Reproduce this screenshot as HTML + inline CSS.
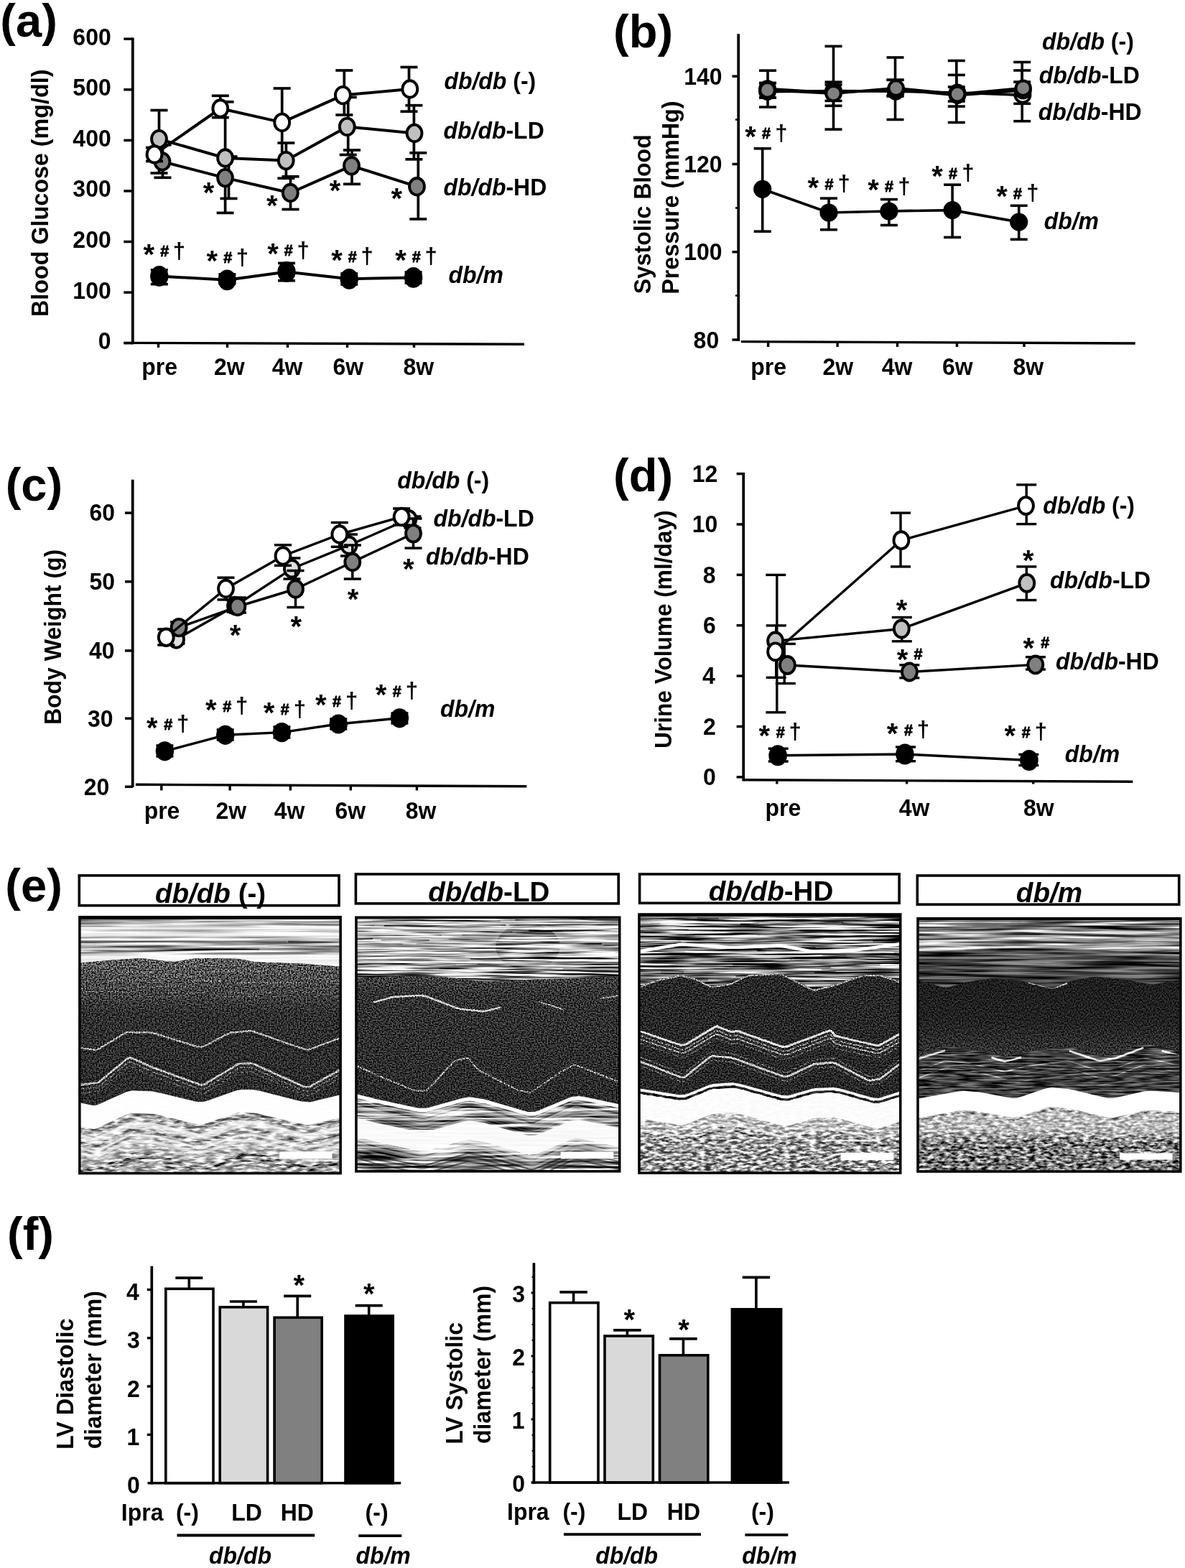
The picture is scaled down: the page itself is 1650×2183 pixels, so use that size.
<!DOCTYPE html>
<html lang="en"><head><meta charset="utf-8"><title>Figure</title>
<style>
html,body{margin:0;padding:0;background:#fff}
body{width:1650px;height:2183px;overflow:hidden}
svg{display:block}
svg text{font-family:'Liberation Sans', Arial, Helvetica, sans-serif;font-weight:700;fill:#000}
</style></head><body>
<svg width="1650" height="2183" viewBox="0 0 1650 2183">
<defs>
<clipPath id="ec1"><rect x="112.1" y="1279.5" width="360.8" height="352.7"/></clipPath>
<filter id="ef1_0" filterUnits="userSpaceOnUse" x="110.1" y="1277.5" width="364.8" height="356.7" color-interpolation-filters="sRGB"><feGaussianBlur in="SourceGraphic" stdDeviation="0.6" result="base"/><feTurbulence type="fractalNoise" baseFrequency="0.006 0.3" numOctaves="3" seed="14" result="t1"/><feColorMatrix in="t1" type="matrix" values="2.6 0 0 0 -0.8 2.6 0 0 0 -0.8 2.6 0 0 0 -0.8 0 0 0 0 1" result="n"/><feBlend in="n" in2="base" mode="overlay"/></filter>
<clipPath id="el1_0"><path d="M109.1,1276.5 L475.9,1276.5 L480,1346.18 L479.54,1346.15 L475.35,1345.81 L470.69,1345.44 L432.49,1342.38 L427.28,1341.99 L418.06,1341.49 L412.01,1341.26 L366.17,1339.74 L360.4,1339.51 L353.69,1339.01 L351.28,1338.62 L336,1335.56 L333.67,1335.18 L327.8,1334.78 L322.97,1334.67 L284.76,1334.06 L279.83,1334.03 L273.12,1334.36 L269.87,1334.8 L246.95,1338.47 L243.79,1338.87 L237.92,1338.87 L233.92,1338.47 L203.35,1334.8 L199.26,1334.38 L192.55,1334.21 L188.46,1334.43 L157.9,1336.57 L153.81,1336.86 L147.1,1337.4 L143.01,1337.76 L112.45,1340.51 L108.72,1340.85 L105.37,1341.15 L105,1341.18 Z"/></clipPath>
<linearGradient id="eg1_0" gradientUnits="userSpaceOnUse" x1="0" y1="1279" x2="0" y2="1342"><stop offset="0" stop-color="#aaaaaa"/><stop offset="0.16" stop-color="#b9b9b9"/><stop offset="0.21" stop-color="#fafafa"/><stop offset="0.27" stop-color="#c8c8c8"/><stop offset="0.35" stop-color="#fafafa"/><stop offset="0.43" stop-color="#b9b9b9"/><stop offset="0.75" stop-color="#afafaf"/><stop offset="0.83" stop-color="#f0f0f0"/><stop offset="1" stop-color="#f0f0f0"/></linearGradient>
<filter id="ef1_1" filterUnits="userSpaceOnUse" x="110.1" y="1277.5" width="364.8" height="356.7" color-interpolation-filters="sRGB"><feGaussianBlur in="SourceGraphic" stdDeviation="0.5" result="base"/><feTurbulence type="fractalNoise" baseFrequency="0.5 0.55" numOctaves="2" seed="17" result="t1"/><feColorMatrix in="t1" type="matrix" values="2.7 0 0 0 -0.85 2.7 0 0 0 -0.85 2.7 0 0 0 -0.85 0 0 0 0 1" result="n"/><feBlend in="n" in2="base" mode="overlay"/></filter>
<clipPath id="el1_1"><path d="M105,1341.18 L105.37,1341.15 L108.72,1340.85 L112.45,1340.51 L143.01,1337.76 L147.1,1337.4 L153.81,1336.86 L157.9,1336.57 L188.46,1334.43 L192.55,1334.21 L199.26,1334.38 L203.35,1334.8 L233.92,1338.47 L237.92,1338.87 L243.79,1338.87 L246.95,1338.47 L269.87,1334.8 L273.12,1334.36 L279.83,1334.03 L284.76,1334.06 L322.97,1334.67 L327.8,1334.78 L333.67,1335.18 L336,1335.56 L351.28,1338.62 L353.69,1339.01 L360.4,1339.51 L366.17,1339.74 L412.01,1341.26 L418.06,1341.49 L427.28,1341.99 L432.49,1342.38 L470.69,1345.44 L475.35,1345.81 L479.54,1346.15 L480,1346.18 L480,1523.73 L479.58,1523.83 L475.72,1524.77 L471.44,1525.81 L436.29,1534.37 L431.42,1535.26 L422.19,1534.84 L415.81,1533.44 L366.91,1521.06 L360.77,1519.55 L353.73,1518.19 L351.28,1518.05 L336,1518.05 L333.71,1518.19 L328.18,1519.55 L323.71,1521.06 L288.56,1533.44 L283.75,1534.82 L275.03,1534.98 L269.2,1533.81 L224.89,1522.96 L219.21,1521.63 L211.83,1520.36 L208.51,1520.13 L185.58,1519.37 L182.41,1519.45 L176.37,1520.96 L172.18,1522.72 L140.09,1537.24 L135.96,1538.95 L130.43,1540.1 L127.81,1539.77 L109.47,1535.64 L107.23,1535.14 L105.22,1534.69 L105,1534.64 Z"/></clipPath>
<linearGradient id="eg1_1" gradientUnits="userSpaceOnUse" x1="0" y1="1338" x2="0" y2="1540"><stop offset="0" stop-color="#5a5a5a"/><stop offset="0.16" stop-color="#484848"/><stop offset="0.36" stop-color="#303030"/><stop offset="1" stop-color="#2c2c2c"/></linearGradient>
<filter id="ef1_2" filterUnits="userSpaceOnUse" x="110.1" y="1277.5" width="364.8" height="356.7" color-interpolation-filters="sRGB"><feGaussianBlur in="SourceGraphic" stdDeviation="0.6" result="base"/><feTurbulence type="fractalNoise" baseFrequency="0.07 0.28" numOctaves="3" seed="20" result="t1"/><feColorMatrix in="t1" type="matrix" values="2.4 0 0 0 -0.7 2.4 0 0 0 -0.7 2.4 0 0 0 -0.7 0 0 0 0 1" result="n"/><feBlend in="n" in2="base" mode="overlay"/></filter>
<clipPath id="el1_2"><path d="M105,1533.64 L105.22,1533.69 L107.23,1534.14 L109.47,1534.64 L127.81,1538.77 L130.43,1539.1 L135.96,1537.95 L140.09,1536.24 L172.18,1521.72 L176.37,1519.96 L182.41,1518.45 L185.58,1518.37 L208.51,1519.13 L211.83,1519.36 L219.21,1520.63 L224.89,1521.96 L269.2,1532.81 L275.03,1533.98 L283.75,1533.82 L288.56,1532.44 L323.71,1520.06 L328.18,1518.55 L333.71,1517.19 L336,1517.05 L351.28,1517.05 L353.73,1517.19 L360.77,1518.55 L366.91,1520.06 L415.81,1532.44 L422.19,1533.84 L431.42,1534.26 L436.29,1533.37 L471.44,1524.81 L475.72,1523.77 L479.58,1522.83 L480,1522.73 L475.9,1635.2 L109.1,1635.2 Z"/></clipPath>
<clipPath id="ec2"><rect x="497.2" y="1278.5" width="364.3" height="350.9"/></clipPath>
<filter id="ef2_0" filterUnits="userSpaceOnUse" x="495.2" y="1276.5" width="368.3" height="354.9" color-interpolation-filters="sRGB"><feGaussianBlur in="SourceGraphic" stdDeviation="0.5" result="base"/><feTurbulence type="fractalNoise" baseFrequency="0.01 0.36" numOctaves="3" seed="25" result="t1"/><feColorMatrix in="t1" type="matrix" values="3.6 0 0 0 -1.3 3.6 0 0 0 -1.3 3.6 0 0 0 -1.3 0 0 0 0 1" result="n"/><feBlend in="n" in2="base" mode="overlay"/></filter>
<clipPath id="el2_0"><path d="M494.2,1275.5 L864.5,1275.5 L870.01,1358.67 L869.36,1358.7 L863.41,1358.95 L856.81,1359.23 L802.6,1361.56 L795.44,1361.86 L784.4,1362.28 L778.08,1362.5 L731.63,1364.05 L725.59,1364.26 L717.1,1364.6 L712.76,1364.8 L681.79,1366.35 L677.65,1366.49 L670.85,1366.24 L666.7,1365.79 L635.73,1361.92 L631.4,1361.42 L622.9,1360.83 L616.87,1360.59 L570.41,1359.05 L564.19,1358.89 L553.99,1358.97 L547.78,1359.23 L501.32,1361.56 L495.66,1361.84 L490.56,1362.1 L490,1362.12 Z"/></clipPath>
<linearGradient id="eg2_0" gradientUnits="userSpaceOnUse" x1="0" y1="1279" x2="0" y2="1362"><stop offset="0" stop-color="#c3c3c3"/><stop offset="0.25" stop-color="#c6c6c6"/><stop offset="0.73" stop-color="#b4b4b4"/><stop offset="1" stop-color="#787878"/></linearGradient>
<filter id="ef2_1" filterUnits="userSpaceOnUse" x="495.2" y="1276.5" width="368.3" height="354.9" color-interpolation-filters="sRGB"><feGaussianBlur in="SourceGraphic" stdDeviation="0.5" result="base"/><feTurbulence type="fractalNoise" baseFrequency="0.5 0.55" numOctaves="2" seed="28" result="t1"/><feColorMatrix in="t1" type="matrix" values="2.7 0 0 0 -0.85 2.7 0 0 0 -0.85 2.7 0 0 0 -0.85 0 0 0 0 1" result="n"/><feBlend in="n" in2="base" mode="overlay"/></filter>
<clipPath id="el2_1"><path d="M490,1362.12 L490.56,1362.1 L495.66,1361.84 L501.32,1361.56 L547.78,1359.23 L553.99,1358.97 L564.19,1358.89 L570.41,1359.05 L616.87,1360.59 L622.9,1360.83 L631.4,1361.42 L635.73,1361.92 L666.7,1365.79 L670.85,1366.24 L677.65,1366.49 L681.79,1366.35 L712.76,1364.8 L717.1,1364.6 L725.59,1364.26 L731.63,1364.05 L778.08,1362.5 L784.4,1362.28 L795.44,1361.86 L802.6,1361.56 L856.81,1359.23 L863.41,1358.95 L869.36,1358.7 L870.01,1358.67 L870.01,1540 L869.45,1539.88 L864.35,1538.81 L858.69,1537.62 L812.23,1527.87 L806.09,1526.88 L796.57,1527.68 L791.11,1529.64 L750.84,1546.68 L745.4,1548.59 L736.05,1549.02 L730.1,1547.62 L685.19,1534.46 L679.53,1532.82 L672.9,1531.12 L670.47,1530.68 L654.99,1528.36 L652.6,1528.22 L646.31,1529.24 L641.03,1530.62 L599.22,1542.24 L593.6,1543.54 L584.25,1543.8 L578.47,1542.8 L535.11,1533.51 L529.55,1532.31 L522.24,1530.64 L518.89,1529.82 L495.66,1523.93 L492.83,1523.21 L490.28,1522.57 L490,1522.5 Z"/></clipPath>
<linearGradient id="eg2_1" gradientUnits="userSpaceOnUse" x1="0" y1="1360" x2="0" y2="1520"><stop offset="0" stop-color="#404040"/><stop offset="0.16" stop-color="#323232"/><stop offset="1" stop-color="#2c2c2c"/></linearGradient>
<filter id="ef2_2" filterUnits="userSpaceOnUse" x="495.2" y="1276.5" width="368.3" height="354.9" color-interpolation-filters="sRGB"><feGaussianBlur in="SourceGraphic" stdDeviation="0.5" result="base"/><feTurbulence type="fractalNoise" baseFrequency="0.012 0.3" numOctaves="3" seed="31" result="t1"/><feColorMatrix in="t1" type="matrix" values="2.6 0 0 0 -0.8 2.6 0 0 0 -0.8 2.6 0 0 0 -0.8 0 0 0 0 1" result="n"/><feBlend in="n" in2="base" mode="overlay"/></filter>
<clipPath id="el2_2"><path d="M490,1521.5 L490.28,1521.57 L492.83,1522.21 L495.66,1522.93 L518.89,1528.82 L522.24,1529.64 L529.55,1531.31 L535.11,1532.51 L578.47,1541.8 L584.25,1542.8 L593.6,1542.54 L599.22,1541.24 L641.03,1529.62 L646.31,1528.24 L652.6,1527.22 L654.99,1527.36 L670.47,1529.68 L672.9,1530.12 L679.53,1531.82 L685.19,1533.46 L730.1,1546.62 L736.05,1548.02 L745.4,1547.59 L750.84,1545.68 L791.11,1528.64 L796.57,1526.68 L806.09,1525.88 L812.23,1526.87 L858.69,1536.62 L864.35,1537.81 L869.45,1538.88 L870.01,1539 L864.5,1632.4 L494.2,1632.4 Z"/></clipPath>
<linearGradient id="eg2_2" gradientUnits="userSpaceOnUse" x1="0" y1="1520" x2="0" y2="1632"><stop offset="0" stop-color="#a0a0a0"/><stop offset="0.7" stop-color="#a0a0a0"/><stop offset="0.77" stop-color="#7d7d7d"/><stop offset="1" stop-color="#878787"/></linearGradient>
<clipPath id="ec3"><rect x="891.2" y="1275.7" width="361.3" height="356.1"/></clipPath>
<filter id="ef3_0" filterUnits="userSpaceOnUse" x="889.2" y="1273.7" width="365.3" height="360.1" color-interpolation-filters="sRGB"><feGaussianBlur in="SourceGraphic" stdDeviation="0.5" result="base"/><feTurbulence type="fractalNoise" baseFrequency="0.01 0.36" numOctaves="3" seed="36" result="t1"/><feColorMatrix in="t1" type="matrix" values="3.6 0 0 0 -1.3 3.6 0 0 0 -1.3 3.6 0 0 0 -1.3 0 0 0 0 1" result="n"/><feBlend in="n" in2="base" mode="overlay"/></filter>
<clipPath id="el3_0"><path d="M888.2,1272.7 L1255.5,1272.7 L1260.01,1368.64 L1259.73,1368.55 L1257.18,1367.7 L1254.35,1366.75 L1231.12,1359.01 L1228.11,1358.07 L1223.86,1357.22 L1221.69,1357.12 L1206.2,1357.12 L1204.04,1357.22 L1199.79,1358.07 L1196.77,1359.01 L1173.54,1366.75 L1170.44,1367.77 L1165.34,1369.3 L1162.23,1370.15 L1139,1376.34 L1135.98,1377 L1131.73,1376.83 L1129.57,1375.96 L1114.08,1368.22 L1112.01,1367.19 L1108.61,1365.49 L1106.54,1364.45 L1091.05,1356.71 L1088.79,1355.78 L1083.69,1355.1 L1079.73,1355.2 L1048.76,1356.75 L1044.8,1357.03 L1039.7,1358.05 L1037.44,1359.01 L1021.96,1366.75 L1019.85,1367.73 L1016.11,1368.92 L1013.66,1369.39 L995.08,1372.49 L992.63,1372.77 L988.89,1372.26 L986.78,1371.36 L971.29,1363.62 L969.25,1362.64 L966.19,1361.45 L964.5,1360.98 L952.11,1357.88 L950.32,1357.56 L946.41,1357.73 L943.43,1358.26 L920.2,1362.9 L917.1,1363.58 L912,1365.11 L908.89,1366.3 L885.66,1375.59 L882.83,1376.72 L880.28,1377.74 L880,1377.85 Z"/></clipPath>
<linearGradient id="eg3_0" gradientUnits="userSpaceOnUse" x1="0" y1="1276" x2="0" y2="1375"><stop offset="0" stop-color="#7d7d7d"/><stop offset="0.34" stop-color="#737373"/><stop offset="0.55" stop-color="#646464"/><stop offset="1" stop-color="#505050"/></linearGradient>
<filter id="ef3_1" filterUnits="userSpaceOnUse" x="889.2" y="1273.7" width="365.3" height="360.1" color-interpolation-filters="sRGB"><feGaussianBlur in="SourceGraphic" stdDeviation="0.5" result="base"/><feTurbulence type="fractalNoise" baseFrequency="0.5 0.55" numOctaves="2" seed="39" result="t1"/><feColorMatrix in="t1" type="matrix" values="2.7 0 0 0 -0.85 2.7 0 0 0 -0.85 2.7 0 0 0 -0.85 0 0 0 0 1" result="n"/><feBlend in="n" in2="base" mode="overlay"/></filter>
<clipPath id="el3_1"><path d="M880,1377.85 L880.28,1377.74 L882.83,1376.72 L885.66,1375.59 L908.89,1366.3 L912,1365.11 L917.1,1363.58 L920.2,1362.9 L943.43,1358.26 L946.41,1357.73 L950.32,1357.56 L952.11,1357.88 L964.5,1360.98 L966.19,1361.45 L969.25,1362.64 L971.29,1363.62 L986.78,1371.36 L988.89,1372.26 L992.63,1372.77 L995.08,1372.49 L1013.66,1369.39 L1016.11,1368.92 L1019.85,1367.73 L1021.96,1366.75 L1037.44,1359.01 L1039.7,1358.05 L1044.8,1357.03 L1048.76,1356.75 L1079.73,1355.2 L1083.69,1355.1 L1088.79,1355.78 L1091.05,1356.71 L1106.54,1364.45 L1108.61,1365.49 L1112.01,1367.19 L1114.08,1368.22 L1129.57,1375.96 L1131.73,1376.83 L1135.98,1377 L1139,1376.34 L1162.23,1370.15 L1165.34,1369.3 L1170.44,1367.77 L1173.54,1366.75 L1196.77,1359.01 L1199.79,1358.07 L1204.04,1357.22 L1206.2,1357.12 L1221.69,1357.12 L1223.86,1357.22 L1228.11,1358.07 L1231.12,1359.01 L1254.35,1366.75 L1257.18,1367.7 L1259.73,1368.55 L1260.01,1368.64 L1260.01,1518.19 L1259.69,1518.29 L1256.8,1519.23 L1253.6,1520.26 L1227.27,1528.78 L1223.6,1529.69 L1216.46,1529.43 L1211.43,1528.21 L1172.71,1517.37 L1167.75,1516.06 L1161.29,1514.96 L1158.38,1514.92 L1138.24,1515.7 L1135.47,1515.88 L1130.38,1516.82 L1126.93,1517.77 L1100.6,1525.51 L1096.82,1526.3 L1088.66,1525.7 L1082.49,1524.19 L1034.49,1511.03 L1028.38,1509.45 L1020.73,1508.17 L1017.51,1508.2 L995.83,1509.75 L992.87,1510.07 L987.6,1511.43 L984.13,1512.77 L957.81,1523.61 L954.02,1524.84 L945.87,1525.18 L939.7,1524.36 L891.69,1516.62 L885.85,1515.68 L880.58,1514.83 L880,1514.73 Z"/></clipPath>
<filter id="ef3_2" filterUnits="userSpaceOnUse" x="889.2" y="1273.7" width="365.3" height="360.1" color-interpolation-filters="sRGB"><feGaussianBlur in="SourceGraphic" stdDeviation="0.5" result="base"/><feTurbulence type="fractalNoise" baseFrequency="0.11 0.3" numOctaves="3" seed="42" result="t1"/><feColorMatrix in="t1" type="matrix" values="2.8 0 0 0 -0.9 2.8 0 0 0 -0.9 2.8 0 0 0 -0.9 0 0 0 0 1" result="n"/><feBlend in="n" in2="base" mode="overlay"/></filter>
<clipPath id="el3_2"><path d="M880,1513.73 L880.58,1513.83 L885.85,1514.68 L891.69,1515.62 L939.7,1523.36 L945.87,1524.18 L954.02,1523.84 L957.81,1522.61 L984.13,1511.77 L987.6,1510.43 L992.87,1509.07 L995.83,1508.75 L1017.51,1507.2 L1020.73,1507.17 L1028.38,1508.45 L1034.49,1510.03 L1082.49,1523.19 L1088.66,1524.7 L1096.82,1525.3 L1100.6,1524.51 L1126.93,1516.77 L1130.38,1515.82 L1135.47,1514.88 L1138.24,1514.7 L1158.38,1513.92 L1161.29,1513.96 L1167.75,1515.06 L1172.71,1516.37 L1211.43,1527.21 L1216.46,1528.43 L1223.6,1528.69 L1227.27,1527.78 L1253.6,1519.26 L1256.8,1518.23 L1259.69,1517.29 L1260.01,1517.19 L1255.5,1634.8 L888.2,1634.8 Z"/></clipPath>
<linearGradient id="eg3_2" gradientUnits="userSpaceOnUse" x1="0" y1="1500" x2="0" y2="1632"><stop offset="0" stop-color="#d2d2d2"/><stop offset="0.53" stop-color="#c3c3c3"/><stop offset="0.68" stop-color="#a0a0a0"/><stop offset="1" stop-color="#969696"/></linearGradient>
<clipPath id="ec4"><rect x="1279.2" y="1280.5" width="363.4" height="349.3"/></clipPath>
<filter id="ef4_0" filterUnits="userSpaceOnUse" x="1277.2" y="1278.5" width="367.4" height="353.3" color-interpolation-filters="sRGB"><feGaussianBlur in="SourceGraphic" stdDeviation="0.8" result="base"/><feTurbulence type="fractalNoise" baseFrequency="0.008 0.28" numOctaves="3" seed="47" result="t1"/><feColorMatrix in="t1" type="matrix" values="2.2 0 0 0 -0.6 2.2 0 0 0 -0.6 2.2 0 0 0 -0.6 0 0 0 0 1" result="n"/><feBlend in="n" in2="base" mode="overlay"/></filter>
<clipPath id="el4_0"><path d="M1276.2,1277.5 L1645.6,1277.5 L1650.01,1362.88 L1649.64,1362.95 L1646.24,1363.54 L1642.46,1364.2 L1611.49,1369.62 L1607.44,1370.23 L1601.49,1370.31 L1598.29,1369.81 L1575.06,1365.16 L1571.86,1364.56 L1565.91,1363.71 L1561.86,1363.28 L1530.88,1360.18 L1526.83,1359.86 L1520.88,1360.03 L1517.68,1360.56 L1494.45,1365.2 L1491.44,1365.85 L1487.19,1367.13 L1485.02,1368.03 L1469.53,1375 L1467.33,1375.77 L1462.74,1375.77 L1459.35,1375 L1433.02,1368.03 L1429.48,1367.15 L1423.53,1366.04 L1419.82,1365.58 L1391.94,1362.48 L1388.27,1362.14 L1382.66,1362.14 L1379.5,1362.48 L1356.27,1365.58 L1353.16,1366.03 L1348.06,1367.05 L1344.95,1367.84 L1321.72,1374.04 L1318.52,1374.68 L1312.57,1374.34 L1308.52,1373.28 L1277.54,1363.99 L1273.77,1362.86 L1270.37,1361.84 L1270,1361.73 Z"/></clipPath>
<linearGradient id="eg4_0" gradientUnits="userSpaceOnUse" x1="0" y1="1281" x2="0" y2="1375"><stop offset="0" stop-color="#6e6e6e"/><stop offset="0.16" stop-color="#787878"/><stop offset="0.26" stop-color="#9b9b9b"/><stop offset="0.41" stop-color="#8c8c8c"/><stop offset="0.48" stop-color="#505050"/><stop offset="1" stop-color="#3a3a3a"/></linearGradient>
<filter id="ef4_1" filterUnits="userSpaceOnUse" x="1277.2" y="1278.5" width="367.4" height="353.3" color-interpolation-filters="sRGB"><feGaussianBlur in="SourceGraphic" stdDeviation="0.6" result="base"/><feTurbulence type="fractalNoise" baseFrequency="0.5 0.55" numOctaves="2" seed="50" result="t1"/><feColorMatrix in="t1" type="matrix" values="2.4 0 0 0 -0.7 2.4 0 0 0 -0.7 2.4 0 0 0 -0.7 0 0 0 0 1" result="n"/><feBlend in="n" in2="base" mode="overlay"/></filter>
<clipPath id="el4_1"><path d="M1270,1361.73 L1270.37,1361.84 L1273.77,1362.86 L1277.54,1363.99 L1308.52,1373.28 L1312.57,1374.34 L1318.52,1374.68 L1321.72,1374.04 L1344.95,1367.84 L1348.06,1367.05 L1353.16,1366.03 L1356.27,1365.58 L1379.5,1362.48 L1382.66,1362.14 L1388.27,1362.14 L1391.94,1362.48 L1419.82,1365.58 L1423.53,1366.04 L1429.48,1367.15 L1433.02,1368.03 L1459.35,1375 L1462.74,1375.77 L1467.33,1375.77 L1469.53,1375 L1485.02,1368.03 L1487.19,1367.13 L1491.44,1365.85 L1494.45,1365.2 L1517.68,1360.56 L1520.88,1360.03 L1526.83,1359.86 L1530.88,1360.18 L1561.86,1363.28 L1565.91,1363.71 L1571.86,1364.56 L1575.06,1365.16 L1598.29,1369.81 L1601.49,1370.31 L1607.44,1370.23 L1611.49,1369.62 L1642.46,1364.2 L1646.24,1363.54 L1649.64,1362.95 L1650.01,1362.88 L1650.01,1466.28 L1649.77,1466.21 L1647.56,1465.62 L1645.11,1464.96 L1624.97,1459.54 L1622.3,1458.83 L1618.05,1457.81 L1615.54,1457.27 L1596.96,1453.4 L1594.38,1453.05 L1589.45,1453.73 L1586.02,1454.91 L1559.69,1464.98 L1556.3,1466.23 L1551.71,1467.59 L1549.51,1468 L1534.02,1470.32 L1531.8,1470.49 L1527.04,1469.72 L1523.46,1468.62 L1495.58,1459.33 L1491.72,1458.25 L1484.41,1457.74 L1479.36,1458.2 L1440.65,1462.84 L1435.67,1463.47 L1429.04,1464.58 L1425.93,1465.3 L1404.25,1470.72 L1401.18,1471.27 L1394.9,1470.93 L1390.3,1469.96 L1354.68,1461.44 L1350.1,1460.39 L1343.98,1459.28 L1341.1,1458.99 L1320.97,1457.44 L1318.14,1457.39 L1312.53,1458.5 L1308.52,1459.89 L1277.54,1471.51 L1273.77,1472.92 L1270.37,1474.2 L1270,1474.34 Z"/></clipPath>
<linearGradient id="eg4_1" gradientUnits="userSpaceOnUse" x1="0" y1="1360" x2="0" y2="1470"><stop offset="0" stop-color="#1e1e1e"/><stop offset="0.55" stop-color="#222222"/><stop offset="1" stop-color="#343434"/></linearGradient>
<filter id="ef4_2" filterUnits="userSpaceOnUse" x="1277.2" y="1278.5" width="367.4" height="353.3" color-interpolation-filters="sRGB"><feGaussianBlur in="SourceGraphic" stdDeviation="0.6" result="base"/><feTurbulence type="fractalNoise" baseFrequency="0.03 0.4" numOctaves="3" seed="53" result="t1"/><feColorMatrix in="t1" type="matrix" values="2.2 0 0 0 -0.6 2.2 0 0 0 -0.6 2.2 0 0 0 -0.6 0 0 0 0 1" result="n"/><feBlend in="n" in2="base" mode="overlay"/></filter>
<clipPath id="el4_2"><path d="M1270,1474.34 L1270.37,1474.2 L1273.77,1472.92 L1277.54,1471.51 L1308.52,1459.89 L1312.53,1458.5 L1318.14,1457.39 L1320.97,1457.44 L1341.1,1458.99 L1343.98,1459.28 L1350.1,1460.39 L1354.68,1461.44 L1390.3,1469.96 L1394.9,1470.93 L1401.18,1471.27 L1404.25,1470.72 L1425.93,1465.3 L1429.04,1464.58 L1435.67,1463.47 L1440.65,1462.84 L1479.36,1458.2 L1484.41,1457.74 L1491.72,1458.25 L1495.58,1459.33 L1523.46,1468.62 L1527.04,1469.72 L1531.8,1470.49 L1534.02,1470.32 L1549.51,1468 L1551.71,1467.59 L1556.3,1466.23 L1559.69,1464.98 L1586.02,1454.91 L1589.45,1453.73 L1594.38,1453.05 L1596.96,1453.4 L1615.54,1457.27 L1618.05,1457.81 L1622.3,1458.83 L1624.97,1459.54 L1645.11,1464.96 L1647.56,1465.62 L1649.77,1466.21 L1650.01,1466.28 L1650.01,1522.1 L1649.58,1522.08 L1645.67,1521.88 L1641.33,1521.65 L1605.71,1519.79 L1600.97,1519.66 L1593.32,1520.3 L1588.74,1521.23 L1554.67,1528.97 L1550.05,1529.8 L1542.07,1529.63 L1536.94,1528.59 L1498.22,1519.3 L1493.28,1518.15 L1487,1516.96 L1484.27,1516.66 L1465.68,1515.11 L1463.03,1515.05 L1457.42,1516.07 L1453.23,1517.37 L1420.71,1528.21 L1416.38,1529.46 L1409.41,1529.97 L1405.25,1529.35 L1374.27,1523.15 L1370.28,1522.38 L1364.84,1521.53 L1362.2,1521.27 L1343.62,1519.72 L1340.8,1519.63 L1333.66,1520.4 L1327.78,1521.41 L1281.32,1529.93 L1275.66,1530.97 L1270.56,1531.9 L1270,1532.01 Z"/></clipPath>
<filter id="ef4_3" filterUnits="userSpaceOnUse" x="1277.2" y="1278.5" width="367.4" height="353.3" color-interpolation-filters="sRGB"><feGaussianBlur in="SourceGraphic" stdDeviation="0.7" result="base"/><feTurbulence type="fractalNoise" baseFrequency="0.12 0.3" numOctaves="3" seed="56" result="t1"/><feColorMatrix in="t1" type="matrix" values="2.2 0 0 0 -0.6 2.2 0 0 0 -0.6 2.2 0 0 0 -0.6 0 0 0 0 1" result="n"/><feBlend in="n" in2="base" mode="overlay"/></filter>
<clipPath id="el4_3"><path d="M1270,1531.01 L1270.56,1530.9 L1275.66,1529.97 L1281.32,1528.93 L1327.78,1520.41 L1333.66,1519.4 L1340.8,1518.63 L1343.62,1518.72 L1362.2,1520.27 L1364.84,1520.53 L1370.28,1521.38 L1374.27,1522.15 L1405.25,1528.35 L1409.41,1528.97 L1416.38,1528.46 L1420.71,1527.21 L1453.23,1516.37 L1457.42,1515.07 L1463.03,1514.05 L1465.68,1514.11 L1484.27,1515.66 L1487,1515.96 L1493.28,1517.15 L1498.22,1518.3 L1536.94,1527.59 L1542.07,1528.63 L1550.05,1528.8 L1554.67,1527.97 L1588.74,1520.23 L1593.32,1519.3 L1600.97,1518.66 L1605.71,1518.79 L1641.33,1520.65 L1645.67,1520.88 L1649.58,1521.08 L1650.01,1521.1 L1645.6,1632.8 L1276.2,1632.8 Z"/></clipPath>
<linearGradient id="eg4_3" gradientUnits="userSpaceOnUse" x1="0" y1="1530" x2="0" y2="1632"><stop offset="0" stop-color="#c8c8c8"/><stop offset="0.41" stop-color="#b9b9b9"/><stop offset="0.61" stop-color="#7d7d7d"/><stop offset="1" stop-color="#737373"/></linearGradient>
</defs>
<rect width="1650" height="2183" fill="#fff"/>
<g id="pa">
<text transform="translate(3.6 50.6)" x="-3.25" y="0" font-size="65" fill="#000" xml:space="preserve">(a)</text>
<text transform="translate(67 438.9) rotate(-90) scale(0.95 1)" x="-2.21" y="0" font-size="34" fill="#000" xml:space="preserve">Blood Glucose (mg/dl)</text>
<line x1="184.8" y1="52.5" x2="184.8" y2="479.2" stroke="#000" stroke-width="3.8"/>
<line x1="172.5" y1="477.4" x2="730" y2="479.2" stroke="#000" stroke-width="3.4"/>
<line x1="172.3" y1="54.2" x2="185" y2="54.2" stroke="#000" stroke-width="3.5"/>
<text transform="translate(153.3 62.6) scale(0.94 1)" x="-55.25" y="0" font-size="34" fill="#000" xml:space="preserve">600</text>
<line x1="172.3" y1="124.78" x2="185" y2="124.78" stroke="#000" stroke-width="3.5"/>
<text transform="translate(153.3 133.18) scale(0.94 1)" x="-55.25" y="0" font-size="34" fill="#000" xml:space="preserve">500</text>
<line x1="172.3" y1="195.36" x2="185" y2="195.36" stroke="#000" stroke-width="3.5"/>
<text transform="translate(153.3 203.76) scale(0.94 1)" x="-55.25" y="0" font-size="34" fill="#000" xml:space="preserve">400</text>
<line x1="172.3" y1="265.94" x2="185" y2="265.94" stroke="#000" stroke-width="3.5"/>
<text transform="translate(153.3 274.34) scale(0.94 1)" x="-55.25" y="0" font-size="34" fill="#000" xml:space="preserve">300</text>
<line x1="172.3" y1="336.52" x2="185" y2="336.52" stroke="#000" stroke-width="3.5"/>
<text transform="translate(153.3 344.92) scale(0.94 1)" x="-55.25" y="0" font-size="34" fill="#000" xml:space="preserve">200</text>
<line x1="172.3" y1="407.1" x2="185" y2="407.1" stroke="#000" stroke-width="3.5"/>
<text transform="translate(153.3 415.5) scale(0.94 1)" x="-55.25" y="0" font-size="34" fill="#000" xml:space="preserve">100</text>
<line x1="172.3" y1="477.68" x2="185" y2="477.68" stroke="#000" stroke-width="3.5"/>
<text transform="translate(153.3 486.08) scale(0.94 1)" x="-17.51" y="0" font-size="34" fill="#000" xml:space="preserve">0</text>
<line x1="220.5" y1="478" x2="220.5" y2="484" stroke="#000" stroke-width="3.4"/>
<line x1="316.5" y1="478" x2="316.5" y2="484" stroke="#000" stroke-width="3.4"/>
<line x1="400.5" y1="478" x2="400.5" y2="484" stroke="#000" stroke-width="3.4"/>
<line x1="483.5" y1="478" x2="483.5" y2="484" stroke="#000" stroke-width="3.4"/>
<line x1="576.5" y1="478" x2="576.5" y2="484" stroke="#000" stroke-width="3.4"/>
<text transform="translate(199.3 522.4) scale(0.94 1)" x="-2.21" y="0" font-size="34" fill="#000" xml:space="preserve">pre</text>
<text transform="translate(299 522.4) scale(0.94 1)" x="-1.19" y="0" font-size="34" fill="#000" xml:space="preserve">2w</text>
<text transform="translate(379.3 522.4) scale(0.94 1)" x="-0.51" y="0" font-size="34" fill="#000" xml:space="preserve">4w</text>
<text transform="translate(464.7 522.4) scale(0.94 1)" x="-1.19" y="0" font-size="34" fill="#000" xml:space="preserve">6w</text>
<text transform="translate(562.5 522.4) scale(0.94 1)" x="-1.02" y="0" font-size="34" fill="#000" xml:space="preserve">8w</text>
<line x1="221.8" y1="375.8" x2="221.8" y2="395.6" stroke="#000" stroke-width="3.7"/>
<line x1="209.8" y1="375.8" x2="233.8" y2="375.8" stroke="#000" stroke-width="3.7"/>
<line x1="209.8" y1="395.6" x2="233.8" y2="395.6" stroke="#000" stroke-width="3.7"/>
<line x1="316.4" y1="382" x2="316.4" y2="394.7" stroke="#000" stroke-width="3.7"/>
<line x1="304.4" y1="382" x2="328.4" y2="382" stroke="#000" stroke-width="3.7"/>
<line x1="304.4" y1="394.7" x2="328.4" y2="394.7" stroke="#000" stroke-width="3.7"/>
<line x1="399" y1="366.4" x2="399" y2="390.7" stroke="#000" stroke-width="3.7"/>
<line x1="387" y1="366.4" x2="411" y2="366.4" stroke="#000" stroke-width="3.7"/>
<line x1="387" y1="390.7" x2="411" y2="390.7" stroke="#000" stroke-width="3.7"/>
<line x1="486.2" y1="381" x2="486.2" y2="396" stroke="#000" stroke-width="3.7"/>
<line x1="474.2" y1="381" x2="498.2" y2="381" stroke="#000" stroke-width="3.7"/>
<line x1="474.2" y1="396" x2="498.2" y2="396" stroke="#000" stroke-width="3.7"/>
<line x1="575.6" y1="379" x2="575.6" y2="394" stroke="#000" stroke-width="3.7"/>
<line x1="563.6" y1="379" x2="587.6" y2="379" stroke="#000" stroke-width="3.7"/>
<line x1="563.6" y1="394" x2="587.6" y2="394" stroke="#000" stroke-width="3.7"/>
<polyline points="221.8,384.5 316.2,389.8 399,378.4 486.2,388.3 575.6,386.4" fill="none" stroke="#000" stroke-width="4" stroke-linejoin="round"/>
<ellipse cx="221.8" cy="384.5" rx="10.75" ry="12.45" fill="#000" stroke="#000" stroke-width="3.9"/>
<ellipse cx="316.2" cy="389.8" rx="10.75" ry="12.45" fill="#000" stroke="#000" stroke-width="3.9"/>
<ellipse cx="399" cy="378.4" rx="10.75" ry="12.45" fill="#000" stroke="#000" stroke-width="3.9"/>
<ellipse cx="486.2" cy="388.3" rx="10.75" ry="12.45" fill="#000" stroke="#000" stroke-width="3.9"/>
<ellipse cx="575.6" cy="386.4" rx="10.75" ry="12.45" fill="#000" stroke="#000" stroke-width="3.9"/>
<line x1="221.5" y1="153.5" x2="221.5" y2="241" stroke="#000" stroke-width="3.7"/>
<line x1="209.5" y1="153.5" x2="233.5" y2="153.5" stroke="#000" stroke-width="3.7"/>
<line x1="209.5" y1="241" x2="233.5" y2="241" stroke="#000" stroke-width="3.7"/>
<line x1="313.6" y1="141.8" x2="313.6" y2="296.4" stroke="#000" stroke-width="3.7"/>
<line x1="301.6" y1="141.8" x2="325.6" y2="141.8" stroke="#000" stroke-width="3.7"/>
<line x1="301.6" y1="296.4" x2="325.6" y2="296.4" stroke="#000" stroke-width="3.7"/>
<line x1="398.4" y1="199" x2="398.4" y2="248.2" stroke="#000" stroke-width="3.7"/>
<line x1="386.4" y1="199" x2="410.4" y2="199" stroke="#000" stroke-width="3.7"/>
<line x1="386.4" y1="248.2" x2="410.4" y2="248.2" stroke="#000" stroke-width="3.7"/>
<line x1="484.7" y1="135.4" x2="484.7" y2="215.5" stroke="#000" stroke-width="3.7"/>
<line x1="472.7" y1="135.4" x2="496.7" y2="135.4" stroke="#000" stroke-width="3.7"/>
<line x1="472.7" y1="215.5" x2="496.7" y2="215.5" stroke="#000" stroke-width="3.7"/>
<line x1="576.4" y1="146.7" x2="576.4" y2="221.8" stroke="#000" stroke-width="3.7"/>
<line x1="564.4" y1="146.7" x2="588.4" y2="146.7" stroke="#000" stroke-width="3.7"/>
<line x1="564.4" y1="221.8" x2="588.4" y2="221.8" stroke="#000" stroke-width="3.7"/>
<line x1="226.5" y1="201.7" x2="226.5" y2="247.3" stroke="#000" stroke-width="3.7"/>
<line x1="214.5" y1="201.7" x2="238.5" y2="201.7" stroke="#000" stroke-width="3.7"/>
<line x1="214.5" y1="247.3" x2="238.5" y2="247.3" stroke="#000" stroke-width="3.7"/>
<line x1="318.5" y1="218" x2="318.5" y2="276.4" stroke="#000" stroke-width="3.7"/>
<line x1="306.5" y1="218" x2="330.5" y2="218" stroke="#000" stroke-width="3.7"/>
<line x1="306.5" y1="276.4" x2="330.5" y2="276.4" stroke="#000" stroke-width="3.7"/>
<line x1="404.5" y1="245.8" x2="404.5" y2="291.5" stroke="#000" stroke-width="3.7"/>
<line x1="392.5" y1="245.8" x2="416.5" y2="245.8" stroke="#000" stroke-width="3.7"/>
<line x1="392.5" y1="291.5" x2="416.5" y2="291.5" stroke="#000" stroke-width="3.7"/>
<line x1="490" y1="209" x2="490" y2="256.3" stroke="#000" stroke-width="3.7"/>
<line x1="478" y1="209" x2="502" y2="209" stroke="#000" stroke-width="3.7"/>
<line x1="478" y1="256.3" x2="502" y2="256.3" stroke="#000" stroke-width="3.7"/>
<line x1="582.3" y1="212.8" x2="582.3" y2="305" stroke="#000" stroke-width="3.7"/>
<line x1="570.3" y1="212.8" x2="594.3" y2="212.8" stroke="#000" stroke-width="3.7"/>
<line x1="570.3" y1="305" x2="594.3" y2="305" stroke="#000" stroke-width="3.7"/>
<polyline points="226,225 313.5,247.6 404.3,268.5 489.5,230.8 580.5,259.7" fill="none" stroke="#000" stroke-width="4" stroke-linejoin="round"/>
<ellipse cx="226" cy="225" rx="10.45" ry="11.75" fill="#808080" stroke="#000" stroke-width="3.9"/>
<ellipse cx="313.5" cy="247.6" rx="10.45" ry="11.75" fill="#808080" stroke="#000" stroke-width="3.9"/>
<ellipse cx="404.3" cy="268.5" rx="10.45" ry="11.75" fill="#808080" stroke="#000" stroke-width="3.9"/>
<ellipse cx="489.5" cy="230.8" rx="10.45" ry="11.75" fill="#808080" stroke="#000" stroke-width="3.9"/>
<ellipse cx="580.5" cy="259.7" rx="10.45" ry="11.75" fill="#808080" stroke="#000" stroke-width="3.9"/>
<line x1="215" y1="205.5" x2="215" y2="224.5" stroke="#000" stroke-width="3.7"/>
<line x1="203" y1="205.5" x2="227" y2="205.5" stroke="#000" stroke-width="3.7"/>
<line x1="203" y1="224.5" x2="227" y2="224.5" stroke="#000" stroke-width="3.7"/>
<line x1="306.8" y1="133.3" x2="306.8" y2="163.6" stroke="#000" stroke-width="3.7"/>
<line x1="294.8" y1="133.3" x2="318.8" y2="133.3" stroke="#000" stroke-width="3.7"/>
<line x1="294.8" y1="163.6" x2="318.8" y2="163.6" stroke="#000" stroke-width="3.7"/>
<line x1="392.7" y1="123" x2="392.7" y2="212" stroke="#000" stroke-width="3.7"/>
<line x1="380.7" y1="123" x2="404.7" y2="123" stroke="#000" stroke-width="3.7"/>
<line x1="479.3" y1="98" x2="479.3" y2="160" stroke="#000" stroke-width="3.7"/>
<line x1="467.3" y1="98" x2="491.3" y2="98" stroke="#000" stroke-width="3.7"/>
<line x1="467.3" y1="160" x2="491.3" y2="160" stroke="#000" stroke-width="3.7"/>
<line x1="569.5" y1="93.5" x2="569.5" y2="155.2" stroke="#000" stroke-width="3.7"/>
<line x1="557.5" y1="93.5" x2="581.5" y2="93.5" stroke="#000" stroke-width="3.7"/>
<line x1="557.5" y1="155.2" x2="581.5" y2="155.2" stroke="#000" stroke-width="3.7"/>
<polyline points="221.5,193.6 313.6,220 398.2,223.6 483.3,176.4 577,185.4" fill="none" stroke="#000" stroke-width="4" stroke-linejoin="round"/>
<ellipse cx="221.5" cy="193.6" rx="10.45" ry="11.75" fill="#c0c0c0" stroke="#000" stroke-width="3.9"/>
<ellipse cx="313.6" cy="220" rx="10.45" ry="11.75" fill="#c0c0c0" stroke="#000" stroke-width="3.9"/>
<ellipse cx="398.2" cy="223.6" rx="10.45" ry="11.75" fill="#c0c0c0" stroke="#000" stroke-width="3.9"/>
<ellipse cx="483.3" cy="176.4" rx="10.45" ry="11.75" fill="#c0c0c0" stroke="#000" stroke-width="3.9"/>
<ellipse cx="577" cy="185.4" rx="10.45" ry="11.75" fill="#c0c0c0" stroke="#000" stroke-width="3.9"/>
<polyline points="215,215 306.8,151 392.7,170.4 477.4,132.6 570.8,124" fill="none" stroke="#000" stroke-width="4" stroke-linejoin="round"/>
<ellipse cx="215" cy="215" rx="10.45" ry="11.75" fill="#fff" stroke="#000" stroke-width="3.9"/>
<ellipse cx="306.8" cy="151" rx="10.45" ry="11.75" fill="#fff" stroke="#000" stroke-width="3.9"/>
<ellipse cx="392.7" cy="170.4" rx="10.45" ry="11.75" fill="#fff" stroke="#000" stroke-width="3.9"/>
<ellipse cx="477.4" cy="132.6" rx="10.45" ry="11.75" fill="#fff" stroke="#000" stroke-width="3.9"/>
<ellipse cx="570.8" cy="124" rx="10.45" ry="11.75" fill="#fff" stroke="#000" stroke-width="3.9"/>
<text transform="translate(619.4 124.3) scale(0.94 1)" x="-1.02" y="0" font-size="34" fill="#000" xml:space="preserve"><tspan font-style="italic">db/db</tspan><tspan> (-)</tspan></text>
<text transform="translate(618.5 193.2) scale(0.94 1)" x="-1.02" y="0" font-size="34" fill="#000" xml:space="preserve"><tspan font-style="italic">db/db</tspan><tspan>-LD</tspan></text>
<text transform="translate(618.5 271.5) scale(0.94 1)" x="-1.02" y="0" font-size="34" fill="#000" xml:space="preserve"><tspan font-style="italic">db/db</tspan><tspan>-HD</tspan></text>
<text transform="translate(625.5 393.6) scale(0.94 1)" x="-1.02" y="0" font-size="34" fill="#000" xml:space="preserve"><tspan font-style="italic">db/m</tspan></text>
<text transform="translate(290.5 282.2)" x="-7.8" y="0" font-size="40">*</text>
<text transform="translate(378.7 300.2)" x="-7.8" y="0" font-size="40">*</text>
<text transform="translate(466.6 279.2)" x="-7.8" y="0" font-size="40">*</text>
<text transform="translate(552.4 290.2)" x="-7.8" y="0" font-size="40">*</text>
<text transform="translate(207.3 368.2)" x="-7.8" y="0" font-size="40">*</text>
<text transform="translate(229.1 357.31)" x="-5.97" y="0" font-size="21.5" stroke="#000" stroke-width="0.9" stroke-linejoin="round">#</text>
<text transform="translate(249.3 359.73)" x="-8.6" y="0" font-size="31" font-weight="400">†</text>
<text transform="translate(295.3 377.2)" x="-7.8" y="0" font-size="40">*</text>
<text transform="translate(317.1 366.31)" x="-5.97" y="0" font-size="21.5" stroke="#000" stroke-width="0.9" stroke-linejoin="round">#</text>
<text transform="translate(337.3 368.73)" x="-8.6" y="0" font-size="31" font-weight="400">†</text>
<text transform="translate(380 367.2)" x="-7.8" y="0" font-size="40">*</text>
<text transform="translate(401.8 356.31)" x="-5.97" y="0" font-size="21.5" stroke="#000" stroke-width="0.9" stroke-linejoin="round">#</text>
<text transform="translate(422 358.73)" x="-8.6" y="0" font-size="31" font-weight="400">†</text>
<text transform="translate(469 375.7)" x="-7.8" y="0" font-size="40">*</text>
<text transform="translate(490.8 364.81)" x="-5.97" y="0" font-size="21.5" stroke="#000" stroke-width="0.9" stroke-linejoin="round">#</text>
<text transform="translate(511 367.23)" x="-8.6" y="0" font-size="31" font-weight="400">†</text>
<text transform="translate(558 375.7)" x="-7.8" y="0" font-size="40">*</text>
<text transform="translate(579.8 364.81)" x="-5.97" y="0" font-size="21.5" stroke="#000" stroke-width="0.9" stroke-linejoin="round">#</text>
<text transform="translate(600 367.23)" x="-8.6" y="0" font-size="31" font-weight="400">†</text>
</g>
<g id="pb">
<text transform="translate(857.3 65.9)" x="-3.25" y="0" font-size="65" fill="#000" xml:space="preserve">(b)</text>
<text transform="translate(906 408.3) rotate(-90) scale(0.94 1)" x="-1.02" y="0" font-size="34" fill="#000" xml:space="preserve">Systolic Blood</text>
<text transform="translate(945.2 407.6) rotate(-90) scale(0.95 1)" x="-2.21" y="0" font-size="34" fill="#000" xml:space="preserve">Pressure (mmHg)</text>
<line x1="1028.2" y1="47.3" x2="1028.2" y2="475" stroke="#000" stroke-width="3.8"/>
<line x1="1031.8" y1="475.6" x2="1580.7" y2="478" stroke="#000" stroke-width="3.4"/>
<line x1="1019.5" y1="106.2" x2="1028.4" y2="106.2" stroke="#000" stroke-width="3.5"/>
<text transform="translate(1004.2 117.8) scale(0.94 1)" x="-55.25" y="0" font-size="34" fill="#000" xml:space="preserve">140</text>
<line x1="1019.5" y1="228.47" x2="1028.4" y2="228.47" stroke="#000" stroke-width="3.5"/>
<text transform="translate(1004.2 240.07) scale(0.94 1)" x="-55.25" y="0" font-size="34" fill="#000" xml:space="preserve">120</text>
<line x1="1019.5" y1="350.74" x2="1028.4" y2="350.74" stroke="#000" stroke-width="3.5"/>
<text transform="translate(1004.2 362.34) scale(0.94 1)" x="-55.25" y="0" font-size="34" fill="#000" xml:space="preserve">100</text>
<line x1="1019.5" y1="473.01" x2="1028.4" y2="473.01" stroke="#000" stroke-width="3.5"/>
<text transform="translate(999.8 484.61) scale(0.94 1)" x="-36.38" y="0" font-size="34" fill="#000" xml:space="preserve">80</text>
<line x1="1024" y1="166.5" x2="1028.4" y2="166.5" stroke="#000" stroke-width="2.6"/>
<line x1="1024" y1="289.5" x2="1028.4" y2="289.5" stroke="#000" stroke-width="2.6"/>
<line x1="1024" y1="411.5" x2="1028.4" y2="411.5" stroke="#000" stroke-width="2.6"/>
<line x1="1069.6" y1="477" x2="1069.6" y2="483" stroke="#000" stroke-width="3.4"/>
<line x1="1166.1" y1="477" x2="1166.1" y2="483" stroke="#000" stroke-width="3.4"/>
<line x1="1249.5" y1="477" x2="1249.5" y2="483" stroke="#000" stroke-width="3.4"/>
<line x1="1332.4" y1="477" x2="1332.4" y2="483" stroke="#000" stroke-width="3.4"/>
<line x1="1426" y1="477" x2="1426" y2="483" stroke="#000" stroke-width="3.4"/>
<text transform="translate(1047.3 522.4) scale(0.94 1)" x="-2.21" y="0" font-size="34" fill="#000" xml:space="preserve">pre</text>
<text transform="translate(1146.7 522.4) scale(0.94 1)" x="-1.19" y="0" font-size="34" fill="#000" xml:space="preserve">2w</text>
<text transform="translate(1228.2 522.4) scale(0.94 1)" x="-0.51" y="0" font-size="34" fill="#000" xml:space="preserve">4w</text>
<text transform="translate(1313 522.4) scale(0.94 1)" x="-1.19" y="0" font-size="34" fill="#000" xml:space="preserve">6w</text>
<text transform="translate(1411.5 522.4) scale(0.94 1)" x="-1.02" y="0" font-size="34" fill="#000" xml:space="preserve">8w</text>
<line x1="1061.7" y1="206.8" x2="1061.7" y2="322.2" stroke="#000" stroke-width="3.6"/>
<line x1="1049.7" y1="206.8" x2="1073.7" y2="206.8" stroke="#000" stroke-width="3.6"/>
<line x1="1049.7" y1="322.2" x2="1073.7" y2="322.2" stroke="#000" stroke-width="3.6"/>
<line x1="1154" y1="276.1" x2="1154" y2="319.8" stroke="#000" stroke-width="3.6"/>
<line x1="1142" y1="276.1" x2="1166" y2="276.1" stroke="#000" stroke-width="3.6"/>
<line x1="1142" y1="319.8" x2="1166" y2="319.8" stroke="#000" stroke-width="3.6"/>
<line x1="1237.9" y1="277.6" x2="1237.9" y2="313.5" stroke="#000" stroke-width="3.6"/>
<line x1="1225.9" y1="277.6" x2="1249.9" y2="277.6" stroke="#000" stroke-width="3.6"/>
<line x1="1225.9" y1="313.5" x2="1249.9" y2="313.5" stroke="#000" stroke-width="3.6"/>
<line x1="1326.1" y1="257.2" x2="1326.1" y2="330.4" stroke="#000" stroke-width="3.6"/>
<line x1="1314.1" y1="257.2" x2="1338.1" y2="257.2" stroke="#000" stroke-width="3.6"/>
<line x1="1314.1" y1="330.4" x2="1338.1" y2="330.4" stroke="#000" stroke-width="3.6"/>
<line x1="1418.7" y1="286.3" x2="1418.7" y2="333.3" stroke="#000" stroke-width="3.6"/>
<line x1="1406.7" y1="286.3" x2="1430.7" y2="286.3" stroke="#000" stroke-width="3.6"/>
<line x1="1406.7" y1="333.3" x2="1430.7" y2="333.3" stroke="#000" stroke-width="3.6"/>
<polyline points="1061.7,263.3 1154,296 1237.9,294 1326.1,292.6 1418.7,309.1" fill="none" stroke="#000" stroke-width="3.7" stroke-linejoin="round"/>
<ellipse cx="1061.7" cy="263.3" rx="10.65" ry="10.65" fill="#000" stroke="#000" stroke-width="3.9"/>
<ellipse cx="1154" cy="296" rx="10.65" ry="10.65" fill="#000" stroke="#000" stroke-width="3.9"/>
<ellipse cx="1237.9" cy="294" rx="10.65" ry="10.65" fill="#000" stroke="#000" stroke-width="3.9"/>
<ellipse cx="1326.1" cy="292.6" rx="10.65" ry="10.65" fill="#000" stroke="#000" stroke-width="3.9"/>
<ellipse cx="1418.7" cy="309.1" rx="10.65" ry="10.65" fill="#000" stroke="#000" stroke-width="3.9"/>
<line x1="1069" y1="98.2" x2="1069" y2="149.1" stroke="#000" stroke-width="3.6"/>
<line x1="1057" y1="98.2" x2="1081" y2="98.2" stroke="#000" stroke-width="3.6"/>
<line x1="1057" y1="149.1" x2="1081" y2="149.1" stroke="#000" stroke-width="3.6"/>
<line x1="1160.5" y1="64.4" x2="1160.5" y2="180.1" stroke="#000" stroke-width="3.6"/>
<line x1="1148.5" y1="64.4" x2="1172.5" y2="64.4" stroke="#000" stroke-width="3.6"/>
<line x1="1148.5" y1="180.1" x2="1172.5" y2="180.1" stroke="#000" stroke-width="3.6"/>
<line x1="1246.5" y1="80" x2="1246.5" y2="166.5" stroke="#000" stroke-width="3.6"/>
<line x1="1234.5" y1="80" x2="1258.5" y2="80" stroke="#000" stroke-width="3.6"/>
<line x1="1234.5" y1="166.5" x2="1258.5" y2="166.5" stroke="#000" stroke-width="3.6"/>
<line x1="1331.8" y1="84.5" x2="1331.8" y2="170.5" stroke="#000" stroke-width="3.6"/>
<line x1="1319.8" y1="84.5" x2="1343.8" y2="84.5" stroke="#000" stroke-width="3.6"/>
<line x1="1319.8" y1="170.5" x2="1343.8" y2="170.5" stroke="#000" stroke-width="3.6"/>
<line x1="1423.2" y1="86.5" x2="1423.2" y2="168.7" stroke="#000" stroke-width="3.6"/>
<line x1="1411.2" y1="86.5" x2="1435.2" y2="86.5" stroke="#000" stroke-width="3.6"/>
<line x1="1411.2" y1="168.7" x2="1435.2" y2="168.7" stroke="#000" stroke-width="3.6"/>
<line x1="1069" y1="115.6" x2="1069" y2="136" stroke="#000" stroke-width="3.6"/>
<line x1="1057" y1="115.6" x2="1081" y2="115.6" stroke="#000" stroke-width="3.6"/>
<line x1="1057" y1="136" x2="1081" y2="136" stroke="#000" stroke-width="3.6"/>
<line x1="1160.5" y1="118" x2="1160.5" y2="147.3" stroke="#000" stroke-width="3.6"/>
<line x1="1148.5" y1="118" x2="1172.5" y2="118" stroke="#000" stroke-width="3.6"/>
<line x1="1148.5" y1="147.3" x2="1172.5" y2="147.3" stroke="#000" stroke-width="3.6"/>
<line x1="1246.5" y1="111.3" x2="1246.5" y2="134" stroke="#000" stroke-width="3.6"/>
<line x1="1234.5" y1="111.3" x2="1258.5" y2="111.3" stroke="#000" stroke-width="3.6"/>
<line x1="1234.5" y1="134" x2="1258.5" y2="134" stroke="#000" stroke-width="3.6"/>
<line x1="1331.8" y1="104.4" x2="1331.8" y2="148.1" stroke="#000" stroke-width="3.6"/>
<line x1="1319.8" y1="104.4" x2="1343.8" y2="104.4" stroke="#000" stroke-width="3.6"/>
<line x1="1319.8" y1="148.1" x2="1343.8" y2="148.1" stroke="#000" stroke-width="3.6"/>
<line x1="1423.2" y1="98" x2="1423.2" y2="144.3" stroke="#000" stroke-width="3.6"/>
<line x1="1411.2" y1="98" x2="1435.2" y2="98" stroke="#000" stroke-width="3.6"/>
<line x1="1411.2" y1="144.3" x2="1435.2" y2="144.3" stroke="#000" stroke-width="3.6"/>
<line x1="1069" y1="115.6" x2="1069" y2="136" stroke="#000" stroke-width="3.6"/>
<line x1="1057" y1="115.6" x2="1081" y2="115.6" stroke="#000" stroke-width="3.6"/>
<line x1="1057" y1="136" x2="1081" y2="136" stroke="#000" stroke-width="3.6"/>
<line x1="1160.5" y1="114.2" x2="1160.5" y2="140.4" stroke="#000" stroke-width="3.6"/>
<line x1="1148.5" y1="114.2" x2="1172.5" y2="114.2" stroke="#000" stroke-width="3.6"/>
<line x1="1148.5" y1="140.4" x2="1172.5" y2="140.4" stroke="#000" stroke-width="3.6"/>
<line x1="1246.5" y1="111.3" x2="1246.5" y2="133" stroke="#000" stroke-width="3.6"/>
<line x1="1234.5" y1="111.3" x2="1258.5" y2="111.3" stroke="#000" stroke-width="3.6"/>
<line x1="1234.5" y1="133" x2="1258.5" y2="133" stroke="#000" stroke-width="3.6"/>
<line x1="1331.8" y1="121" x2="1331.8" y2="141" stroke="#000" stroke-width="3.6"/>
<line x1="1319.8" y1="121" x2="1343.8" y2="121" stroke="#000" stroke-width="3.6"/>
<line x1="1319.8" y1="141" x2="1343.8" y2="141" stroke="#000" stroke-width="3.6"/>
<line x1="1423.2" y1="114" x2="1423.2" y2="133" stroke="#000" stroke-width="3.6"/>
<line x1="1411.2" y1="114" x2="1435.2" y2="114" stroke="#000" stroke-width="3.6"/>
<line x1="1411.2" y1="133" x2="1435.2" y2="133" stroke="#000" stroke-width="3.6"/>
<polyline points="1068.5,127.6 1160.5,126.6 1247.2,127.2 1333,129 1424,132.3" fill="none" stroke="#000" stroke-width="3.7" stroke-linejoin="round"/>
<ellipse cx="1068.5" cy="127.6" rx="10.45" ry="10.45" fill="#fff" stroke="#000" stroke-width="3.9"/>
<ellipse cx="1160.5" cy="126.6" rx="10.45" ry="10.45" fill="#fff" stroke="#000" stroke-width="3.9"/>
<ellipse cx="1247.2" cy="127.2" rx="10.45" ry="10.45" fill="#fff" stroke="#000" stroke-width="3.9"/>
<ellipse cx="1333" cy="129" rx="10.45" ry="10.45" fill="#fff" stroke="#000" stroke-width="3.9"/>
<ellipse cx="1424" cy="132.3" rx="10.45" ry="10.45" fill="#fff" stroke="#000" stroke-width="3.9"/>
<polyline points="1068.6,123.6 1160.6,129 1247.4,124.5 1333,132.6 1424.4,126" fill="none" stroke="#000" stroke-width="3.7" stroke-linejoin="round"/>
<ellipse cx="1068.6" cy="123.6" rx="10.45" ry="10.45" fill="#c0c0c0" stroke="#000" stroke-width="3.9"/>
<ellipse cx="1160.6" cy="129" rx="10.45" ry="10.45" fill="#c0c0c0" stroke="#000" stroke-width="3.9"/>
<ellipse cx="1247.4" cy="124.5" rx="10.45" ry="10.45" fill="#c0c0c0" stroke="#000" stroke-width="3.9"/>
<ellipse cx="1333" cy="132.6" rx="10.45" ry="10.45" fill="#c0c0c0" stroke="#000" stroke-width="3.9"/>
<ellipse cx="1424.4" cy="126" rx="10.45" ry="10.45" fill="#c0c0c0" stroke="#000" stroke-width="3.9"/>
<polyline points="1068.5,125.4 1160.5,130.2 1247.7,122.6 1333.1,131.1 1424.7,122.7" fill="none" stroke="#000" stroke-width="3.7" stroke-linejoin="round"/>
<ellipse cx="1068.5" cy="125.4" rx="10.25" ry="10.25" fill="#808080" stroke="#000" stroke-width="3.9"/>
<ellipse cx="1160.5" cy="130.2" rx="10.25" ry="10.25" fill="#808080" stroke="#000" stroke-width="3.9"/>
<ellipse cx="1247.7" cy="122.6" rx="10.25" ry="10.25" fill="#808080" stroke="#000" stroke-width="3.9"/>
<ellipse cx="1333.1" cy="131.1" rx="10.25" ry="10.25" fill="#808080" stroke="#000" stroke-width="3.9"/>
<ellipse cx="1424.7" cy="122.7" rx="10.25" ry="10.25" fill="#808080" stroke="#000" stroke-width="3.9"/>
<text transform="translate(1452 68.7) scale(0.94 1)" x="-1.02" y="0" font-size="34" fill="#000" xml:space="preserve"><tspan font-style="italic">db/db</tspan><tspan> (-)</tspan></text>
<text transform="translate(1447.6 115.8) scale(0.94 1)" x="-1.02" y="0" font-size="34" fill="#000" xml:space="preserve"><tspan font-style="italic">db/db</tspan><tspan>-LD</tspan></text>
<text transform="translate(1446.8 166.7) scale(0.94 1)" x="-1.02" y="0" font-size="34" fill="#000" xml:space="preserve"><tspan font-style="italic">db/db</tspan><tspan>-HD</tspan></text>
<text transform="translate(1454.6 318.8) scale(0.94 1)" x="-1.02" y="0" font-size="34" fill="#000" xml:space="preserve"><tspan font-style="italic">db/m</tspan></text>
<text transform="translate(1045 204.2)" x="-7.8" y="0" font-size="40">*</text>
<text transform="translate(1067 193.31)" x="-5.97" y="0" font-size="21.5" stroke="#000" stroke-width="0.9" stroke-linejoin="round">#</text>
<text transform="translate(1087.8 195.73)" x="-8.6" y="0" font-size="31" font-weight="400">†</text>
<text transform="translate(1132.4 274.7)" x="-7.8" y="0" font-size="40">*</text>
<text transform="translate(1154.4 263.81)" x="-5.97" y="0" font-size="21.5" stroke="#000" stroke-width="0.9" stroke-linejoin="round">#</text>
<text transform="translate(1175.2 266.23)" x="-8.6" y="0" font-size="31" font-weight="400">†</text>
<text transform="translate(1216 278.2)" x="-7.8" y="0" font-size="40">*</text>
<text transform="translate(1238 267.31)" x="-5.97" y="0" font-size="21.5" stroke="#000" stroke-width="0.9" stroke-linejoin="round">#</text>
<text transform="translate(1258.8 269.73)" x="-8.6" y="0" font-size="31" font-weight="400">†</text>
<text transform="translate(1305 259.4)" x="-7.8" y="0" font-size="40">*</text>
<text transform="translate(1327 248.51)" x="-5.97" y="0" font-size="21.5" stroke="#000" stroke-width="0.9" stroke-linejoin="round">#</text>
<text transform="translate(1347.8 250.93)" x="-8.6" y="0" font-size="31" font-weight="400">†</text>
<text transform="translate(1395 287.4)" x="-7.8" y="0" font-size="40">*</text>
<text transform="translate(1417 276.51)" x="-5.97" y="0" font-size="21.5" stroke="#000" stroke-width="0.9" stroke-linejoin="round">#</text>
<text transform="translate(1437.8 278.93)" x="-8.6" y="0" font-size="31" font-weight="400">†</text>
</g>
<g id="pc">
<text transform="translate(10.9 697.3)" x="-3.25" y="0" font-size="65" fill="#000" xml:space="preserve">(c)</text>
<text transform="translate(84.8 1007) rotate(-90) scale(0.94 1)" x="-2.21" y="0" font-size="34" fill="#000" xml:space="preserve">Body Weight (g)</text>
<line x1="184.7" y1="667.8" x2="184.7" y2="1096" stroke="#000" stroke-width="3.8"/>
<line x1="188.9" y1="1092.3" x2="733.3" y2="1094.8" stroke="#000" stroke-width="3.4"/>
<line x1="174" y1="714.1" x2="185" y2="714.1" stroke="#000" stroke-width="3.5"/>
<text transform="translate(158.6 725.4) scale(0.94 1)" x="-36.38" y="0" font-size="34" fill="#000" xml:space="preserve">60</text>
<line x1="174" y1="809.8" x2="185" y2="809.8" stroke="#000" stroke-width="3.5"/>
<text transform="translate(158.6 821.1) scale(0.94 1)" x="-36.38" y="0" font-size="34" fill="#000" xml:space="preserve">50</text>
<line x1="174" y1="905.9" x2="185" y2="905.9" stroke="#000" stroke-width="3.5"/>
<text transform="translate(158.2 917.2) scale(0.94 1)" x="-36.38" y="0" font-size="34" fill="#000" xml:space="preserve">40</text>
<line x1="174" y1="1000.2" x2="185" y2="1000.2" stroke="#000" stroke-width="3.5"/>
<text transform="translate(156.2 1011.5) scale(0.94 1)" x="-36.38" y="0" font-size="34" fill="#000" xml:space="preserve">30</text>
<line x1="174" y1="1095.3" x2="185" y2="1095.3" stroke="#000" stroke-width="3.5"/>
<text transform="translate(151 1106.6) scale(0.94 1)" x="-36.38" y="0" font-size="34" fill="#000" xml:space="preserve">20</text>
<line x1="224.8" y1="1094" x2="224.8" y2="1100.5" stroke="#000" stroke-width="3.4"/>
<line x1="320.1" y1="1094" x2="320.1" y2="1100.5" stroke="#000" stroke-width="3.4"/>
<line x1="404.4" y1="1094" x2="404.4" y2="1100.5" stroke="#000" stroke-width="3.4"/>
<line x1="488.3" y1="1094" x2="488.3" y2="1100.5" stroke="#000" stroke-width="3.4"/>
<line x1="580.4" y1="1094" x2="580.4" y2="1100.5" stroke="#000" stroke-width="3.4"/>
<text transform="translate(202.7 1140.2) scale(0.94 1)" x="-2.21" y="0" font-size="34" fill="#000" xml:space="preserve">pre</text>
<text transform="translate(301.7 1140.2) scale(0.94 1)" x="-1.19" y="0" font-size="34" fill="#000" xml:space="preserve">2w</text>
<text transform="translate(382.3 1140.2) scale(0.94 1)" x="-0.51" y="0" font-size="34" fill="#000" xml:space="preserve">4w</text>
<text transform="translate(467.5 1140.2) scale(0.94 1)" x="-1.19" y="0" font-size="34" fill="#000" xml:space="preserve">6w</text>
<text transform="translate(565.6 1140.2) scale(0.94 1)" x="-1.02" y="0" font-size="34" fill="#000" xml:space="preserve">8w</text>
<line x1="229.4" y1="1038" x2="229.4" y2="1053" stroke="#000" stroke-width="3.5"/>
<line x1="217.4" y1="1038" x2="241.4" y2="1038" stroke="#000" stroke-width="3.5"/>
<line x1="217.4" y1="1053" x2="241.4" y2="1053" stroke="#000" stroke-width="3.5"/>
<line x1="313.7" y1="1016" x2="313.7" y2="1030" stroke="#000" stroke-width="3.5"/>
<line x1="301.7" y1="1016" x2="325.7" y2="1016" stroke="#000" stroke-width="3.5"/>
<line x1="301.7" y1="1030" x2="325.7" y2="1030" stroke="#000" stroke-width="3.5"/>
<line x1="392.4" y1="1012" x2="392.4" y2="1027" stroke="#000" stroke-width="3.5"/>
<line x1="380.4" y1="1012" x2="404.4" y2="1012" stroke="#000" stroke-width="3.5"/>
<line x1="380.4" y1="1027" x2="404.4" y2="1027" stroke="#000" stroke-width="3.5"/>
<line x1="471.2" y1="1001" x2="471.2" y2="1015" stroke="#000" stroke-width="3.5"/>
<line x1="459.2" y1="1001" x2="483.2" y2="1001" stroke="#000" stroke-width="3.5"/>
<line x1="459.2" y1="1015" x2="483.2" y2="1015" stroke="#000" stroke-width="3.5"/>
<line x1="556.4" y1="993" x2="556.4" y2="1007" stroke="#000" stroke-width="3.5"/>
<line x1="544.4" y1="993" x2="568.4" y2="993" stroke="#000" stroke-width="3.5"/>
<line x1="544.4" y1="1007" x2="568.4" y2="1007" stroke="#000" stroke-width="3.5"/>
<polyline points="229.4,1045.8 313.7,1023.3 392.4,1019.6 471.2,1008 556.4,999.8" fill="none" stroke="#000" stroke-width="3.4" stroke-linejoin="round"/>
<ellipse cx="229.4" cy="1045.8" rx="10.75" ry="11.65" fill="#000" stroke="#000" stroke-width="3.9"/>
<ellipse cx="313.7" cy="1023.3" rx="10.75" ry="11.65" fill="#000" stroke="#000" stroke-width="3.9"/>
<ellipse cx="392.4" cy="1019.6" rx="10.75" ry="11.65" fill="#000" stroke="#000" stroke-width="3.9"/>
<ellipse cx="471.2" cy="1008" rx="10.75" ry="11.65" fill="#000" stroke="#000" stroke-width="3.9"/>
<ellipse cx="556.4" cy="999.8" rx="10.75" ry="11.65" fill="#000" stroke="#000" stroke-width="3.9"/>
<line x1="245.5" y1="884" x2="245.5" y2="896" stroke="#000" stroke-width="3.5"/>
<line x1="233.5" y1="884" x2="257.5" y2="884" stroke="#000" stroke-width="3.5"/>
<line x1="233.5" y1="896" x2="257.5" y2="896" stroke="#000" stroke-width="3.5"/>
<line x1="327.5" y1="836" x2="327.5" y2="852" stroke="#000" stroke-width="3.5"/>
<line x1="315.5" y1="836" x2="339.5" y2="836" stroke="#000" stroke-width="3.5"/>
<line x1="315.5" y1="852" x2="339.5" y2="852" stroke="#000" stroke-width="3.5"/>
<line x1="406.4" y1="777" x2="406.4" y2="806" stroke="#000" stroke-width="3.5"/>
<line x1="394.4" y1="777" x2="418.4" y2="777" stroke="#000" stroke-width="3.5"/>
<line x1="394.4" y1="806" x2="418.4" y2="806" stroke="#000" stroke-width="3.5"/>
<line x1="486" y1="744" x2="486" y2="774" stroke="#000" stroke-width="3.5"/>
<line x1="474" y1="744" x2="498" y2="744" stroke="#000" stroke-width="3.5"/>
<line x1="474" y1="774" x2="498" y2="774" stroke="#000" stroke-width="3.5"/>
<line x1="574.5" y1="719" x2="574.5" y2="735" stroke="#000" stroke-width="3.5"/>
<line x1="562.5" y1="719" x2="586.5" y2="719" stroke="#000" stroke-width="3.5"/>
<line x1="562.5" y1="735" x2="586.5" y2="735" stroke="#000" stroke-width="3.5"/>
<polyline points="245.5,890 327.5,843.5 406.4,791.8 486,759.2 568.9,722.7" fill="none" stroke="#000" stroke-width="3.4" stroke-linejoin="round"/>
<ellipse cx="245.5" cy="890" rx="10.45" ry="11.75" fill="#e0e0e0" stroke="#000" stroke-width="3.9"/>
<ellipse cx="327.5" cy="843.5" rx="10.45" ry="11.75" fill="#e0e0e0" stroke="#000" stroke-width="3.9"/>
<ellipse cx="406.4" cy="791.8" rx="10.45" ry="11.75" fill="#e0e0e0" stroke="#000" stroke-width="3.9"/>
<ellipse cx="486" cy="759.2" rx="10.45" ry="11.75" fill="#e0e0e0" stroke="#000" stroke-width="3.9"/>
<ellipse cx="568.9" cy="722.7" rx="10.45" ry="11.75" fill="#e0e0e0" stroke="#000" stroke-width="3.9"/>
<line x1="249.1" y1="866" x2="249.1" y2="881" stroke="#000" stroke-width="3.5"/>
<line x1="237.1" y1="866" x2="261.1" y2="866" stroke="#000" stroke-width="3.5"/>
<line x1="237.1" y1="881" x2="261.1" y2="881" stroke="#000" stroke-width="3.5"/>
<line x1="330.9" y1="832" x2="330.9" y2="853" stroke="#000" stroke-width="3.5"/>
<line x1="318.9" y1="832" x2="342.9" y2="832" stroke="#000" stroke-width="3.5"/>
<line x1="318.9" y1="853" x2="342.9" y2="853" stroke="#000" stroke-width="3.5"/>
<line x1="411.5" y1="794.5" x2="411.5" y2="845.5" stroke="#000" stroke-width="3.5"/>
<line x1="399.5" y1="794.5" x2="423.5" y2="794.5" stroke="#000" stroke-width="3.5"/>
<line x1="399.5" y1="845.5" x2="423.5" y2="845.5" stroke="#000" stroke-width="3.5"/>
<line x1="490.8" y1="759" x2="490.8" y2="806" stroke="#000" stroke-width="3.5"/>
<line x1="478.8" y1="759" x2="502.8" y2="759" stroke="#000" stroke-width="3.5"/>
<line x1="478.8" y1="806" x2="502.8" y2="806" stroke="#000" stroke-width="3.5"/>
<line x1="575.5" y1="722" x2="575.5" y2="763.1" stroke="#000" stroke-width="3.5"/>
<line x1="563.5" y1="722" x2="587.5" y2="722" stroke="#000" stroke-width="3.5"/>
<line x1="563.5" y1="763.1" x2="587.5" y2="763.1" stroke="#000" stroke-width="3.5"/>
<line x1="231.3" y1="876" x2="231.3" y2="898" stroke="#000" stroke-width="3.5"/>
<line x1="219.3" y1="876" x2="243.3" y2="876" stroke="#000" stroke-width="3.5"/>
<line x1="219.3" y1="898" x2="243.3" y2="898" stroke="#000" stroke-width="3.5"/>
<line x1="314.5" y1="804.2" x2="314.5" y2="834.9" stroke="#000" stroke-width="3.5"/>
<line x1="302.5" y1="804.2" x2="326.5" y2="804.2" stroke="#000" stroke-width="3.5"/>
<line x1="302.5" y1="834.9" x2="326.5" y2="834.9" stroke="#000" stroke-width="3.5"/>
<line x1="394" y1="758.7" x2="394" y2="787.3" stroke="#000" stroke-width="3.5"/>
<line x1="382" y1="758.7" x2="406" y2="758.7" stroke="#000" stroke-width="3.5"/>
<line x1="382" y1="787.3" x2="406" y2="787.3" stroke="#000" stroke-width="3.5"/>
<line x1="472.8" y1="727.5" x2="472.8" y2="761.3" stroke="#000" stroke-width="3.5"/>
<line x1="460.8" y1="727.5" x2="484.8" y2="727.5" stroke="#000" stroke-width="3.5"/>
<line x1="460.8" y1="761.3" x2="484.8" y2="761.3" stroke="#000" stroke-width="3.5"/>
<line x1="559.1" y1="708" x2="559.1" y2="731" stroke="#000" stroke-width="3.5"/>
<line x1="547.1" y1="708" x2="571.1" y2="708" stroke="#000" stroke-width="3.5"/>
<line x1="547.1" y1="731" x2="571.1" y2="731" stroke="#000" stroke-width="3.5"/>
<polyline points="249.1,873.6 330.9,844.5 411.5,820 490.8,782.5 575.5,742.8" fill="none" stroke="#000" stroke-width="3.4" stroke-linejoin="round"/>
<ellipse cx="249.1" cy="873.6" rx="10.45" ry="11.75" fill="#808080" stroke="#000" stroke-width="3.9"/>
<ellipse cx="330.9" cy="844.5" rx="10.45" ry="11.75" fill="#808080" stroke="#000" stroke-width="3.9"/>
<ellipse cx="411.5" cy="820" rx="10.45" ry="11.75" fill="#808080" stroke="#000" stroke-width="3.9"/>
<ellipse cx="490.8" cy="782.5" rx="10.45" ry="11.75" fill="#808080" stroke="#000" stroke-width="3.9"/>
<ellipse cx="575.5" cy="742.8" rx="10.45" ry="11.75" fill="#808080" stroke="#000" stroke-width="3.9"/>
<polyline points="231.3,887.3 314.5,819.5 394,774 472.8,744 559.1,719.5" fill="none" stroke="#000" stroke-width="3.4" stroke-linejoin="round"/>
<ellipse cx="231.3" cy="887.3" rx="10.45" ry="11.75" fill="#fff" stroke="#000" stroke-width="3.9"/>
<ellipse cx="314.5" cy="819.5" rx="10.45" ry="11.75" fill="#fff" stroke="#000" stroke-width="3.9"/>
<ellipse cx="394" cy="774" rx="10.45" ry="11.75" fill="#fff" stroke="#000" stroke-width="3.9"/>
<ellipse cx="472.8" cy="744" rx="10.45" ry="11.75" fill="#fff" stroke="#000" stroke-width="3.9"/>
<ellipse cx="559.1" cy="719.5" rx="10.45" ry="11.75" fill="#fff" stroke="#000" stroke-width="3.9"/>
<text transform="translate(554.3 679.7) scale(0.94 1)" x="-1.02" y="0" font-size="34" fill="#000" xml:space="preserve"><tspan font-style="italic">db/db</tspan><tspan> (-)</tspan></text>
<text transform="translate(604.5 733) scale(0.94 1)" x="-1.02" y="0" font-size="34" fill="#000" xml:space="preserve"><tspan font-style="italic">db/db</tspan><tspan>-LD</tspan></text>
<text transform="translate(594 786) scale(0.94 1)" x="-1.02" y="0" font-size="34" fill="#000" xml:space="preserve"><tspan font-style="italic">db/db</tspan><tspan>-HD</tspan></text>
<text transform="translate(614 998.4) scale(0.94 1)" x="-1.02" y="0" font-size="34" fill="#000" xml:space="preserve"><tspan font-style="italic">db/m</tspan></text>
<text transform="translate(327.5 898)" x="-7.8" y="0" font-size="40">*</text>
<text transform="translate(412.4 885.7)" x="-7.8" y="0" font-size="40">*</text>
<text transform="translate(491.5 848.2)" x="-7.8" y="0" font-size="40">*</text>
<text transform="translate(568.9 805.6)" x="-7.8" y="0" font-size="40">*</text>
<text transform="translate(211.9 1026.9)" x="-7.8" y="0" font-size="40">*</text>
<text transform="translate(234.1 1016.01)" x="-5.97" y="0" font-size="21.5" stroke="#000" stroke-width="0.9" stroke-linejoin="round">#</text>
<text transform="translate(254.7 1018.43)" x="-8.6" y="0" font-size="31" font-weight="400">†</text>
<text transform="translate(293.9 1001.5)" x="-7.8" y="0" font-size="40">*</text>
<text transform="translate(316.1 990.61)" x="-5.97" y="0" font-size="21.5" stroke="#000" stroke-width="0.9" stroke-linejoin="round">#</text>
<text transform="translate(336.7 993.03)" x="-8.6" y="0" font-size="31" font-weight="400">†</text>
<text transform="translate(374.5 1006.2)" x="-7.8" y="0" font-size="40">*</text>
<text transform="translate(396.7 995.31)" x="-5.97" y="0" font-size="21.5" stroke="#000" stroke-width="0.9" stroke-linejoin="round">#</text>
<text transform="translate(417.3 997.73)" x="-8.6" y="0" font-size="31" font-weight="400">†</text>
<text transform="translate(446.8 994.6)" x="-7.8" y="0" font-size="40">*</text>
<text transform="translate(469 983.71)" x="-5.97" y="0" font-size="21.5" stroke="#000" stroke-width="0.9" stroke-linejoin="round">#</text>
<text transform="translate(489.6 986.13)" x="-8.6" y="0" font-size="31" font-weight="400">†</text>
<text transform="translate(530.6 980.8)" x="-7.8" y="0" font-size="40">*</text>
<text transform="translate(552.8 969.91)" x="-5.97" y="0" font-size="21.5" stroke="#000" stroke-width="0.9" stroke-linejoin="round">#</text>
<text transform="translate(573.4 972.33)" x="-8.6" y="0" font-size="31" font-weight="400">†</text>
</g>
<g id="pd">
<text transform="translate(857.3 684.3)" x="-3.25" y="0" font-size="65" fill="#000" xml:space="preserve">(d)</text>
<text transform="translate(934.8 1040) rotate(-90) scale(0.93 1)" x="-2.04" y="0" font-size="34" fill="#000" xml:space="preserve">Urine Volume (ml/day)</text>
<line x1="1035.2" y1="658" x2="1035.2" y2="1087.5" stroke="#000" stroke-width="3.8"/>
<line x1="1035.2" y1="1085.8" x2="1577.4" y2="1088.3" stroke="#000" stroke-width="3.4"/>
<line x1="1025.6" y1="659.6" x2="1035.4" y2="659.6" stroke="#000" stroke-width="3.5"/>
<text transform="translate(997.9 671) scale(0.94 1)" x="-36.38" y="0" font-size="34" fill="#000" xml:space="preserve">12</text>
<line x1="1025.6" y1="729.97" x2="1035.4" y2="729.97" stroke="#000" stroke-width="3.5"/>
<text transform="translate(997.9 741.37) scale(0.94 1)" x="-36.38" y="0" font-size="34" fill="#000" xml:space="preserve">10</text>
<line x1="1025.6" y1="800.34" x2="1035.4" y2="800.34" stroke="#000" stroke-width="3.5"/>
<text transform="translate(995.5 811.74) scale(0.94 1)" x="-17.85" y="0" font-size="34" fill="#000" xml:space="preserve">8</text>
<line x1="1025.6" y1="870.71" x2="1035.4" y2="870.71" stroke="#000" stroke-width="3.5"/>
<text transform="translate(995.5 882.11) scale(0.94 1)" x="-17.68" y="0" font-size="34" fill="#000" xml:space="preserve">6</text>
<line x1="1025.6" y1="941.08" x2="1035.4" y2="941.08" stroke="#000" stroke-width="3.5"/>
<text transform="translate(995.5 952.48) scale(0.94 1)" x="-18.7" y="0" font-size="34" fill="#000" xml:space="preserve">4</text>
<line x1="1025.6" y1="1011.45" x2="1035.4" y2="1011.45" stroke="#000" stroke-width="3.5"/>
<text transform="translate(995.5 1022.85) scale(0.94 1)" x="-17.51" y="0" font-size="34" fill="#000" xml:space="preserve">2</text>
<line x1="1025.6" y1="1081.82" x2="1035.4" y2="1081.82" stroke="#000" stroke-width="3.5"/>
<text transform="translate(995.5 1093.22) scale(0.94 1)" x="-17.51" y="0" font-size="34" fill="#000" xml:space="preserve">0</text>
<line x1="1081.8" y1="1087" x2="1081.8" y2="1091.5" stroke="#000" stroke-width="3.4"/>
<line x1="1262.6" y1="1087" x2="1262.6" y2="1091.5" stroke="#000" stroke-width="3.4"/>
<line x1="1438.7" y1="1087" x2="1438.7" y2="1091.5" stroke="#000" stroke-width="3.4"/>
<text transform="translate(1067.5 1135.5) scale(0.94 1)" x="-2.21" y="0" font-size="34" fill="#000" xml:space="preserve">pre</text>
<text transform="translate(1252.1 1135.5) scale(0.94 1)" x="-0.51" y="0" font-size="34" fill="#000" xml:space="preserve">4w</text>
<text transform="translate(1426 1135.5) scale(0.94 1)" x="-1.02" y="0" font-size="34" fill="#000" xml:space="preserve">8w</text>
<line x1="1083.7" y1="1042.2" x2="1083.7" y2="1060" stroke="#000" stroke-width="3.4"/>
<line x1="1069.7" y1="1042.2" x2="1097.7" y2="1042.2" stroke="#000" stroke-width="3.4"/>
<line x1="1069.7" y1="1060" x2="1097.7" y2="1060" stroke="#000" stroke-width="3.4"/>
<line x1="1261" y1="1040" x2="1261" y2="1059.7" stroke="#000" stroke-width="3.4"/>
<line x1="1247" y1="1040" x2="1275" y2="1040" stroke="#000" stroke-width="3.4"/>
<line x1="1247" y1="1059.7" x2="1275" y2="1059.7" stroke="#000" stroke-width="3.4"/>
<line x1="1432.3" y1="1050.4" x2="1432.3" y2="1065.6" stroke="#000" stroke-width="3.4"/>
<line x1="1418.3" y1="1050.4" x2="1446.3" y2="1050.4" stroke="#000" stroke-width="3.4"/>
<line x1="1418.3" y1="1065.6" x2="1446.3" y2="1065.6" stroke="#000" stroke-width="3.4"/>
<polyline points="1083.1,1051.8 1260,1050 1432.9,1058.5" fill="none" stroke="#000" stroke-width="3.4" stroke-linejoin="round"/>
<ellipse cx="1083.1" cy="1051.8" rx="10.85" ry="12.55" fill="#000" stroke="#000" stroke-width="3.9"/>
<ellipse cx="1260" cy="1050" rx="10.85" ry="12.55" fill="#000" stroke="#000" stroke-width="3.9"/>
<ellipse cx="1432.9" cy="1058.5" rx="10.85" ry="12.55" fill="#000" stroke="#000" stroke-width="3.9"/>
<line x1="1080.7" y1="870.9" x2="1080.7" y2="943.3" stroke="#000" stroke-width="3.4"/>
<line x1="1066.7" y1="870.9" x2="1094.7" y2="870.9" stroke="#000" stroke-width="3.4"/>
<line x1="1066.7" y1="943.3" x2="1094.7" y2="943.3" stroke="#000" stroke-width="3.4"/>
<line x1="1255.8" y1="859.5" x2="1255.8" y2="892.8" stroke="#000" stroke-width="3.4"/>
<line x1="1241.8" y1="859.5" x2="1269.8" y2="859.5" stroke="#000" stroke-width="3.4"/>
<line x1="1241.8" y1="892.8" x2="1269.8" y2="892.8" stroke="#000" stroke-width="3.4"/>
<line x1="1429.3" y1="788.9" x2="1429.3" y2="835.5" stroke="#000" stroke-width="3.4"/>
<line x1="1415.3" y1="788.9" x2="1443.3" y2="788.9" stroke="#000" stroke-width="3.4"/>
<line x1="1415.3" y1="835.5" x2="1443.3" y2="835.5" stroke="#000" stroke-width="3.4"/>
<line x1="1092.2" y1="896.4" x2="1092.2" y2="951.5" stroke="#000" stroke-width="3.4"/>
<line x1="1079.8" y1="896.4" x2="1107.8" y2="896.4" stroke="#000" stroke-width="3.4"/>
<line x1="1079.8" y1="951.5" x2="1107.8" y2="951.5" stroke="#000" stroke-width="3.4"/>
<line x1="1266.3" y1="925.8" x2="1266.3" y2="943.8" stroke="#000" stroke-width="3.4"/>
<line x1="1252.3" y1="925.8" x2="1280.3" y2="925.8" stroke="#000" stroke-width="3.4"/>
<line x1="1252.3" y1="943.8" x2="1280.3" y2="943.8" stroke="#000" stroke-width="3.4"/>
<line x1="1441.9" y1="914.7" x2="1441.9" y2="932" stroke="#000" stroke-width="3.4"/>
<line x1="1427.9" y1="914.7" x2="1455.9" y2="914.7" stroke="#000" stroke-width="3.4"/>
<line x1="1427.9" y1="932" x2="1455.9" y2="932" stroke="#000" stroke-width="3.4"/>
<line x1="1081.8" y1="800.4" x2="1081.8" y2="991.8" stroke="#000" stroke-width="3.4"/>
<line x1="1066.3" y1="800.4" x2="1094.3" y2="800.4" stroke="#000" stroke-width="3.4"/>
<line x1="1066.3" y1="991.8" x2="1094.3" y2="991.8" stroke="#000" stroke-width="3.4"/>
<line x1="1254" y1="714.1" x2="1254" y2="788.9" stroke="#000" stroke-width="3.4"/>
<line x1="1240" y1="714.1" x2="1268" y2="714.1" stroke="#000" stroke-width="3.4"/>
<line x1="1240" y1="788.9" x2="1268" y2="788.9" stroke="#000" stroke-width="3.4"/>
<line x1="1429.2" y1="674.9" x2="1429.2" y2="729.6" stroke="#000" stroke-width="3.4"/>
<line x1="1415.2" y1="674.9" x2="1443.2" y2="674.9" stroke="#000" stroke-width="3.4"/>
<line x1="1415.2" y1="729.6" x2="1443.2" y2="729.6" stroke="#000" stroke-width="3.4"/>
<polyline points="1079.6,892.4 1255.3,875.5 1429.8,811.8" fill="none" stroke="#000" stroke-width="3.4" stroke-linejoin="round"/>
<ellipse cx="1079.6" cy="892.4" rx="10.45" ry="11.95" fill="#c0c0c0" stroke="#000" stroke-width="3.9"/>
<ellipse cx="1255.3" cy="875.5" rx="10.45" ry="11.95" fill="#c0c0c0" stroke="#000" stroke-width="3.9"/>
<ellipse cx="1429.8" cy="811.8" rx="10.45" ry="11.95" fill="#c0c0c0" stroke="#000" stroke-width="3.9"/>
<polyline points="1096.4,926 1266.4,935.5 1441.8,925.4" fill="none" stroke="#000" stroke-width="3.4" stroke-linejoin="round"/>
<ellipse cx="1096.4" cy="926" rx="10.45" ry="11.95" fill="#808080" stroke="#000" stroke-width="3.9"/>
<ellipse cx="1266.4" cy="935.5" rx="10.45" ry="11.95" fill="#808080" stroke="#000" stroke-width="3.9"/>
<ellipse cx="1441.8" cy="925.4" rx="10.45" ry="11.95" fill="#808080" stroke="#000" stroke-width="3.9"/>
<polyline points="1079.6,907.3 1254.9,752.2 1428.5,704.1" fill="none" stroke="#000" stroke-width="3.4" stroke-linejoin="round"/>
<ellipse cx="1079.6" cy="907.3" rx="10.45" ry="11.95" fill="#fff" stroke="#000" stroke-width="3.9"/>
<ellipse cx="1254.9" cy="752.2" rx="10.45" ry="11.95" fill="#fff" stroke="#000" stroke-width="3.9"/>
<ellipse cx="1428.5" cy="704.1" rx="10.45" ry="11.95" fill="#fff" stroke="#000" stroke-width="3.9"/>
<text transform="translate(1453.2 714.6) scale(0.94 1)" x="-1.02" y="0" font-size="34" fill="#000" xml:space="preserve"><tspan font-style="italic">db/db</tspan><tspan> (-)</tspan></text>
<text transform="translate(1462.9 818.9) scale(0.94 1)" x="-1.02" y="0" font-size="34" fill="#000" xml:space="preserve"><tspan font-style="italic">db/db</tspan><tspan>-LD</tspan></text>
<text transform="translate(1471 932) scale(0.94 1)" x="-1.02" y="0" font-size="34" fill="#000" xml:space="preserve"><tspan font-style="italic">db/db</tspan><tspan>-HD</tspan></text>
<text transform="translate(1483.8 1061.1) scale(0.94 1)" x="-1.02" y="0" font-size="34" fill="#000" xml:space="preserve"><tspan font-style="italic">db/m</tspan></text>
<text transform="translate(1255.5 863.4)" x="-7.8" y="0" font-size="40">*</text>
<text transform="translate(1431.8 794.3)" x="-7.8" y="0" font-size="40">*</text>
<text transform="translate(1256.6 932.4)" x="-7.8" y="0" font-size="40">*</text>
<text transform="translate(1278.4 918.21)" x="-5.97" y="0" font-size="21.5" stroke="#000" stroke-width="0.9" stroke-linejoin="round">#</text>
<text transform="translate(1432.3 915.9)" x="-7.8" y="0" font-size="40">*</text>
<text transform="translate(1455.2 902.01)" x="-5.97" y="0" font-size="21.5" stroke="#000" stroke-width="0.9" stroke-linejoin="round">#</text>
<text transform="translate(1064.2 1037.5)" x="-7.8" y="0" font-size="40">*</text>
<text transform="translate(1086.6 1026.61)" x="-5.97" y="0" font-size="21.5" stroke="#000" stroke-width="0.9" stroke-linejoin="round">#</text>
<text transform="translate(1107.1 1029.03)" x="-8.6" y="0" font-size="31" font-weight="400">†</text>
<text transform="translate(1242.5 1034.5)" x="-7.8" y="0" font-size="40">*</text>
<text transform="translate(1264.9 1023.61)" x="-5.97" y="0" font-size="21.5" stroke="#000" stroke-width="0.9" stroke-linejoin="round">#</text>
<text transform="translate(1285.4 1026.03)" x="-8.6" y="0" font-size="31" font-weight="400">†</text>
<text transform="translate(1406.4 1037.5)" x="-7.8" y="0" font-size="40">*</text>
<text transform="translate(1428.8 1026.61)" x="-5.97" y="0" font-size="21.5" stroke="#000" stroke-width="0.9" stroke-linejoin="round">#</text>
<text transform="translate(1449.3 1029.03)" x="-8.6" y="0" font-size="31" font-weight="400">†</text>
</g>
<g id="pf">
<text transform="translate(13.3 1739.9)" x="-3.25" y="0" font-size="65" fill="#000" xml:space="preserve">(f)</text>
<text transform="translate(101.8 2016) rotate(-90) scale(0.95 1)" x="-2.21" y="0" font-size="34" fill="#000" xml:space="preserve">LV Diastolic</text>
<text transform="translate(140.6 2016) rotate(-90) scale(0.94 1)" x="-1.36" y="0" font-size="34" fill="#000" xml:space="preserve">diameter (mm)</text>
<line x1="263.3" y1="1779.1" x2="263.3" y2="1794" stroke="#000" stroke-width="3.6"/>
<line x1="244.3" y1="1779.1" x2="282.3" y2="1779.1" stroke="#000" stroke-width="3.6"/>
<line x1="338.9" y1="1812" x2="338.9" y2="1820" stroke="#000" stroke-width="3.6"/>
<line x1="319.9" y1="1812" x2="357.9" y2="1812" stroke="#000" stroke-width="3.6"/>
<line x1="414.2" y1="1804.4" x2="414.2" y2="1834" stroke="#000" stroke-width="3.6"/>
<line x1="395.2" y1="1804.4" x2="433.2" y2="1804.4" stroke="#000" stroke-width="3.6"/>
<line x1="513.7" y1="1817.6" x2="513.7" y2="1832" stroke="#000" stroke-width="3.6"/>
<line x1="494.7" y1="1817.6" x2="532.7" y2="1817.6" stroke="#000" stroke-width="3.6"/>
<rect x="230.8" y="1794.3" width="66.2" height="270.4" fill="#fff" stroke="#000" stroke-width="3.6"/>
<rect x="306.2" y="1819.8" width="66.4" height="244.9" fill="#d9d9d9" stroke="#000" stroke-width="3.6"/>
<rect x="382.1" y="1834.3" width="66.1" height="230.4" fill="#808080" stroke="#000" stroke-width="3.6"/>
<rect x="481" y="1832" width="66.2" height="232.7" fill="#000" stroke="#000" stroke-width="3.6"/>
<line x1="211.3" y1="1762.7" x2="211.3" y2="2066.4" stroke="#000" stroke-width="3.7"/>
<line x1="205.5" y1="2064.7" x2="558.2" y2="2064.7" stroke="#000" stroke-width="3.4"/>
<line x1="204.8" y1="1795.5" x2="211.5" y2="1795.5" stroke="#000" stroke-width="3.4"/>
<text transform="translate(193.5 1810.1) scale(0.94 1)" x="-18.7" y="0" font-size="34" fill="#000" xml:space="preserve">4</text>
<line x1="204.8" y1="1862.8" x2="211.5" y2="1862.8" stroke="#000" stroke-width="3.4"/>
<text transform="translate(193.5 1877.4) scale(0.94 1)" x="-17.68" y="0" font-size="34" fill="#000" xml:space="preserve">3</text>
<line x1="204.8" y1="1930.1" x2="211.5" y2="1930.1" stroke="#000" stroke-width="3.4"/>
<text transform="translate(193.5 1944.7) scale(0.94 1)" x="-17.51" y="0" font-size="34" fill="#000" xml:space="preserve">2</text>
<line x1="204.8" y1="1997.4" x2="211.5" y2="1997.4" stroke="#000" stroke-width="3.4"/>
<text transform="translate(193.5 2012) scale(0.94 1)" x="-18.02" y="0" font-size="34" fill="#000" xml:space="preserve">1</text>
<text transform="translate(193.5 2079.3) scale(0.94 1)" x="-17.51" y="0" font-size="34" fill="#000" xml:space="preserve">0</text>
<text transform="translate(416.3 1803.2)" x="-7.8" y="0" font-size="40">*</text>
<text transform="translate(513.7 1814.5)" x="-7.8" y="0" font-size="40">*</text>
<text transform="translate(170.9 2117.1) scale(0.94 1)" x="-2.21" y="0" font-size="34" fill="#000" xml:space="preserve">Ipra</text>
<text transform="translate(246.5 2117.1) scale(0.94 1)" x="-1.7" y="0" font-size="34" fill="#000" xml:space="preserve">(-)</text>
<text transform="translate(324.4 2117.1) scale(0.94 1)" x="-2.21" y="0" font-size="34" fill="#000" xml:space="preserve">LD</text>
<text transform="translate(392.7 2117.1) scale(0.94 1)" x="-2.21" y="0" font-size="34" fill="#000" xml:space="preserve">HD</text>
<text transform="translate(510.2 2117.1) scale(0.94 1)" x="-1.7" y="0" font-size="34" fill="#000" xml:space="preserve">(-)</text>
<line x1="246.5" y1="2137.5" x2="438.2" y2="2137.5" stroke="#000" stroke-width="3.8"/>
<line x1="499.3" y1="2138.2" x2="559.3" y2="2138.2" stroke="#000" stroke-width="3.8"/>
<text transform="translate(292 2177.1) scale(0.94 1)" x="-1.02" y="0" font-size="34" fill="#000" xml:space="preserve"><tspan font-style="italic">db/db</tspan></text>
<text transform="translate(496.4 2177.1) scale(0.94 1)" x="-1.02" y="0" font-size="34" fill="#000" xml:space="preserve"><tspan font-style="italic">db/m</tspan></text>
<text transform="translate(644.1 2008.8) rotate(-90) scale(0.94 1)" x="-2.21" y="0" font-size="34" fill="#000" xml:space="preserve">LV Systolic</text>
<text transform="translate(682.6 2008.8) rotate(-90) scale(0.94 1)" x="-1.36" y="0" font-size="34" fill="#000" xml:space="preserve">diameter (mm)</text>
<line x1="798.6" y1="1798.9" x2="798.6" y2="1813" stroke="#000" stroke-width="3.6"/>
<line x1="779.35" y1="1798.9" x2="817.85" y2="1798.9" stroke="#000" stroke-width="3.6"/>
<line x1="873.4" y1="1851.9" x2="873.4" y2="1860" stroke="#000" stroke-width="3.6"/>
<line x1="854.15" y1="1851.9" x2="892.65" y2="1851.9" stroke="#000" stroke-width="3.6"/>
<line x1="951.4" y1="1863.9" x2="951.4" y2="1887" stroke="#000" stroke-width="3.6"/>
<line x1="932.15" y1="1863.9" x2="970.65" y2="1863.9" stroke="#000" stroke-width="3.6"/>
<line x1="1052.9" y1="1778.4" x2="1052.9" y2="1823" stroke="#000" stroke-width="3.6"/>
<line x1="1033.65" y1="1778.4" x2="1072.15" y2="1778.4" stroke="#000" stroke-width="3.6"/>
<rect x="765.7" y="1813.7" width="67.3" height="250.3" fill="#fff" stroke="#000" stroke-width="3.6"/>
<rect x="842" y="1860" width="67.3" height="204" fill="#d9d9d9" stroke="#000" stroke-width="3.6"/>
<rect x="918.5" y="1886.8" width="67.3" height="177.2" fill="#808080" stroke="#000" stroke-width="3.6"/>
<rect x="1019.4" y="1822.8" width="68.2" height="241.2" fill="#000" stroke="#000" stroke-width="3.6"/>
<line x1="743.4" y1="1758.3" x2="743.4" y2="2065.7" stroke="#000" stroke-width="3.7"/>
<line x1="739.6" y1="2064" x2="1098.9" y2="2064" stroke="#000" stroke-width="3.4"/>
<line x1="739.6" y1="1799.9" x2="743.6" y2="1799.9" stroke="#000" stroke-width="3"/>
<text transform="translate(729.8 1812.7) scale(0.94 1)" x="-17.68" y="0" font-size="34" fill="#000" xml:space="preserve">3</text>
<line x1="739.6" y1="1887.93" x2="743.6" y2="1887.93" stroke="#000" stroke-width="3"/>
<text transform="translate(729.8 1900.73) scale(0.94 1)" x="-17.51" y="0" font-size="34" fill="#000" xml:space="preserve">2</text>
<line x1="739.6" y1="1975.96" x2="743.6" y2="1975.96" stroke="#000" stroke-width="3"/>
<text transform="translate(729.8 1988.76) scale(0.94 1)" x="-18.02" y="0" font-size="34" fill="#000" xml:space="preserve">1</text>
<text transform="translate(729.8 2076.79) scale(0.94 1)" x="-17.51" y="0" font-size="34" fill="#000" xml:space="preserve">0</text>
<line x1="740.6" y1="1777.9" x2="743.6" y2="1777.9" stroke="#000" stroke-width="2"/>
<line x1="740.6" y1="1821.9" x2="743.6" y2="1821.9" stroke="#000" stroke-width="2"/>
<line x1="740.6" y1="1843.9" x2="743.6" y2="1843.9" stroke="#000" stroke-width="2"/>
<line x1="740.6" y1="1865.9" x2="743.6" y2="1865.9" stroke="#000" stroke-width="2"/>
<line x1="740.6" y1="1909.9" x2="743.6" y2="1909.9" stroke="#000" stroke-width="2"/>
<line x1="740.6" y1="1931.9" x2="743.6" y2="1931.9" stroke="#000" stroke-width="2"/>
<line x1="740.6" y1="1953.9" x2="743.6" y2="1953.9" stroke="#000" stroke-width="2"/>
<line x1="740.6" y1="1997.9" x2="743.6" y2="1997.9" stroke="#000" stroke-width="2"/>
<line x1="740.6" y1="2019.9" x2="743.6" y2="2019.9" stroke="#000" stroke-width="2"/>
<line x1="740.6" y1="2041.9" x2="743.6" y2="2041.9" stroke="#000" stroke-width="2"/>
<text transform="translate(876.4 1851)" x="-7.8" y="0" font-size="40">*</text>
<text transform="translate(952 1865.1)" x="-7.8" y="0" font-size="40">*</text>
<text transform="translate(708.1 2115.7) scale(0.94 1)" x="-2.21" y="0" font-size="34" fill="#000" xml:space="preserve">Ipra</text>
<text transform="translate(785 2115.7) scale(0.94 1)" x="-1.7" y="0" font-size="34" fill="#000" xml:space="preserve">(-)</text>
<text transform="translate(861.6 2115.7) scale(0.94 1)" x="-2.21" y="0" font-size="34" fill="#000" xml:space="preserve">LD</text>
<text transform="translate(930.9 2115.7) scale(0.94 1)" x="-2.21" y="0" font-size="34" fill="#000" xml:space="preserve">HD</text>
<text transform="translate(1047.5 2115.7) scale(0.94 1)" x="-1.7" y="0" font-size="34" fill="#000" xml:space="preserve">(-)</text>
<line x1="785" y1="2136.2" x2="976" y2="2136.2" stroke="#000" stroke-width="3.8"/>
<line x1="1037.4" y1="2136.8" x2="1097.3" y2="2136.8" stroke="#000" stroke-width="3.8"/>
<text transform="translate(830.1 2177.1) scale(0.94 1)" x="-1.02" y="0" font-size="34" fill="#000" xml:space="preserve"><tspan font-style="italic">db/db</tspan></text>
<text transform="translate(1034.3 2177.1) scale(0.94 1)" x="-1.02" y="0" font-size="34" fill="#000" xml:space="preserve"><tspan font-style="italic">db/m</tspan></text>
</g>
<g id="pe">
<text transform="translate(10.6 1254.5)" x="-3.25" y="0" font-size="65" fill="#000" xml:space="preserve">(e)</text>
<rect x="110.3" y="1218.9" width="361.7" height="41.8" fill="#fff" stroke="#000" stroke-width="3.6"/>
<text transform="translate(217.1 1256.6)" x="-1.16" y="0" font-size="38.6" fill="#000" xml:space="preserve"><tspan font-style="italic">db/db</tspan><tspan> (-)</tspan></text>
<rect x="495.4" y="1217" width="365.8" height="40.9" fill="#fff" stroke="#000" stroke-width="3.6"/>
<text transform="translate(597.3 1254.5)" x="-1.16" y="0" font-size="38.6" fill="#000" xml:space="preserve"><tspan font-style="italic">db/db</tspan><tspan>-LD</tspan></text>
<rect x="890.6" y="1217" width="361.5" height="40.3" fill="#fff" stroke="#000" stroke-width="3.6"/>
<text transform="translate(987.9 1254.2)" x="-1.16" y="0" font-size="38.6" fill="#000" xml:space="preserve"><tspan font-style="italic">db/db</tspan><tspan>-HD</tspan></text>
<rect x="1277.3" y="1219" width="364.4" height="40.2" fill="#fff" stroke="#000" stroke-width="3.6"/>
<text transform="translate(1416 1255.9)" x="-1.16" y="0" font-size="38.6" fill="#000" xml:space="preserve"><tspan font-style="italic">db/m</tspan></text>
<g clip-path="url(#ec1)">
<rect x="112.1" y="1279.5" width="360.8" height="352.7" fill="#444"/>
<g clip-path="url(#el1_0)"><g filter="url(#ef1_0)">
<rect x="109.1" y="1276.5" width="366.8" height="358.7" fill="url(#eg1_0)"/>
<path d="M63.76,1307.9 L64.07,1307.9 L69.71,1307.9 L75.65,1307.9 L177.03,1307.92 L183.29,1307.92 L194.56,1307.93 L200.81,1307.93 L302.19,1308.06 L308.14,1308.06 L313.77,1308.07 L314.08,1308.07" fill="none" stroke="#c0c0c0" stroke-width="1.62" stroke-opacity="0.6" stroke-linejoin="round"/>
<path d="M334.56,1306.78 L334.9,1306.78 L341.07,1306.75 L347.58,1306.73 L458.62,1306.25 L465.47,1306.22 L477.81,1306.18 L484.66,1306.17 L595.7,1305.99 L602.21,1305.97 L608.38,1305.96 L608.72,1305.96" fill="none" stroke="#b1b1b1" stroke-width="3.06" stroke-opacity="0.6" stroke-linejoin="round"/>
<path d="M10.78,1312.47 L11.27,1312.47 L20,1312.42 L29.21,1312.37 L186.36,1311.54 L196.06,1311.49 L213.52,1311.45 L223.22,1311.45 L380.37,1311.5 L389.58,1311.5 L398.31,1311.5 L398.8,1311.5" fill="none" stroke="#a2a2a2" stroke-width="2.42" stroke-opacity="0.6" stroke-linejoin="round"/>
<path d="M401.18,1310.72 L401.34,1310.72 L404.14,1310.71 L407.1,1310.71 L457.59,1310.62 L460.71,1310.61 L466.32,1310.61 L469.44,1310.61 L519.93,1310.6 L522.89,1310.6 L525.7,1310.6 L525.85,1310.6" fill="none" stroke="#757575" stroke-width="3.14" stroke-opacity="0.6" stroke-linejoin="round"/>
<path d="M59.02,1317.38 L59.38,1317.38 L65.8,1317.45 L72.57,1317.52 L188.09,1318.73 L195.22,1318.8 L208.06,1318.85 L215.19,1318.83 L330.71,1318.42 L337.48,1318.4 L343.9,1318.37 L344.26,1318.37" fill="none" stroke="#8c8c8c" stroke-width="3.13" stroke-opacity="0.6" stroke-linejoin="round"/>
<path d="M372.57,1317.41 L372.78,1317.41 L376.54,1317.35 L380.51,1317.29 L448.22,1316.25 L452.4,1316.19 L459.93,1316.21 L464.11,1316.3 L531.82,1317.77 L535.79,1317.86 L539.55,1317.94 L539.76,1317.95" fill="none" stroke="#737373" stroke-width="2.12" stroke-opacity="0.6" stroke-linejoin="round"/>
<path d="M13.2,1322.34 L13.63,1322.34 L21.46,1322.39 L29.73,1322.45 L170.7,1323.45 L179.41,1323.5 L195.07,1323.5 L203.77,1323.44 L344.75,1322.4 L353.01,1322.34 L360.85,1322.28 L361.28,1322.28" fill="none" stroke="#5a5a5a" stroke-width="3.45" stroke-opacity="0.6" stroke-linejoin="round"/>
<path d="M377.18,1324.04 L377.28,1324.04 L379.19,1324.01 L381.21,1323.98 L415.57,1323.42 L417.69,1323.38 L421.5,1323.35 L423.62,1323.34 L457.98,1323.23 L460,1323.22 L461.91,1323.22 L462.01,1323.22" fill="none" stroke="#9f9f9f" stroke-width="1.96" stroke-opacity="0.6" stroke-linejoin="round"/>
</g></g>
<g clip-path="url(#el1_1)"><g filter="url(#ef1_1)">
<rect x="109.1" y="1276.5" width="366.8" height="358.7" fill="url(#eg1_1)"/>
<path d="M61.54,1343.93 L61.65,1343.92 L63.66,1343.86 L65.78,1343.79 L101.89,1342.6 L104.12,1342.53 L108.14,1342.52 L110.36,1342.58 L146.48,1343.56 L148.6,1343.62 L150.6,1343.67 L150.72,1343.68" fill="none" stroke="#7b7b7b" stroke-width="1.33" stroke-opacity="0.5" stroke-linejoin="round"/>
<path d="M183.13,1345.17 L183.24,1345.18 L185.32,1345.2 L187.51,1345.22 L224.83,1345.61 L227.13,1345.63 L231.28,1345.6 L233.58,1345.55 L270.91,1344.58 L273.09,1344.52 L275.17,1344.47 L275.28,1344.47" fill="none" stroke="#767676" stroke-width="1.53" stroke-opacity="0.5" stroke-linejoin="round"/>
<path d="M281.77,1345.96 L281.91,1345.95 L284.42,1345.9 L287.07,1345.84 L332.24,1344.8 L335.03,1344.75 L340.05,1344.76 L342.84,1344.84 L388.01,1346.17 L390.66,1346.25 L393.17,1346.33 L393.31,1346.33" fill="none" stroke="#4b4b4b" stroke-width="1.4" stroke-opacity="0.5" stroke-linejoin="round"/>
<path d="M409.5,1343.68 L409.63,1343.69 L412.01,1343.74 L414.52,1343.8 L457.38,1344.81 L460.02,1344.87 L464.78,1344.87 L467.43,1344.81 L510.29,1343.82 L512.8,1343.76 L515.18,1343.7 L515.31,1343.7" fill="none" stroke="#474747" stroke-width="1.11" stroke-opacity="0.5" stroke-linejoin="round"/>
<path d="M97.75,1353.22 L97.83,1353.23 L99.36,1353.24 L100.98,1353.26 L128.56,1353.55 L130.26,1353.57 L133.32,1353.54 L135.03,1353.49 L162.6,1352.65 L164.22,1352.6 L165.75,1352.55 L165.84,1352.55" fill="none" stroke="#515151" stroke-width="1.84" stroke-opacity="0.5" stroke-linejoin="round"/>
<path d="M167.89,1353.49 L167.95,1353.49 L168.97,1353.48 L170.05,1353.47 L188.44,1353.27 L189.57,1353.26 L191.62,1353.27 L192.75,1353.29 L211.14,1353.64 L212.22,1353.66 L213.24,1353.68 L213.3,1353.68" fill="none" stroke="#878787" stroke-width="1.57" stroke-opacity="0.5" stroke-linejoin="round"/>
<path d="M228.68,1355.19 L228.72,1355.19 L229.46,1355.26 L230.24,1355.32 L243.5,1356.48 L244.32,1356.55 L245.79,1356.56 L246.61,1356.51 L259.87,1355.62 L260.65,1355.57 L261.39,1355.52 L261.43,1355.52" fill="none" stroke="#808080" stroke-width="1.43" stroke-opacity="0.5" stroke-linejoin="round"/>
<path d="M275.95,1352.63 L276.07,1352.63 L278.14,1352.59 L280.33,1352.55 L317.63,1351.91 L319.93,1351.87 L324.08,1351.86 L326.38,1351.88 L363.69,1352.31 L365.87,1352.33 L367.95,1352.35 L368.06,1352.35" fill="none" stroke="#7c7c7c" stroke-width="1.61" stroke-opacity="0.5" stroke-linejoin="round"/>
<path d="M400.47,1354.75 L400.56,1354.75 L402.25,1354.74 L404.03,1354.73 L434.4,1354.56 L436.28,1354.56 L439.65,1354.56 L441.53,1354.57 L471.91,1354.77 L473.69,1354.78 L475.37,1354.79 L475.47,1354.79" fill="none" stroke="#484848" stroke-width="1.27" stroke-opacity="0.5" stroke-linejoin="round"/>
<path d="M31.81,1359.37 L31.86,1359.38 L32.74,1359.4 L33.67,1359.43 L49.56,1359.91 L50.54,1359.93 L52.31,1359.89 L53.29,1359.82 L69.18,1358.59 L70.11,1358.52 L70.99,1358.45 L71.04,1358.45" fill="none" stroke="#727272" stroke-width="1.33" stroke-opacity="0.5" stroke-linejoin="round"/>
<path d="M84.81,1360.22 L84.92,1360.22 L86.88,1360.18 L88.96,1360.13 L124.32,1359.43 L126.51,1359.39 L130.44,1359.37 L132.62,1359.39 L167.99,1359.74 L170.06,1359.76 L172.02,1359.78 L172.13,1359.78" fill="none" stroke="#4a4a4a" stroke-width="1.57" stroke-opacity="0.5" stroke-linejoin="round"/>
<path d="M210.48,1359.34 L210.58,1359.35 L212.22,1359.4 L213.97,1359.46 L243.65,1360.49 L245.48,1360.55 L248.78,1360.54 L250.61,1360.47 L280.29,1359.22 L282.04,1359.14 L283.68,1359.07 L283.78,1359.07" fill="none" stroke="#929292" stroke-width="1.23" stroke-opacity="0.5" stroke-linejoin="round"/>
<path d="M313.72,1359.64 L313.86,1359.65 L316.38,1359.68 L319.04,1359.72 L364.44,1360.38 L367.24,1360.42 L372.28,1360.4 L375.08,1360.35 L420.48,1359.44 L423.14,1359.38 L425.66,1359.33 L425.8,1359.33" fill="none" stroke="#474747" stroke-width="1.29" stroke-opacity="0.5" stroke-linejoin="round"/>
<path d="M426.15,1361.79 L426.19,1361.8 L426.94,1361.86 L427.74,1361.93 L441.35,1363.14 L442.19,1363.21 L443.7,1363.21 L444.54,1363.15 L458.15,1361.94 L458.95,1361.87 L459.71,1361.8 L459.75,1361.8" fill="none" stroke="#787878" stroke-width="1.03" stroke-opacity="0.5" stroke-linejoin="round"/>
<path d="M472.65,1360.76 L472.77,1360.76 L475.04,1360.72 L477.44,1360.68 L518.29,1360.02 L520.81,1359.99 L525.35,1359.99 L527.87,1360.03 L568.72,1360.73 L571.12,1360.77 L573.39,1360.81 L573.51,1360.81" fill="none" stroke="#898989" stroke-width="1.57" stroke-opacity="0.5" stroke-linejoin="round"/>
<path d="M14.33,1365.76 L14.47,1365.77 L16.96,1365.82 L19.58,1365.87 L64.33,1366.78 L67.09,1366.83 L72.06,1366.81 L74.82,1366.74 L119.57,1365.47 L122.2,1365.4 L124.68,1365.33 L124.82,1365.32" fill="none" stroke="#535353" stroke-width="2.13" stroke-opacity="0.5" stroke-linejoin="round"/>
<path d="M145.43,1365.53 L145.54,1365.53 L147.63,1365.5 L149.83,1365.47 L187.35,1364.95 L189.66,1364.92 L193.83,1364.9 L196.15,1364.9 L233.66,1365.03 L235.87,1365.04 L237.95,1365.04 L238.07,1365.04" fill="none" stroke="#7e7e7e" stroke-width="1.82" stroke-opacity="0.5" stroke-linejoin="round"/>
<path d="M265.83,1366.15 L265.88,1366.15 L266.82,1366.11 L267.82,1366.08 L284.77,1365.45 L285.82,1365.41 L287.7,1365.41 L288.75,1365.44 L305.7,1365.96 L306.69,1365.99 L307.63,1366.02 L307.69,1366.02" fill="none" stroke="#8d8d8d" stroke-width="2.18" stroke-opacity="0.5" stroke-linejoin="round"/>
<path d="M330.08,1367.78 L330.19,1367.78 L332.13,1367.81 L334.18,1367.85 L369.1,1368.48 L371.26,1368.52 L375.14,1368.51 L377.29,1368.47 L412.21,1367.7 L414.26,1367.66 L416.2,1367.61 L416.31,1367.61" fill="none" stroke="#909090" stroke-width="1.71" stroke-opacity="0.5" stroke-linejoin="round"/>
<path d="M452.35,1365.93 L452.47,1365.93 L454.75,1365.91 L457.15,1365.9 L498.06,1365.58 L500.59,1365.56 L505.14,1365.58 L507.66,1365.62 L548.58,1366.32 L550.98,1366.36 L553.25,1366.4 L553.38,1366.4" fill="none" stroke="#747474" stroke-width="1.68" stroke-opacity="0.5" stroke-linejoin="round"/>
<path d="M18.62,1375.46 L18.75,1375.46 L21.04,1375.47 L23.45,1375.47 L64.68,1375.56 L67.23,1375.56 L71.81,1375.59 L74.35,1375.61 L115.58,1376 L118,1376.02 L120.29,1376.04 L120.42,1376.04" fill="none" stroke="#8e8e8e" stroke-width="1.46" stroke-opacity="0.5" stroke-linejoin="round"/>
<path d="M124.35,1375.53 L124.42,1375.53 L125.81,1375.56 L127.28,1375.59 L152.3,1376.05 L153.85,1376.07 L156.63,1376.08 L158.17,1376.05 L183.2,1375.66 L184.66,1375.64 L186.05,1375.62 L186.13,1375.62" fill="none" stroke="#5f5f5f" stroke-width="1.75" stroke-opacity="0.5" stroke-linejoin="round"/>
<path d="M191.12,1373.91 L191.22,1373.91 L192.98,1373.88 L194.83,1373.84 L226.45,1373.22 L228.41,1373.19 L231.92,1373.18 L233.87,1373.21 L265.49,1373.67 L267.35,1373.7 L269.11,1373.73 L269.2,1373.73" fill="none" stroke="#7e7e7e" stroke-width="1.39" stroke-opacity="0.5" stroke-linejoin="round"/>
<path d="M296.62,1373.67 L296.67,1373.67 L297.63,1373.7 L298.65,1373.72 L315.97,1374.2 L317.03,1374.23 L318.96,1374.25 L320.03,1374.25 L337.35,1374.19 L338.36,1374.19 L339.32,1374.19 L339.38,1374.19" fill="none" stroke="#4d4d4d" stroke-width="1.79" stroke-opacity="0.5" stroke-linejoin="round"/>
<path d="M376.77,1374.19 L376.84,1374.19 L378.26,1374.19 L379.75,1374.18 L405.23,1374.04 L406.8,1374.03 L409.63,1374 L411.21,1373.98 L436.68,1373.6 L438.18,1373.58 L439.59,1373.55 L439.67,1373.55" fill="none" stroke="#484848" stroke-width="1.8" stroke-opacity="0.5" stroke-linejoin="round"/>
<path d="M453.32,1375.56 L453.39,1375.56 L454.54,1375.49 L455.77,1375.42 L476.6,1374.23 L477.89,1374.16 L480.2,1374.15 L481.49,1374.2 L502.33,1375.17 L503.55,1375.23 L504.71,1375.28 L504.77,1375.28" fill="none" stroke="#606060" stroke-width="1.34" stroke-opacity="0.5" stroke-linejoin="round"/>
<path d="M86.96,1381.56 L87.1,1381.55 L89.64,1381.51 L92.32,1381.46 L137.96,1380.64 L140.78,1380.59 L145.85,1380.59 L148.66,1380.63 L194.31,1381.39 L196.98,1381.44 L199.52,1381.48 L199.66,1381.48" fill="none" stroke="#6e6e6e" stroke-width="1.73" stroke-opacity="0.5" stroke-linejoin="round"/>
<path d="M233.37,1382.03 L233.44,1382.03 L234.62,1382.07 L235.87,1382.12 L257.13,1382.93 L258.44,1382.97 L260.8,1382.94 L262.11,1382.87 L283.37,1381.63 L284.62,1381.55 L285.8,1381.48 L285.86,1381.48" fill="none" stroke="#6b6b6b" stroke-width="1.65" stroke-opacity="0.5" stroke-linejoin="round"/>
<path d="M316.32,1381.45 L316.4,1381.45 L317.87,1381.52 L319.43,1381.59 L345.99,1382.73 L347.63,1382.8 L350.58,1382.8 L352.22,1382.74 L378.78,1381.68 L380.33,1381.62 L381.81,1381.56 L381.89,1381.56" fill="none" stroke="#7c7c7c" stroke-width="1.82" stroke-opacity="0.5" stroke-linejoin="round"/>
<path d="M395.9,1380.96 L396.02,1380.96 L398.18,1380.94 L400.46,1380.92 L439.3,1380.58 L441.69,1380.56 L446.01,1380.55 L448.41,1380.55 L487.25,1380.57 L489.53,1380.57 L491.68,1380.57 L491.8,1380.57" fill="none" stroke="#606060" stroke-width="1.16" stroke-opacity="0.5" stroke-linejoin="round"/>
<path d="M83.81,1387.49 L83.86,1387.5 L84.63,1387.56 L85.44,1387.62 L99.26,1388.68 L100.11,1388.74 L101.65,1388.75 L102.5,1388.7 L116.33,1387.8 L117.14,1387.75 L117.9,1387.7 L117.95,1387.69" fill="none" stroke="#868686" stroke-width="1.47" stroke-opacity="0.5" stroke-linejoin="round"/>
<path d="M152.87,1387.02 L153.01,1387.02 L155.5,1387.04 L158.13,1387.06 L202.99,1387.4 L205.75,1387.42 L210.74,1387.45 L213.51,1387.46 L258.36,1387.68 L260.99,1387.69 L263.48,1387.7 L263.62,1387.7" fill="none" stroke="#606060" stroke-width="1.73" stroke-opacity="0.5" stroke-linejoin="round"/>
<path d="M294.99,1387.43 L295.08,1387.43 L296.59,1387.41 L298.18,1387.4 L325.37,1387.17 L327.04,1387.16 L330.06,1387.15 L331.74,1387.15 L358.92,1387.18 L360.52,1387.19 L362.03,1387.19 L362.11,1387.19" fill="none" stroke="#777777" stroke-width="1.46" stroke-opacity="0.5" stroke-linejoin="round"/>
<path d="M378.09,1387.25 L378.22,1387.25 L380.53,1387.22 L382.97,1387.18 L424.54,1386.59 L427.11,1386.56 L431.73,1386.6 L434.29,1386.68 L475.87,1388.04 L478.3,1388.12 L480.61,1388.19 L480.74,1388.2" fill="none" stroke="#545454" stroke-width="1.63" stroke-opacity="0.5" stroke-linejoin="round"/>
<path d="M105,1457.5 L105.07,1457.51 L106.4,1457.72 L107.81,1457.93 L131.74,1461.61 L133.24,1461.77 L136.41,1460.87 L138.43,1459.71 L171.57,1439.83 L173.6,1438.66 L176.97,1437.54 L178.69,1437.46 L206.31,1437.09 L208.1,1437.12 L212.81,1438.07 L216.24,1439.1 L273.31,1456.59 L276.76,1457.56 L281.77,1457.58 L283.89,1456.63 L317.02,1439.51 L319.04,1438.5 L322.21,1437.44 L323.72,1437.28 L347.65,1435.44 L349.24,1435.4 L354.05,1436.51 L357.8,1437.77 L420.39,1459.5 L424.19,1460.72 L430.02,1461.06 L432.69,1460.21 L475.03,1444.56 L477.52,1443.64 L479.87,1442.78 L480,1442.73" fill="none" stroke="#c8c8c8" stroke-width="2.2" stroke-opacity="0.9" stroke-linejoin="round"/>
<path d="M105,1462.5 L105.07,1462.51 L106.4,1462.72 L107.81,1462.93 L131.74,1466.61 L133.24,1466.77 L136.41,1465.87 L138.43,1464.71 L171.57,1444.83 L173.6,1443.66 L176.97,1442.54 L178.69,1442.46 L206.31,1442.09 L208.1,1442.12 L212.81,1443.07 L216.24,1444.1 L273.31,1461.59 L276.76,1462.56 L281.77,1462.58 L283.89,1461.63 L317.02,1444.51 L319.04,1443.5 L322.21,1442.44 L323.72,1442.28 L347.65,1440.44 L349.24,1440.4 L354.05,1441.51 L357.8,1442.77 L420.39,1464.5 L424.19,1465.72 L430.02,1466.06 L432.69,1465.21 L475.03,1449.56 L477.52,1448.64 L479.87,1447.78 L480,1447.73" fill="none" stroke="#141414" stroke-width="2" stroke-opacity="0.5" stroke-linejoin="round"/>
<path d="M105,1510.91 L105.08,1510.9 L106.51,1510.75 L108.02,1510.59 L133.8,1507.82 L135.41,1507.57 L138.79,1505.8 L140.92,1504.09 L175.9,1475 L178.03,1473.33 L181.4,1472.36 L183.02,1472.95 L208.8,1484.55 L210.48,1485.29 L215.09,1487.08 L218.51,1488.33 L275.58,1508.95 L279.05,1510.08 L284.47,1509.85 L287.02,1508.47 L327.52,1483.8 L329.94,1482.35 L333.01,1480.95 L334,1480.84 L348.73,1480.29 L349.78,1480.35 L354.08,1481.87 L357.8,1483.51 L420.39,1511.49 L424.19,1513.06 L430.02,1513.32 L432.69,1512.03 L475.03,1488.65 L477.52,1487.28 L479.87,1485.98 L480,1485.91" fill="none" stroke="#d7d7d7" stroke-width="2.6" stroke-opacity="0.9" stroke-linejoin="round"/>
<path d="M105,1516.91 L105.08,1516.9 L106.51,1516.75 L108.02,1516.59 L133.8,1513.82 L135.41,1513.57 L138.79,1511.8 L140.92,1510.09 L175.9,1481 L178.03,1479.33 L181.4,1478.36 L183.02,1478.95 L208.8,1490.55 L210.48,1491.29 L215.09,1493.08 L218.51,1494.33 L275.58,1514.95 L279.05,1516.08 L284.47,1515.85 L287.02,1514.47 L327.52,1489.8 L329.94,1488.35 L333.01,1486.95 L334,1486.84 L348.73,1486.29 L349.78,1486.35 L354.08,1487.87 L357.8,1489.51 L420.39,1517.49 L424.19,1519.06 L430.02,1519.32 L432.69,1518.03 L475.03,1494.65 L477.52,1493.28 L479.87,1491.98 L480,1491.91" fill="none" stroke="#828282" stroke-width="1.6" stroke-opacity="0.7" stroke-linejoin="round"/>
<path d="M105,1522.91 L105.08,1522.9 L106.51,1522.75 L108.02,1522.59 L133.8,1519.82 L135.41,1519.57 L138.79,1517.8 L140.92,1516.09 L175.9,1487 L178.03,1485.33 L181.4,1484.36 L183.02,1484.95 L208.8,1496.55 L210.48,1497.29 L215.09,1499.08 L218.51,1500.33 L275.58,1520.95 L279.05,1522.08 L284.47,1521.85 L287.02,1520.47 L327.52,1495.8 L329.94,1494.35 L333.01,1492.95 L334,1492.84 L348.73,1492.29 L349.78,1492.35 L354.08,1493.87 L357.8,1495.51 L420.39,1523.49 L424.19,1525.06 L430.02,1525.32 L432.69,1524.03 L475.03,1500.65 L477.52,1499.28 L479.87,1497.98 L480,1497.91" fill="none" stroke="#6e6e6e" stroke-width="1.4" stroke-opacity="0.6" stroke-linejoin="round"/>
<path d="M105,1505.91 L105.08,1505.9 L106.51,1505.75 L108.02,1505.59 L133.8,1502.82 L135.41,1502.57 L138.79,1500.8 L140.92,1499.09 L175.9,1470 L178.03,1468.33 L181.4,1467.36 L183.02,1467.95 L208.8,1479.55 L210.48,1480.29 L215.09,1482.08 L218.51,1483.33 L275.58,1503.95 L279.05,1505.08 L284.47,1504.85 L287.02,1503.47 L327.52,1478.8 L329.94,1477.35 L333.01,1475.95 L334,1475.84 L348.73,1475.29 L349.78,1475.35 L354.08,1476.87 L357.8,1478.51 L420.39,1506.49 L424.19,1508.06 L430.02,1508.32 L432.69,1507.03 L475.03,1483.65 L477.52,1482.28 L479.87,1480.98 L480,1480.91" fill="none" stroke="#141414" stroke-width="2" stroke-opacity="0.5" stroke-linejoin="round"/>
</g></g>
<g clip-path="url(#el1_2)"><g filter="url(#ef1_2)">
<rect x="109.1" y="1276.5" width="366.8" height="358.7" fill="#b9b9b9"/>
<path d="M105,1533.64 L105.22,1533.69 L107.23,1534.14 L109.47,1534.64 L127.81,1538.77 L130.43,1539.1 L135.96,1537.95 L140.09,1536.24 L172.18,1521.72 L176.37,1519.96 L182.41,1518.45 L185.58,1518.37 L208.51,1519.13 L211.83,1519.36 L219.21,1520.63 L224.89,1521.96 L269.2,1532.81 L275.03,1533.98 L283.75,1533.82 L288.56,1532.44 L323.71,1520.06 L328.18,1518.55 L333.71,1517.19 L336,1517.05 L351.28,1517.05 L353.73,1517.19 L360.77,1518.55 L366.91,1520.06 L415.81,1532.44 L422.19,1533.84 L431.42,1534.26 L436.29,1533.37 L471.44,1524.81 L475.72,1523.77 L479.58,1522.83 L480,1522.73 L480,1555.73 L479.58,1555.83 L475.72,1556.77 L471.44,1557.81 L436.29,1566.37 L431.42,1567.26 L422.19,1566.84 L415.81,1565.44 L366.91,1553.06 L360.77,1551.55 L353.73,1550.19 L351.28,1550.05 L336,1550.05 L333.71,1550.19 L328.18,1551.55 L323.71,1553.06 L288.56,1565.44 L283.75,1566.82 L275.03,1566.98 L269.2,1565.81 L224.89,1554.96 L219.21,1553.63 L211.83,1552.36 L208.51,1552.13 L185.58,1551.37 L182.41,1551.45 L176.37,1552.96 L172.18,1554.72 L140.09,1569.24 L135.96,1570.95 L130.43,1572.1 L127.81,1571.77 L109.47,1567.64 L107.23,1567.14 L105.22,1566.69 L105,1566.64 Z" fill="#fefefe" fill-opacity="1"/>
<path d="M105,1568 L105.07,1568.02 L106.3,1568.31 L107.59,1568.62 L129.68,1573.86 L131.1,1574.11 L134.47,1573.37 L136.81,1572.29 L175.47,1553.73 L177.82,1552.64 L181.5,1551.67 L183.24,1551.67 L210.85,1552.66 L212.64,1552.76 L217.14,1553.53 L220.35,1554.3 L273.74,1567.23 L277,1567.94 L282.32,1567.84 L284.97,1567.01 L327.31,1552.23 L329.85,1551.37 L333.22,1550.59 L334.43,1550.59 L352.84,1551.42 L354.1,1551.51 L358.4,1552.33 L361.91,1553.15 L420.82,1567.08 L424.4,1567.87 L430.03,1568.11 L432.69,1567.58 L475.03,1557.92 L477.52,1557.36 L479.87,1556.82 L480,1556.79" fill="none" stroke="#949494" stroke-width="4.06" stroke-opacity="0.8" stroke-linejoin="round"/>
<path d="M105,1573.17 L105.07,1573.18 L106.3,1573.44 L107.59,1573.71 L129.68,1578.31 L131.1,1578.52 L134.47,1577.75 L136.81,1576.68 L175.47,1558.23 L177.82,1557.15 L181.5,1556.2 L183.24,1556.22 L210.85,1557.57 L212.64,1557.69 L217.14,1558.48 L220.35,1559.23 L273.74,1572.1 L277,1572.81 L282.32,1572.76 L284.97,1571.99 L327.31,1558.25 L329.85,1557.45 L333.22,1556.68 L334.43,1556.63 L352.84,1556.53 L354.1,1556.57 L358.4,1557.39 L361.91,1558.27 L420.82,1573.17 L424.4,1574.02 L430.03,1574.27 L432.69,1573.72 L475.03,1563.44 L477.52,1562.84 L479.87,1562.27 L480,1562.24" fill="none" stroke="#999999" stroke-width="3.29" stroke-opacity="0.8" stroke-linejoin="round"/>
<path d="M105,1578.98 L105.07,1579 L106.3,1579.33 L107.59,1579.68 L129.68,1585.61 L131.1,1585.9 L134.47,1585.23 L136.81,1584.19 L175.47,1566.11 L177.82,1565.05 L181.5,1564.13 L183.24,1564.15 L210.85,1565.5 L212.64,1565.62 L217.14,1566.41 L220.35,1567.16 L273.74,1579.92 L277,1580.62 L282.32,1580.49 L284.97,1579.64 L327.31,1564.51 L329.85,1563.63 L333.22,1562.78 L334.43,1562.73 L352.84,1562.62 L354.1,1562.66 L358.4,1563.49 L361.91,1564.37 L420.82,1579.39 L424.4,1580.24 L430.03,1580.49 L432.69,1579.92 L475.03,1569.42 L477.52,1568.8 L479.87,1568.22 L480,1568.19" fill="none" stroke="#f8f8f8" stroke-width="4.38" stroke-opacity="0.8" stroke-linejoin="round"/>
<path d="M105,1584.91 L105.07,1584.93 L106.3,1585.18 L107.59,1585.44 L129.68,1589.93 L131.1,1590.14 L134.47,1589.41 L136.81,1588.38 L175.47,1570.67 L177.82,1569.64 L181.5,1568.72 L183.24,1568.74 L210.85,1569.97 L212.64,1570.08 L217.14,1570.82 L220.35,1571.54 L273.74,1583.61 L277,1584.28 L282.32,1584.17 L284.97,1583.38 L327.31,1569.35 L329.85,1568.52 L333.22,1567.72 L334.43,1567.66 L352.84,1567.28 L354.1,1567.3 L358.4,1568.09 L361.91,1568.93 L420.82,1583.41 L424.4,1584.23 L430.03,1584.47 L432.69,1583.91 L475.03,1573.64 L477.52,1573.04 L479.87,1572.47 L480,1572.44" fill="none" stroke="#e5e5e5" stroke-width="4.39" stroke-opacity="0.8" stroke-linejoin="round"/>
<path d="M105,1590.24 L105.07,1590.26 L106.3,1590.51 L107.59,1590.79 L129.68,1595.42 L131.1,1595.63 L134.47,1594.89 L136.81,1593.86 L175.47,1575.94 L177.82,1574.89 L181.5,1573.98 L183.24,1574.01 L210.85,1575.52 L212.64,1575.65 L217.14,1576.43 L220.35,1577.18 L273.74,1589.84 L277,1590.53 L282.32,1590.41 L284.97,1589.57 L327.31,1574.66 L329.85,1573.79 L333.22,1572.95 L334.43,1572.9 L352.84,1572.84 L354.1,1572.88 L358.4,1573.72 L361.91,1574.61 L420.82,1589.8 L424.4,1590.66 L430.03,1590.9 L432.69,1590.32 L475.03,1579.53 L477.52,1578.9 L479.87,1578.3 L480,1578.27" fill="none" stroke="#939393" stroke-width="3.38" stroke-opacity="0.8" stroke-linejoin="round"/>
<path d="M105,1597.07 L105.07,1597.09 L106.3,1597.39 L107.59,1597.7 L129.68,1603.01 L131.1,1603.27 L134.47,1602.51 L136.81,1601.42 L175.47,1582.49 L177.82,1581.38 L181.5,1580.39 L183.24,1580.39 L210.85,1581.47 L212.64,1581.58 L217.14,1582.43 L220.35,1583.26 L273.74,1597.41 L277,1598.19 L282.32,1598.15 L284.97,1597.32 L327.31,1582.46 L329.85,1581.59 L333.22,1580.75 L334.43,1580.68 L352.84,1580.36 L354.1,1580.39 L358.4,1581.15 L361.91,1581.98 L420.82,1596.12 L424.4,1596.91 L430.03,1597.15 L432.69,1596.61 L475.03,1586.71 L477.52,1586.13 L479.87,1585.58 L480,1585.55" fill="none" stroke="#f8f8f8" stroke-width="3.17" stroke-opacity="0.8" stroke-linejoin="round"/>
<path d="M105,1603.52 L105.07,1603.53 L106.3,1603.87 L107.59,1604.22 L129.68,1610.25 L131.1,1610.54 L134.47,1609.86 L136.81,1608.81 L175.47,1590.55 L177.82,1589.48 L181.5,1588.55 L183.24,1588.58 L210.85,1590.05 L212.64,1590.17 L217.14,1590.93 L220.35,1591.65 L273.74,1603.78 L277,1604.45 L282.32,1604.37 L284.97,1603.61 L327.31,1590.05 L329.85,1589.25 L333.22,1588.47 L334.43,1588.39 L352.84,1587.8 L354.1,1587.81 L358.4,1588.61 L361.91,1589.5 L420.82,1604.6 L424.4,1605.45 L430.03,1605.67 L432.69,1605.07 L475.03,1593.93 L477.52,1593.28 L479.87,1592.66 L480,1592.62" fill="none" stroke="#eeeeee" stroke-width="4.41" stroke-opacity="0.8" stroke-linejoin="round"/>
<path d="M105,1610.3 L105.07,1610.31 L106.3,1610.62 L107.59,1610.95 L129.68,1616.52 L131.1,1616.79 L134.47,1616.09 L136.81,1615.05 L175.47,1596.93 L177.82,1595.87 L181.5,1594.91 L183.24,1594.91 L210.85,1595.75 L212.64,1595.84 L217.14,1596.6 L220.35,1597.36 L273.74,1610.22 L277,1610.93 L282.32,1610.86 L284.97,1610.08 L327.31,1596.01 L329.85,1595.18 L333.22,1594.34 L334.43,1594.25 L352.84,1593.32 L354.1,1593.31 L358.4,1594.1 L361.91,1594.98 L420.82,1610.08 L424.4,1610.93 L430.03,1611.18 L432.69,1610.61 L475.03,1600.05 L477.52,1599.43 L479.87,1598.84 L480,1598.81" fill="none" stroke="#c2c2c2" stroke-width="3.77" stroke-opacity="0.8" stroke-linejoin="round"/>
<path d="M105,1616.23 L105.07,1616.25 L106.3,1616.56 L107.59,1616.89 L129.68,1622.51 L131.1,1622.78 L134.47,1622.12 L136.81,1621.1 L175.47,1603.45 L177.82,1602.42 L181.5,1601.47 L183.24,1601.44 L210.85,1601.96 L212.64,1602.03 L217.14,1602.78 L220.35,1603.54 L273.74,1616.46 L277,1617.18 L282.32,1617.16 L284.97,1616.42 L327.31,1603.12 L329.85,1602.33 L333.22,1601.51 L334.43,1601.39 L352.84,1599.97 L354.1,1599.93 L358.4,1600.7 L361.91,1601.59 L420.82,1616.79 L424.4,1617.65 L430.03,1617.92 L432.69,1617.36 L475.03,1607 L477.52,1606.39 L479.87,1605.81 L480,1605.78" fill="none" stroke="#bfbfbf" stroke-width="3.63" stroke-opacity="0.8" stroke-linejoin="round"/>
<path d="M105,1623.27 L105.07,1623.29 L106.3,1623.61 L107.59,1623.95 L129.68,1629.67 L131.1,1629.95 L134.47,1629.22 L136.81,1628.14 L175.47,1609.31 L177.82,1608.21 L181.5,1607.24 L183.24,1607.27 L210.85,1608.72 L212.64,1608.85 L217.14,1609.67 L220.35,1610.46 L273.74,1623.79 L277,1624.53 L282.32,1624.48 L284.97,1623.69 L327.31,1609.55 L329.85,1608.72 L333.22,1607.89 L334.43,1607.8 L352.84,1607.07 L354.1,1607.07 L358.4,1607.86 L361.91,1608.72 L420.82,1623.57 L424.4,1624.41 L430.03,1624.68 L432.69,1624.14 L475.03,1614.14 L477.52,1613.56 L479.87,1613 L480,1612.97" fill="none" stroke="#797979" stroke-width="3.41" stroke-opacity="0.8" stroke-linejoin="round"/>
<path d="M105,1629.55 L105.07,1629.56 L106.3,1629.82 L107.59,1630.1 L129.68,1634.79 L131.1,1635.01 L134.47,1634.25 L136.81,1633.2 L175.47,1614.93 L177.82,1613.87 L181.5,1612.94 L183.24,1612.98 L210.85,1614.59 L212.64,1614.72 L217.14,1615.55 L220.35,1616.34 L273.74,1629.68 L277,1630.41 L282.32,1630.27 L284.97,1629.38 L327.31,1613.51 L329.85,1612.59 L333.22,1611.73 L334.43,1611.72 L352.84,1612.25 L354.1,1612.33 L358.4,1613.16 L361.91,1614.02 L420.82,1628.55 L424.4,1629.37 L430.03,1629.6 L432.69,1629.03 L475.03,1618.54 L477.52,1617.92 L479.87,1617.34 L480,1617.31" fill="none" stroke="#737373" stroke-width="3.5" stroke-opacity="0.8" stroke-linejoin="round"/>
<path d="M105,1632.95 L105.07,1632.97 L106.3,1633.28 L107.59,1633.6 L129.68,1639.16 L131.1,1639.43 L134.47,1638.74 L136.81,1637.7 L175.47,1619.71 L177.82,1618.66 L181.5,1617.77 L183.24,1617.83 L210.85,1619.84 L212.64,1620 L217.14,1620.82 L220.35,1621.58 L273.74,1634.39 L277,1635.09 L282.32,1634.92 L284.97,1634.03 L327.31,1618.16 L329.85,1617.23 L333.22,1616.42 L334.43,1616.44 L352.84,1617.69 L354.1,1617.8 L358.4,1618.65 L361.91,1619.47 L420.82,1633.44 L424.4,1634.23 L430.03,1634.46 L432.69,1633.92 L475.03,1624.08 L477.52,1623.51 L479.87,1622.96 L480,1622.93" fill="none" stroke="#8c8c8c" stroke-width="3.05" stroke-opacity="0.8" stroke-linejoin="round"/>
<path d="M105,1639.97 L105.07,1639.98 L106.3,1640.23 L107.59,1640.49 L129.68,1644.98 L131.1,1645.19 L134.47,1644.54 L136.81,1643.59 L175.47,1627.28 L177.82,1626.32 L181.5,1625.4 L183.24,1625.33 L210.85,1625.04 L212.64,1625.06 L217.14,1625.84 L220.35,1626.67 L273.74,1640.89 L277,1641.68 L282.32,1641.58 L284.97,1640.7 L327.31,1624.8 L329.85,1623.87 L333.22,1623 L334.43,1622.96 L352.84,1623.09 L354.1,1623.15 L358.4,1623.99 L361.91,1624.88 L420.82,1639.93 L424.4,1640.77 L430.03,1641.01 L432.69,1640.41 L475.03,1629.53 L477.52,1628.89 L479.87,1628.29 L480,1628.25" fill="none" stroke="#9e9e9e" stroke-width="2.87" stroke-opacity="0.8" stroke-linejoin="round"/>
<path d="M105,1645.36 L105.07,1645.38 L106.3,1645.66 L107.59,1645.97 L129.68,1651.12 L131.1,1651.36 L134.47,1650.59 L136.81,1649.49 L175.47,1630.47 L177.82,1629.36 L181.5,1628.4 L183.24,1628.44 L210.85,1630.16 L212.64,1630.3 L217.14,1631.08 L220.35,1631.82 L273.74,1644.23 L277,1644.91 L282.32,1644.84 L284.97,1644.06 L327.31,1630.25 L329.85,1629.43 L333.22,1628.62 L334.43,1628.53 L352.84,1627.75 L354.1,1627.76 L358.4,1628.59 L361.91,1629.52 L420.82,1645.36 L424.4,1646.25 L430.03,1646.53 L432.69,1645.94 L475.03,1635.07 L477.52,1634.43 L479.87,1633.82 L480,1633.79" fill="none" stroke="#a2a2a2" stroke-width="3.33" stroke-opacity="0.8" stroke-linejoin="round"/>
<path d="M105,1649.85 L105.07,1649.86 L106.3,1650.07 L107.59,1650.29 L129.68,1654.1 L131.1,1654.27 L134.47,1653.54 L136.81,1652.56 L175.47,1635.6 L177.82,1634.61 L181.5,1633.71 L183.24,1633.7 L210.85,1634.45 L212.64,1634.53 L217.14,1635.3 L220.35,1636.06 L273.74,1649.09 L277,1649.81 L282.32,1649.75 L284.97,1648.96 L327.31,1634.79 L329.85,1633.95 L333.22,1633.11 L334.43,1633.01 L352.84,1632.06 L354.1,1632.05 L358.4,1632.87 L361.91,1633.79 L420.82,1649.52 L424.4,1650.41 L430.03,1650.71 L432.69,1650.15 L475.03,1639.75 L477.52,1639.14 L479.87,1638.57 L480,1638.54" fill="none" stroke="#6f6f6f" stroke-width="2.74" stroke-opacity="0.8" stroke-linejoin="round"/>
<path d="M105,1656.73 L105.07,1656.75 L106.3,1657.04 L107.59,1657.34 L129.68,1662.53 L131.1,1662.78 L134.47,1662.1 L136.81,1661.09 L175.47,1643.68 L177.82,1642.66 L181.5,1641.77 L183.24,1641.79 L210.85,1643.06 L212.64,1643.18 L217.14,1643.98 L220.35,1644.76 L273.74,1657.92 L277,1658.64 L282.32,1658.48 L284.97,1657.57 L327.31,1641.39 L329.85,1640.44 L333.22,1639.54 L334.43,1639.5 L352.84,1639.53 L354.1,1639.58 L358.4,1640.45 L361.91,1641.36 L420.82,1656.91 L424.4,1657.8 L430.03,1658.11 L432.69,1657.58 L475.03,1647.72 L477.52,1647.15 L479.87,1646.6 L480,1646.57" fill="none" stroke="#b9b9b9" stroke-width="4.76" stroke-opacity="0.8" stroke-linejoin="round"/>
</g></g>
</g>
<rect x="389.1" y="1603.6" width="73.4" height="9.6" fill="#fff"/>
<path d="M109.1,1275 H475.9 V1635.2 H109.1 Z M112.6,1280 V1631.7 H472.4 V1280 Z" fill="#000" fill-rule="evenodd"/>
<g clip-path="url(#ec2)">
<rect x="497.2" y="1278.5" width="364.3" height="350.9" fill="#444"/>
<g clip-path="url(#el2_0)"><g filter="url(#ef2_0)">
<rect x="494.2" y="1275.5" width="370.3" height="356.9" fill="url(#eg2_0)"/>
<ellipse cx="735" cy="1318" rx="45" ry="32" fill="#464646" fill-opacity="0.3"/>
<path d="M477.51,1281.94 L477.78,1281.94 L482.71,1281.9 L487.92,1281.86 L576.76,1281.17 L582.24,1281.13 L592.11,1281.16 L597.59,1281.22 L686.43,1282.39 L691.64,1282.45 L696.57,1282.52 L696.84,1282.52" fill="none" stroke="#606060" stroke-width="2.01" stroke-opacity="0.6" stroke-linejoin="round"/>
<path d="M717.34,1280.51 L717.56,1280.51 L721.41,1280.49 L725.48,1280.47 L794.87,1280.16 L799.15,1280.14 L806.86,1280.15 L811.14,1280.18 L880.53,1280.63 L884.6,1280.65 L888.45,1280.68 L888.66,1280.68" fill="none" stroke="#303030" stroke-width="1.27" stroke-opacity="0.6" stroke-linejoin="round"/>
<path d="M470.73,1288.41 L470.79,1288.42 L471.94,1288.47 L473.15,1288.52 L493.81,1289.43 L495.09,1289.48 L497.38,1289.49 L498.66,1289.45 L519.31,1288.73 L520.53,1288.69 L521.67,1288.65 L521.74,1288.64" fill="none" stroke="#8c8c8c" stroke-width="1.23" stroke-opacity="0.6" stroke-linejoin="round"/>
<path d="M534.89,1289.05 L535.11,1289.05 L538.92,1289.03 L542.94,1289.02 L611.53,1288.7 L615.77,1288.68 L623.39,1288.64 L627.62,1288.63 L696.21,1288.39 L700.24,1288.38 L704.05,1288.36 L704.26,1288.36" fill="none" stroke="#222222" stroke-width="2.02" stroke-opacity="0.6" stroke-linejoin="round"/>
<path d="M709.25,1287.85 L709.61,1287.85 L715.93,1287.83 L722.61,1287.81 L836.53,1287.43 L843.56,1287.41 L856.21,1287.4 L863.25,1287.42 L977.16,1287.78 L983.84,1287.8 L990.17,1287.82 L990.52,1287.82" fill="none" stroke="#4a4a4a" stroke-width="1.39" stroke-opacity="0.6" stroke-linejoin="round"/>
<path d="M470.51,1296.7 L470.82,1296.7 L476.28,1296.76 L482.05,1296.81 L580.41,1297.77 L586.48,1297.82 L597.41,1297.85 L603.48,1297.82 L701.84,1297.27 L707.61,1297.24 L713.08,1297.21 L713.38,1297.21" fill="none" stroke="#2d2d2d" stroke-width="1.96" stroke-opacity="0.6" stroke-linejoin="round"/>
<path d="M736.61,1295.22 L736.9,1295.23 L742.07,1295.27 L747.52,1295.32 L840.57,1296.11 L846.31,1296.15 L856.65,1296.13 L862.39,1296.05 L955.44,1294.78 L960.89,1294.7 L966.06,1294.63 L966.35,1294.63" fill="none" stroke="#232323" stroke-width="2.12" stroke-opacity="0.6" stroke-linejoin="round"/>
<path d="M457.48,1303.01 L457.67,1303.01 L461.21,1302.99 L464.95,1302.98 L528.68,1302.7 L532.61,1302.68 L539.69,1302.64 L543.62,1302.61 L607.35,1302.12 L611.08,1302.09 L614.62,1302.06 L614.82,1302.06" fill="none" stroke="#424242" stroke-width="1.29" stroke-opacity="0.6" stroke-linejoin="round"/>
<path d="M643.55,1301.5 L643.92,1301.5 L650.63,1301.51 L657.71,1301.51 L778.45,1301.63 L785.9,1301.64 L799.32,1301.67 L806.77,1301.68 L927.52,1301.96 L934.6,1301.98 L941.31,1301.99 L941.68,1301.99" fill="none" stroke="#505050" stroke-width="1.42" stroke-opacity="0.6" stroke-linejoin="round"/>
<path d="M431.74,1307.74 L431.85,1307.74 L433.8,1307.8 L435.87,1307.86 L471.09,1308.9 L473.27,1308.95 L477.18,1308.94 L479.36,1308.87 L514.58,1307.58 L516.65,1307.51 L518.61,1307.43 L518.71,1307.43" fill="none" stroke="#282828" stroke-width="1.8" stroke-opacity="0.6" stroke-linejoin="round"/>
<path d="M530.98,1309.13 L531.06,1309.14 L532.57,1309.17 L534.15,1309.21 L561.23,1309.89 L562.9,1309.92 L565.91,1309.91 L567.58,1309.86 L594.65,1308.99 L596.24,1308.93 L597.75,1308.89 L597.83,1308.88" fill="none" stroke="#1c1c1c" stroke-width="1.88" stroke-opacity="0.6" stroke-linejoin="round"/>
<path d="M624.87,1307.91 L625.21,1307.92 L631.36,1307.98 L637.86,1308.05 L748.7,1309.24 L755.54,1309.31 L767.85,1309.35 L774.7,1309.33 L885.53,1308.89 L892.03,1308.86 L898.18,1308.84 L898.53,1308.84" fill="none" stroke="#878787" stroke-width="1.79" stroke-opacity="0.6" stroke-linejoin="round"/>
<path d="M456.44,1313.65 L456.57,1313.65 L458.92,1313.59 L461.4,1313.53 L503.63,1312.48 L506.23,1312.43 L510.93,1312.45 L513.53,1312.54 L555.76,1314.08 L558.24,1314.17 L560.59,1314.26 L560.72,1314.26" fill="none" stroke="#7d7d7d" stroke-width="1.97" stroke-opacity="0.6" stroke-linejoin="round"/>
<path d="M580.04,1313.94 L580.37,1313.94 L586.16,1313.91 L592.28,1313.88 L696.62,1313.37 L703.06,1313.34 L714.65,1313.33 L721.09,1313.35 L825.43,1313.73 L831.55,1313.76 L837.34,1313.78 L837.66,1313.78" fill="none" stroke="#1a1a1a" stroke-width="1.37" stroke-opacity="0.6" stroke-linejoin="round"/>
<path d="M840.44,1316.12 L840.6,1316.12 L843.48,1316.15 L846.52,1316.19 L898.32,1316.78 L901.52,1316.82 L907.27,1316.81 L910.47,1316.78 L962.27,1316.15 L965.31,1316.11 L968.18,1316.08 L968.34,1316.07" fill="none" stroke="#808080" stroke-width="1.45" stroke-opacity="0.6" stroke-linejoin="round"/>
<path d="M421.14,1322.26 L421.2,1322.26 L422.26,1322.3 L423.39,1322.34 L442.57,1323.06 L443.75,1323.1 L445.88,1323.13 L447.07,1323.13 L466.25,1323.03 L467.37,1323.03 L468.44,1323.02 L468.5,1323.02" fill="none" stroke="#2d2d2d" stroke-width="1.8" stroke-opacity="0.6" stroke-linejoin="round"/>
<path d="M485.54,1320.67 L485.78,1320.67 L490.08,1320.67 L494.62,1320.68 L572.01,1320.76 L576.79,1320.76 L585.39,1320.74 L590.17,1320.72 L667.56,1320.27 L672.1,1320.24 L676.4,1320.22 L676.64,1320.22" fill="none" stroke="#7a7a7a" stroke-width="1.97" stroke-opacity="0.6" stroke-linejoin="round"/>
<path d="M677.05,1319.81 L677.32,1319.81 L682.23,1319.83 L687.41,1319.84 L775.77,1320.07 L781.23,1320.08 L791.04,1320.09 L796.5,1320.09 L884.86,1320.1 L890.04,1320.1 L894.95,1320.1 L895.22,1320.1" fill="none" stroke="#868686" stroke-width="2.05" stroke-opacity="0.6" stroke-linejoin="round"/>
<path d="M453.44,1325.91 L453.8,1325.91 L460.31,1325.86 L467.18,1325.8 L584.33,1324.81 L591.56,1324.76 L604.58,1324.72 L611.81,1324.74 L728.96,1325.06 L735.83,1325.08 L742.34,1325.1 L742.7,1325.1" fill="none" stroke="#818181" stroke-width="1.23" stroke-opacity="0.6" stroke-linejoin="round"/>
<path d="M760.58,1327.48 L760.67,1327.48 L762.4,1327.43 L764.22,1327.37 L795.25,1326.47 L797.16,1326.42 L800.61,1326.42 L802.53,1326.47 L833.55,1327.44 L835.37,1327.5 L837.1,1327.55 L837.19,1327.56" fill="none" stroke="#7c7c7c" stroke-width="1.52" stroke-opacity="0.6" stroke-linejoin="round"/>
<path d="M856.95,1326.07 L857.07,1326.06 L859.25,1326.05 L861.56,1326.03 L900.89,1325.73 L903.31,1325.72 L907.68,1325.74 L910.11,1325.77 L949.43,1326.41 L951.74,1326.45 L953.93,1326.48 L954.05,1326.49" fill="none" stroke="#282828" stroke-width="1.75" stroke-opacity="0.6" stroke-linejoin="round"/>
<path d="M406.61,1332.67 L406.91,1332.67 L412.34,1332.66 L418.08,1332.66 L515.8,1332.57 L521.84,1332.56 L532.69,1332.53 L538.73,1332.49 L636.46,1331.87 L642.19,1331.83 L647.62,1331.8 L647.92,1331.8" fill="none" stroke="#737373" stroke-width="1.96" stroke-opacity="0.6" stroke-linejoin="round"/>
<path d="M654.93,1334.74 L655.21,1334.74 L660.27,1334.71 L665.62,1334.68 L756.74,1334.23 L762.36,1334.2 L772.49,1334.16 L778.11,1334.14 L869.23,1333.85 L874.57,1333.84 L879.64,1333.82 L879.92,1333.82" fill="none" stroke="#323232" stroke-width="1.59" stroke-opacity="0.6" stroke-linejoin="round"/>
<path d="M464.5,1343.19 L464.71,1343.19 L468.55,1343.14 L472.61,1343.08 L541.79,1342.1 L546.06,1342.05 L553.75,1342.06 L558.02,1342.12 L627.2,1343.26 L631.25,1343.33 L635.1,1343.39 L635.31,1343.4" fill="none" stroke="#565656" stroke-width="1.71" stroke-opacity="0.6" stroke-linejoin="round"/>
<path d="M664.69,1342.45 L665.06,1342.45 L671.61,1342.45 L678.54,1342.45 L796.57,1342.52 L803.86,1342.52 L816.97,1342.53 L824.26,1342.53 L942.3,1342.56 L949.22,1342.57 L955.78,1342.57 L956.14,1342.57" fill="none" stroke="#393939" stroke-width="1.26" stroke-opacity="0.6" stroke-linejoin="round"/>
<path d="M458.48,1348.6 L458.63,1348.6 L461.39,1348.54 L464.31,1348.48 L514,1347.45 L517.07,1347.39 L522.59,1347.35 L525.66,1347.37 L575.35,1347.71 L578.27,1347.73 L581.03,1347.75 L581.18,1347.75" fill="none" stroke="#8b8b8b" stroke-width="2.01" stroke-opacity="0.6" stroke-linejoin="round"/>
<path d="M611.58,1348.34 L611.78,1348.34 L615.3,1348.36 L619.01,1348.38 L682.39,1348.73 L686.31,1348.75 L693.35,1348.75 L697.26,1348.72 L760.64,1348.28 L764.36,1348.25 L767.88,1348.23 L768.07,1348.22" fill="none" stroke="#5f5f5f" stroke-width="1.72" stroke-opacity="0.6" stroke-linejoin="round"/>
<path d="M783.65,1348.43 L783.83,1348.43 L787.08,1348.42 L790.51,1348.41 L848.99,1348.25 L852.6,1348.24 L859.1,1348.21 L862.71,1348.2 L921.19,1347.95 L924.62,1347.93 L927.86,1347.92 L928.04,1347.92" fill="none" stroke="#2f2f2f" stroke-width="1.9" stroke-opacity="0.6" stroke-linejoin="round"/>
<path d="M448.4,1356.91 L448.53,1356.91 L450.81,1356.93 L453.22,1356.95 L494.32,1357.27 L496.85,1357.29 L501.42,1357.33 L503.96,1357.36 L545.05,1357.79 L547.46,1357.81 L549.75,1357.84 L549.87,1357.84" fill="none" stroke="#424242" stroke-width="1.29" stroke-opacity="0.6" stroke-linejoin="round"/>
<path d="M569.06,1358.12 L569.27,1358.12 L573.05,1358.16 L577.04,1358.2 L645.03,1358.88 L649.23,1358.92 L656.79,1358.93 L660.98,1358.91 L728.98,1358.43 L732.97,1358.4 L736.74,1358.38 L736.95,1358.38" fill="none" stroke="#6a6a6a" stroke-width="1.96" stroke-opacity="0.6" stroke-linejoin="round"/>
<path d="M763.67,1357.5 L764,1357.5 L769.93,1357.46 L776.18,1357.43 L882.82,1356.81 L889.41,1356.78 L901.26,1356.81 L907.84,1356.89 L1014.48,1358.18 L1020.74,1358.26 L1026.66,1358.33 L1026.99,1358.33" fill="none" stroke="#686868" stroke-width="1.59" stroke-opacity="0.6" stroke-linejoin="round"/>
</g></g>
<g clip-path="url(#el2_1)"><g filter="url(#ef2_1)">
<rect x="494.2" y="1275.5" width="370.3" height="356.9" fill="url(#eg2_1)"/>
<path d="M519.94,1395.52 L520.01,1395.5 L521.25,1395.16 L522.57,1394.8 L544.95,1388.64 L546.37,1388.27 L549.48,1387.83 L551.52,1387.7 L585.09,1385.83 L587.19,1385.77 L591.34,1386.53 L593.85,1387.43 L634.89,1402.91 L637.38,1403.83 L641.21,1404.85 L642.98,1405.06 L670.96,1407.86 L672.66,1408.01 L675.25,1407.9 L676.43,1407.64 L695.09,1402.97 L696.18,1402.7 L697.22,1402.44 L697.28,1402.43" fill="none" stroke="#ebebeb" stroke-width="2.4" stroke-opacity="0.9" stroke-linejoin="round"/>
<path d="M750.25,1394.37 L784.8,1405.88" fill="none" stroke="#bebebe" stroke-width="2" stroke-opacity="0.8" stroke-linejoin="round"/>
<path d="M835.46,1390.22 L870.01,1385.15" fill="none" stroke="#bebebe" stroke-width="2" stroke-opacity="0.8" stroke-linejoin="round"/>
<path d="M490,1480.73 L490.07,1480.77 L491.42,1481.39 L492.84,1482.05 L517.1,1493.24 L518.66,1493.95 L522.6,1495.67 L525.41,1496.85 L572.05,1516.44 L574.82,1517.58 L578.14,1518.67 L579.05,1518.73 L592.11,1518.73 L592.97,1518.63 L595.46,1516.76 L597.36,1514.8 L629.07,1481.22 L630.98,1479.24 L633.57,1477.16 L634.54,1476.84 L649.47,1473.11 L650.38,1472.93 L651.83,1473.45 L652.53,1474.2 L663.72,1487.26 L664.52,1488.1 L667.63,1490.12 L670.29,1491.53 L715.06,1514.85 L717.73,1516.22 L721.05,1517.67 L722.06,1517.91 L736.98,1520.71 L737.96,1520.81 L740.55,1519.77 L742.45,1518.52 L774.17,1497.07 L776.08,1495.78 L778.77,1494.02 L779.85,1493.35 L796.64,1483.09 L797.68,1482.5 L799.44,1482.24 L800.36,1482.54 L815.29,1488.14 L816.3,1488.52 L819.51,1489.76 L822.07,1490.76 L864.98,1507.55 L867.49,1508.54 L869.88,1509.47 L870.01,1509.52" fill="none" stroke="#aaaaaa" stroke-width="2" stroke-opacity="0.8" stroke-linejoin="round"/>
</g></g>
<g clip-path="url(#el2_2)"><g filter="url(#ef2_2)">
<rect x="494.2" y="1275.5" width="370.3" height="356.9" fill="url(#eg2_2)"/>
<path d="M490,1521.5 L490.28,1521.57 L492.83,1522.21 L495.66,1522.93 L518.89,1528.82 L522.24,1529.64 L529.55,1531.31 L535.11,1532.51 L578.47,1541.8 L584.25,1542.8 L593.6,1542.54 L599.22,1541.24 L641.03,1529.62 L646.31,1528.24 L652.6,1527.22 L654.99,1527.36 L670.47,1529.68 L672.9,1530.12 L679.53,1531.82 L685.19,1533.46 L730.1,1546.62 L736.05,1548.02 L745.4,1547.59 L750.84,1545.68 L791.11,1528.64 L796.57,1526.68 L806.09,1525.88 L812.23,1526.87 L858.69,1536.62 L864.35,1537.81 L869.45,1538.88 L870.01,1539 L870.01,1544.5 L869.45,1544.38 L864.35,1543.31 L858.69,1542.12 L812.23,1532.37 L806.09,1531.38 L796.57,1532.18 L791.11,1534.14 L750.84,1551.18 L745.4,1553.09 L736.05,1553.52 L730.1,1552.12 L685.19,1538.96 L679.53,1537.32 L672.9,1535.62 L670.47,1535.18 L654.99,1532.86 L652.6,1532.72 L646.31,1533.74 L641.03,1535.12 L599.22,1546.74 L593.6,1548.04 L584.25,1548.3 L578.47,1547.3 L535.11,1538.01 L529.55,1536.81 L522.24,1535.14 L518.89,1534.32 L495.66,1528.43 L492.83,1527.71 L490.28,1527.07 L490,1527 Z" fill="#ffffff" fill-opacity="1"/>
<path d="M490,1527 L490.28,1527.07 L492.83,1527.71 L495.66,1528.43 L518.89,1534.32 L522.24,1535.14 L529.55,1536.81 L535.11,1538.01 L578.47,1547.3 L584.25,1548.3 L593.6,1548.04 L599.22,1546.74 L641.03,1535.12 L646.31,1533.74 L652.6,1532.72 L654.99,1532.86 L670.47,1535.18 L672.9,1535.62 L679.53,1537.32 L685.19,1538.96 L730.1,1552.12 L736.05,1553.52 L745.4,1553.09 L750.84,1551.18 L791.11,1534.14 L796.57,1532.18 L806.09,1531.38 L812.23,1532.37 L858.69,1542.12 L864.35,1543.31 L869.45,1544.38 L870.01,1544.5 L870.01,1569 L869.45,1568.88 L864.35,1567.81 L858.69,1566.62 L812.23,1556.87 L806.09,1555.88 L796.57,1556.68 L791.11,1558.64 L750.84,1575.68 L745.4,1577.59 L736.05,1578.02 L730.1,1576.62 L685.19,1563.46 L679.53,1561.82 L672.9,1560.12 L670.47,1559.68 L654.99,1557.36 L652.6,1557.22 L646.31,1558.24 L641.03,1559.62 L599.22,1571.24 L593.6,1572.54 L584.25,1572.8 L578.47,1571.8 L535.11,1562.51 L529.55,1561.31 L522.24,1559.64 L518.89,1558.82 L495.66,1552.93 L492.83,1552.21 L490.28,1551.57 L490,1551.5 Z" fill="#969696" fill-opacity="1"/>
<path d="M490,1528.54 L490.09,1528.57 L491.64,1529.05 L493.28,1529.56 L521.26,1538.23 L523.07,1538.77 L527.52,1539.8 L530.67,1540.4 L582.91,1550.28 L586.13,1550.81 L591.83,1550.58 L594.94,1549.78 L645.31,1535.69 L648.32,1534.87 L652.15,1534.29 L653.4,1534.46 L672.06,1538.12 L673.32,1538.38 L677.36,1539.44 L680.59,1540.35 L734.69,1555.71 L738.01,1556.55 L743.71,1556.32 L746.73,1555.21 L795.23,1535.57 L798.25,1534.45 L804.05,1533.96 L807.48,1534.52 L863.45,1545.21 L866.73,1545.84 L869.84,1546.43 L870.01,1546.46" fill="none" stroke="#dddddd" stroke-width="1.38" stroke-opacity="0.8" stroke-linejoin="round"/>
<path d="M490,1535.28 L490.09,1535.3 L491.64,1535.67 L493.28,1536.06 L521.26,1542.75 L523.07,1543.18 L527.52,1544.2 L530.67,1544.9 L582.91,1556.48 L586.13,1557.11 L591.83,1556.96 L594.94,1556.15 L645.31,1541.81 L648.32,1540.98 L652.15,1540.27 L653.4,1540.33 L672.06,1542.06 L673.32,1542.22 L677.36,1543.27 L680.59,1544.28 L734.69,1561.49 L738.01,1562.43 L743.71,1562.22 L746.73,1561.04 L795.23,1540.05 L798.25,1538.86 L804.05,1538.32 L807.48,1538.91 L863.45,1550.22 L866.73,1550.88 L869.84,1551.51 L870.01,1551.54" fill="none" stroke="#575757" stroke-width="1.98" stroke-opacity="0.8" stroke-linejoin="round"/>
<path d="M490,1538.67 L490.09,1538.69 L491.64,1539.07 L493.28,1539.47 L521.26,1546.3 L523.07,1546.73 L527.52,1547.75 L530.67,1548.44 L582.91,1559.94 L586.13,1560.57 L591.83,1560.4 L594.94,1559.57 L645.31,1544.94 L648.32,1544.09 L652.15,1543.45 L653.4,1543.58 L672.06,1546.59 L673.32,1546.82 L677.36,1547.86 L680.59,1548.79 L734.69,1564.51 L738.01,1565.36 L743.71,1565.06 L746.73,1563.87 L795.23,1542.78 L798.25,1541.58 L804.05,1541.13 L807.48,1541.82 L863.45,1554.7 L866.73,1555.46 L869.84,1556.17 L870.01,1556.21" fill="none" stroke="#c6c6c6" stroke-width="1.96" stroke-opacity="0.8" stroke-linejoin="round"/>
<path d="M490,1541.72 L490.09,1541.74 L491.64,1542.09 L493.28,1542.46 L521.26,1548.72 L523.07,1549.13 L527.52,1550.16 L530.67,1550.9 L582.91,1563.2 L586.13,1563.88 L591.83,1563.77 L594.94,1562.97 L645.31,1548.72 L648.32,1547.89 L652.15,1547.22 L653.4,1547.29 L672.06,1549.31 L673.32,1549.47 L677.36,1550.45 L680.59,1551.38 L734.69,1567.01 L738.01,1567.87 L743.71,1567.64 L746.73,1566.53 L795.23,1546.79 L798.25,1545.67 L804.05,1545.18 L807.48,1545.76 L863.45,1556.71 L866.73,1557.35 L869.84,1557.96 L870.01,1557.99" fill="none" stroke="#b8b8b8" stroke-width="2.44" stroke-opacity="0.8" stroke-linejoin="round"/>
<path d="M490,1546.09 L490.09,1546.11 L491.64,1546.53 L493.28,1546.97 L521.26,1554.47 L523.07,1554.94 L527.52,1556 L530.67,1556.71 L582.91,1568.31 L586.13,1568.95 L591.83,1568.76 L594.94,1567.92 L645.31,1552.94 L648.32,1552.07 L652.15,1551.4 L653.4,1551.52 L672.06,1554.43 L673.32,1554.65 L677.36,1555.71 L680.59,1556.67 L734.69,1572.87 L738.01,1573.75 L743.71,1573.48 L746.73,1572.3 L795.23,1551.32 L798.25,1550.13 L804.05,1549.64 L807.48,1550.3 L863.45,1562.53 L866.73,1563.25 L869.84,1563.93 L870.01,1563.97" fill="none" stroke="#7e7e7e" stroke-width="1.87" stroke-opacity="0.8" stroke-linejoin="round"/>
<path d="M490,1550.41 L490.09,1550.43 L491.64,1550.79 L493.28,1551.16 L521.26,1557.54 L523.07,1557.95 L527.52,1559.01 L530.67,1559.77 L582.91,1572.44 L586.13,1573.13 L591.83,1573 L594.94,1572.16 L645.31,1557.13 L648.32,1556.26 L652.15,1555.58 L653.4,1555.71 L672.06,1558.63 L673.32,1558.85 L677.36,1559.89 L680.59,1560.83 L734.69,1576.64 L738.01,1577.5 L743.71,1577.29 L746.73,1576.18 L795.23,1556.52 L798.25,1555.4 L804.05,1554.96 L807.48,1555.59 L863.45,1567.38 L866.73,1568.07 L869.84,1568.73 L870.01,1568.77" fill="none" stroke="#6f6f6f" stroke-width="2.08" stroke-opacity="0.8" stroke-linejoin="round"/>
<path d="M490,1554.5 L490.28,1554.57 L492.83,1555.21 L495.66,1555.93 L518.89,1561.82 L522.24,1562.64 L529.55,1564.31 L535.11,1565.51 L578.47,1574.8 L584.25,1575.8 L593.6,1575.54 L599.22,1574.24 L641.03,1562.62 L646.31,1561.24 L652.6,1560.22 L654.99,1560.36 L670.47,1562.68 L672.9,1563.12 L679.53,1564.82 L685.19,1566.46 L730.1,1579.62 L736.05,1581.02 L745.4,1580.59 L750.84,1578.68 L791.11,1561.64 L796.57,1559.68 L806.09,1558.88 L812.23,1559.87 L858.69,1569.62 L864.35,1570.81 L869.45,1571.88 L870.01,1572 L870.01,1599 L869.45,1598.88 L864.35,1597.81 L858.69,1596.62 L812.23,1586.87 L806.09,1585.88 L796.57,1586.68 L791.11,1588.64 L750.84,1605.68 L745.4,1607.59 L736.05,1608.02 L730.1,1606.62 L685.19,1593.46 L679.53,1591.82 L672.9,1590.12 L670.47,1589.68 L654.99,1587.36 L652.6,1587.22 L646.31,1588.24 L641.03,1589.62 L599.22,1601.24 L593.6,1602.54 L584.25,1602.8 L578.47,1601.8 L535.11,1592.51 L529.55,1591.31 L522.24,1589.64 L518.89,1588.82 L495.66,1582.93 L492.83,1582.21 L490.28,1581.57 L490,1581.5 Z" fill="#fafafa" fill-opacity="1"/>
<path d="M490,1581.5 L490.28,1581.57 L492.83,1582.21 L495.66,1582.93 L518.89,1588.82 L522.24,1589.64 L529.55,1591.31 L535.11,1592.51 L578.47,1601.8 L584.25,1602.8 L593.6,1602.54 L599.22,1601.24 L641.03,1589.62 L646.31,1588.24 L652.6,1587.22 L654.99,1587.36 L670.47,1589.68 L672.9,1590.12 L679.53,1591.82 L685.19,1593.46 L730.1,1606.62 L736.05,1608.02 L745.4,1607.59 L750.84,1605.68 L791.11,1588.64 L796.57,1586.68 L806.09,1585.88 L812.23,1586.87 L858.69,1596.62 L864.35,1597.81 L869.45,1598.88 L870.01,1599 L870.01,1611 L869.45,1610.88 L864.35,1609.81 L858.69,1608.62 L812.23,1598.87 L806.09,1597.88 L796.57,1598.68 L791.11,1600.64 L750.84,1617.68 L745.4,1619.59 L736.05,1620.02 L730.1,1618.62 L685.19,1605.46 L679.53,1603.82 L672.9,1602.12 L670.47,1601.68 L654.99,1599.36 L652.6,1599.22 L646.31,1600.24 L641.03,1601.62 L599.22,1613.24 L593.6,1614.54 L584.25,1614.8 L578.47,1613.8 L535.11,1604.51 L529.55,1603.31 L522.24,1601.64 L518.89,1600.82 L495.66,1594.93 L492.83,1594.21 L490.28,1593.57 L490,1593.5 Z" fill="#bebebe" fill-opacity="1"/>
<path d="M490,1584.28 L490.09,1584.3 L491.64,1584.62 L493.28,1584.96 L521.26,1590.74 L523.07,1591.11 L527.52,1592.1 L530.67,1592.83 L582.91,1604.84 L586.13,1605.5 L591.83,1605.38 L594.94,1604.58 L645.31,1590.31 L648.32,1589.49 L652.15,1588.86 L653.4,1588.99 L672.06,1591.96 L673.32,1592.18 L677.36,1593.19 L680.59,1594.09 L734.69,1609.3 L738.01,1610.13 L743.71,1609.84 L746.73,1608.69 L795.23,1588.27 L798.25,1587.11 L804.05,1586.65 L807.48,1587.3 L863.45,1599.46 L866.73,1600.18 L869.84,1600.85 L870.01,1600.89" fill="none" stroke="#e0e0e0" stroke-width="2.92" stroke-opacity="0.75" stroke-linejoin="round"/>
<path d="M490,1586.72 L490.09,1586.75 L491.64,1587.2 L493.28,1587.67 L521.26,1595.77 L523.07,1596.28 L527.52,1597.33 L530.67,1597.98 L582.91,1608.7 L586.13,1609.29 L591.83,1609.12 L594.94,1608.34 L645.31,1594.5 L648.32,1593.69 L652.15,1593.1 L653.4,1593.24 L672.06,1596.4 L673.32,1596.63 L677.36,1597.65 L680.59,1598.56 L734.69,1613.81 L738.01,1614.64 L743.71,1614.32 L746.73,1613.13 L795.23,1592.12 L798.25,1590.93 L804.05,1590.48 L807.48,1591.17 L863.45,1604.1 L866.73,1604.86 L869.84,1605.58 L870.01,1605.62" fill="none" stroke="#7e7e7e" stroke-width="1.54" stroke-opacity="0.75" stroke-linejoin="round"/>
<path d="M490,1593.46 L490.09,1593.48 L491.64,1593.82 L493.28,1594.18 L521.26,1600.28 L523.07,1600.68 L527.52,1601.67 L530.67,1602.39 L582.91,1614.22 L586.13,1614.87 L591.83,1614.72 L594.94,1613.9 L645.31,1599.27 L648.32,1598.42 L652.15,1597.79 L653.4,1597.92 L672.06,1601.05 L673.32,1601.28 L677.36,1602.35 L680.59,1603.29 L734.69,1619.29 L738.01,1620.17 L743.71,1619.89 L746.73,1618.7 L795.23,1597.62 L798.25,1596.42 L804.05,1595.88 L807.48,1596.48 L863.45,1607.86 L866.73,1608.53 L869.84,1609.16 L870.01,1609.2" fill="none" stroke="#a8a8a8" stroke-width="2.43" stroke-opacity="0.75" stroke-linejoin="round"/>
<path d="M490,1597.1 L490.09,1597.13 L491.64,1597.54 L493.28,1597.97 L521.26,1605.38 L523.07,1605.84 L527.52,1606.83 L530.67,1607.47 L582.91,1617.92 L586.13,1618.49 L591.83,1618.29 L594.94,1617.5 L645.31,1603.5 L648.32,1602.69 L652.15,1602.08 L653.4,1602.22 L672.06,1605.25 L673.32,1605.48 L677.36,1606.57 L680.59,1607.56 L734.69,1624.21 L738.01,1625.12 L743.71,1624.85 L746.73,1623.64 L795.23,1602.12 L798.25,1600.89 L804.05,1600.34 L807.48,1600.96 L863.45,1612.58 L866.73,1613.26 L869.84,1613.9 L870.01,1613.94" fill="none" stroke="#b5b5b5" stroke-width="2.39" stroke-opacity="0.75" stroke-linejoin="round"/>
<path d="M490,1601.1 L490.09,1601.12 L491.64,1601.54 L493.28,1601.98 L521.26,1609.47 L523.07,1609.94 L527.52,1610.93 L530.67,1611.57 L582.91,1621.97 L586.13,1622.53 L591.83,1622.34 L594.94,1621.55 L645.31,1607.62 L648.32,1606.82 L652.15,1606.19 L653.4,1606.3 L672.06,1608.97 L673.32,1609.18 L677.36,1610.21 L680.59,1611.15 L734.69,1627.03 L738.01,1627.9 L743.71,1627.68 L746.73,1626.57 L795.23,1606.82 L798.25,1605.7 L804.05,1605.23 L807.48,1605.84 L863.45,1617.22 L866.73,1617.89 L869.84,1618.52 L870.01,1618.56" fill="none" stroke="#262626" stroke-width="1.91" stroke-opacity="0.75" stroke-linejoin="round"/>
<path d="M490,1605.51 L490.09,1605.54 L491.64,1605.94 L493.28,1606.37 L521.26,1613.65 L523.07,1614.11 L527.52,1615.09 L530.67,1615.71 L582.91,1625.95 L586.13,1626.5 L591.83,1626.32 L594.94,1625.56 L645.31,1612.07 L648.32,1611.29 L652.15,1610.73 L653.4,1610.89 L672.06,1614.29 L673.32,1614.54 L677.36,1615.58 L680.59,1616.49 L734.69,1631.82 L738.01,1632.65 L743.71,1632.4 L746.73,1631.27 L795.23,1611.32 L798.25,1610.19 L804.05,1609.66 L807.48,1610.22 L863.45,1620.71 L866.73,1621.32 L869.84,1621.91 L870.01,1621.94" fill="none" stroke="#343434" stroke-width="2.68" stroke-opacity="0.75" stroke-linejoin="round"/>
<path d="M490,1610.08 L490.09,1610.11 L491.64,1610.57 L493.28,1611.07 L521.26,1619.43 L523.07,1619.95 L527.52,1621.03 L530.67,1621.7 L582.91,1632.69 L586.13,1633.3 L591.83,1633.16 L594.94,1632.4 L645.31,1618.87 L648.32,1618.08 L652.15,1617.47 L653.4,1617.58 L672.06,1620.1 L673.32,1620.3 L677.36,1621.34 L680.59,1622.29 L734.69,1638.38 L738.01,1639.25 L743.71,1638.97 L746.73,1637.78 L795.23,1616.59 L798.25,1615.39 L804.05,1614.91 L807.48,1615.57 L863.45,1628.05 L866.73,1628.79 L869.84,1629.48 L870.01,1629.52" fill="none" stroke="#2a2a2a" stroke-width="2.12" stroke-opacity="0.75" stroke-linejoin="round"/>
<path d="M490,1616.16 L490.09,1616.19 L491.64,1616.56 L493.28,1616.96 L521.26,1623.75 L523.07,1624.18 L527.52,1625.17 L530.67,1625.84 L582.91,1636.84 L586.13,1637.45 L591.83,1637.31 L594.94,1636.57 L645.31,1623.21 L648.32,1622.43 L652.15,1621.82 L653.4,1621.92 L672.06,1624.28 L673.32,1624.47 L677.36,1625.55 L680.59,1626.55 L734.69,1643.61 L738.01,1644.54 L743.71,1644.35 L746.73,1643.2 L795.23,1622.71 L798.25,1621.54 L804.05,1620.99 L807.48,1621.54 L863.45,1632.11 L866.73,1632.73 L869.84,1633.31 L870.01,1633.35" fill="none" stroke="#676767" stroke-width="2.96" stroke-opacity="0.75" stroke-linejoin="round"/>
<path d="M490,1620.26 L490.09,1620.28 L491.64,1620.7 L493.28,1621.14 L521.26,1628.66 L523.07,1629.14 L527.52,1630.13 L530.67,1630.75 L582.91,1641.04 L586.13,1641.6 L591.83,1641.41 L594.94,1640.64 L645.31,1626.92 L648.32,1626.13 L652.15,1625.56 L653.4,1625.73 L672.06,1629.3 L673.32,1629.56 L677.36,1630.6 L680.59,1631.5 L734.69,1646.61 L738.01,1647.44 L743.71,1647.13 L746.73,1645.96 L795.23,1625.27 L798.25,1624.1 L804.05,1623.65 L807.48,1624.33 L863.45,1636.97 L866.73,1637.72 L869.84,1638.42 L870.01,1638.46" fill="none" stroke="#8d8d8d" stroke-width="1.75" stroke-opacity="0.75" stroke-linejoin="round"/>
<path d="M490,1625.53 L490.09,1625.55 L491.64,1625.97 L493.28,1626.41 L521.26,1633.96 L523.07,1634.43 L527.52,1635.49 L530.67,1636.18 L582.91,1647.59 L586.13,1648.22 L591.83,1648.06 L594.94,1647.26 L645.31,1632.96 L648.32,1632.12 L652.15,1631.45 L653.4,1631.53 L672.06,1633.68 L673.32,1633.86 L677.36,1634.86 L680.59,1635.8 L734.69,1651.75 L738.01,1652.62 L743.71,1652.38 L746.73,1651.24 L795.23,1630.9 L798.25,1629.75 L804.05,1629.3 L807.48,1629.96 L863.45,1642.3 L866.73,1643.03 L869.84,1643.71 L870.01,1643.75" fill="none" stroke="#dadada" stroke-width="2.53" stroke-opacity="0.75" stroke-linejoin="round"/>
<path d="M490,1629.81 L490.09,1629.84 L491.64,1630.28 L493.28,1630.74 L521.26,1638.68 L523.07,1639.18 L527.52,1640.21 L530.67,1640.87 L582.91,1651.58 L586.13,1652.16 L591.83,1652 L594.94,1651.23 L645.31,1637.61 L648.32,1636.82 L652.15,1636.24 L653.4,1636.39 L672.06,1639.64 L673.32,1639.87 L677.36,1640.88 L680.59,1641.77 L734.69,1656.67 L738.01,1657.49 L743.71,1657.24 L746.73,1656.15 L795.23,1636.77 L798.25,1635.66 L804.05,1635.16 L807.48,1635.71 L863.45,1646.04 L866.73,1646.65 L869.84,1647.22 L870.01,1647.26" fill="none" stroke="#919191" stroke-width="2.74" stroke-opacity="0.75" stroke-linejoin="round"/>
</g></g>
</g>
<rect x="780.6" y="1603.5" width="73.7" height="9.7" fill="#fff"/>
<path d="M494.2,1275.5 H864.5 V1632.4 H494.2 Z M497.7,1279 V1628.9 H861 V1279 Z" fill="#000" fill-rule="evenodd"/>
<g clip-path="url(#ec3)">
<rect x="891.2" y="1275.7" width="361.3" height="356.1" fill="#444"/>
<g clip-path="url(#el3_0)"><g filter="url(#ef3_0)">
<rect x="888.2" y="1272.7" width="367.3" height="362.1" fill="url(#eg3_0)"/>
<path d="M886.77,1278.55 L886.88,1278.55 L888.76,1278.5 L890.75,1278.45 L924.66,1277.57 L926.75,1277.52 L930.52,1277.49 L932.61,1277.5 L966.52,1277.75 L968.5,1277.76 L970.39,1277.78 L970.49,1277.78" fill="none" stroke="#bfbfbf" stroke-width="1.52" stroke-opacity="0.6" stroke-linejoin="round"/>
<path d="M1000.8,1278.49 L1000.91,1278.48 L1003.03,1278.43 L1005.27,1278.38 L1043.43,1277.5 L1045.79,1277.45 L1050.03,1277.45 L1052.38,1277.51 L1090.54,1278.45 L1092.78,1278.5 L1094.9,1278.55 L1095.02,1278.56" fill="none" stroke="#e4e4e4" stroke-width="1.83" stroke-opacity="0.6" stroke-linejoin="round"/>
<path d="M1111.52,1276.56 L1111.95,1276.56 L1119.81,1276.62 L1128.09,1276.69 L1269.4,1277.76 L1278.12,1277.81 L1293.82,1277.81 L1302.54,1277.74 L1443.85,1276.51 L1452.14,1276.44 L1459.99,1276.37 L1460.42,1276.37" fill="none" stroke="#a0a0a0" stroke-width="1.48" stroke-opacity="0.6" stroke-linejoin="round"/>
<path d="M792.49,1284.71 L792.63,1284.71 L795.17,1284.72 L797.86,1284.73 L843.67,1284.84 L846.49,1284.85 L851.58,1284.89 L854.41,1284.93 L900.22,1285.55 L902.9,1285.59 L905.45,1285.62 L905.59,1285.62" fill="none" stroke="#adadad" stroke-width="2.37" stroke-opacity="0.6" stroke-linejoin="round"/>
<path d="M919.81,1285.93 L919.95,1285.92 L922.45,1285.86 L925.09,1285.79 L970.11,1284.65 L972.89,1284.59 L977.89,1284.61 L980.67,1284.7 L1025.69,1286.22 L1028.33,1286.31 L1030.83,1286.39 L1030.97,1286.4" fill="none" stroke="#eeeeee" stroke-width="2.42" stroke-opacity="0.6" stroke-linejoin="round"/>
<path d="M1057.01,1285.15 L1057.16,1285.15 L1059.76,1285.11 L1062.5,1285.06 L1109.28,1284.32 L1112.17,1284.28 L1117.36,1284.29 L1120.25,1284.34 L1167.03,1285.32 L1169.78,1285.37 L1172.38,1285.43 L1172.52,1285.43" fill="none" stroke="#eaeaea" stroke-width="1.51" stroke-opacity="0.6" stroke-linejoin="round"/>
<path d="M1174.18,1284.15 L1174.36,1284.15 L1177.76,1284.17 L1181.34,1284.19 L1242.41,1284.55 L1246.18,1284.57 L1252.97,1284.6 L1256.74,1284.61 L1317.82,1284.8 L1321.4,1284.81 L1324.79,1284.82 L1324.98,1284.82" fill="none" stroke="#b9b9b9" stroke-width="2.55" stroke-opacity="0.6" stroke-linejoin="round"/>
<path d="M809.02,1293.8 L809.19,1293.81 L812.39,1293.81 L815.76,1293.82 L873.22,1293.93 L876.77,1293.94 L883.15,1293.95 L886.7,1293.96 L944.17,1294.13 L947.54,1294.14 L950.73,1294.15 L950.91,1294.15" fill="none" stroke="#a9a9a9" stroke-width="1.33" stroke-opacity="0.6" stroke-linejoin="round"/>
<path d="M958.62,1294.02 L959.03,1294.02 L966.37,1293.96 L974.12,1293.9 L1106.27,1292.92 L1114.43,1292.87 L1129.12,1292.86 L1137.27,1292.9 L1269.43,1293.72 L1277.18,1293.77 L1284.52,1293.82 L1284.93,1293.82" fill="none" stroke="#d5d5d5" stroke-width="2.47" stroke-opacity="0.6" stroke-linejoin="round"/>
<path d="M868.31,1302.23 L868.54,1302.24 L872.74,1302.28 L877.17,1302.32 L952.67,1303.02 L957.34,1303.06 L965.73,1303.06 L970.39,1303.03 L1045.89,1302.43 L1050.32,1302.39 L1054.52,1302.36 L1054.75,1302.36" fill="none" stroke="#eaeaea" stroke-width="1.37" stroke-opacity="0.6" stroke-linejoin="round"/>
<path d="M1058.71,1301.48 L1059.14,1301.48 L1066.9,1301.46 L1075.09,1301.44 L1214.77,1301.04 L1223.39,1301.01 L1238.91,1301.03 L1247.54,1301.08 L1387.22,1301.82 L1395.41,1301.87 L1403.17,1301.91 L1403.6,1301.91" fill="none" stroke="#a3a3a3" stroke-width="2.4" stroke-opacity="0.6" stroke-linejoin="round"/>
<path d="M809.16,1309.73 L809.32,1309.73 L812.32,1309.75 L815.49,1309.77 L869.52,1310.1 L872.85,1310.12 L878.86,1310.08 L882.19,1310.01 L936.22,1308.93 L939.39,1308.87 L942.39,1308.81 L942.56,1308.81" fill="none" stroke="#bdbdbd" stroke-width="1.36" stroke-opacity="0.6" stroke-linejoin="round"/>
<path d="M948.07,1310.81 L948.41,1310.81 L954.43,1310.85 L960.78,1310.89 L1069.14,1311.54 L1075.82,1311.57 L1087.86,1311.55 L1094.55,1311.49 L1202.9,1310.44 L1209.26,1310.38 L1215.28,1310.33 L1215.61,1310.32" fill="none" stroke="#dfdfdf" stroke-width="2.27" stroke-opacity="0.6" stroke-linejoin="round"/>
<path d="M1255.01,1309.02 L1255.21,1309.02 L1258.69,1308.99 L1262.36,1308.96 L1324.97,1308.43 L1328.84,1308.4 L1335.8,1308.37 L1339.66,1308.37 L1402.28,1308.37 L1405.95,1308.37 L1409.43,1308.37 L1409.62,1308.37" fill="none" stroke="#979797" stroke-width="1.26" stroke-opacity="0.6" stroke-linejoin="round"/>
<path d="M883,1316.93 L883.29,1316.94 L888.56,1316.98 L894.12,1317.02 L988.97,1317.8 L994.82,1317.85 L1005.36,1317.83 L1011.22,1317.77 L1106.06,1316.66 L1111.62,1316.6 L1116.89,1316.53 L1117.19,1316.53" fill="none" stroke="#acacac" stroke-width="1.46" stroke-opacity="0.6" stroke-linejoin="round"/>
<path d="M1135.38,1318.93 L1135.7,1318.93 L1141.52,1318.92 L1147.66,1318.9 L1252.34,1318.67 L1258.8,1318.65 L1270.44,1318.65 L1276.9,1318.67 L1381.58,1318.95 L1387.72,1318.96 L1393.54,1318.98 L1393.86,1318.98" fill="none" stroke="#cdcdcd" stroke-width="2.2" stroke-opacity="0.6" stroke-linejoin="round"/>
<path d="M841.31,1326.57 L841.42,1326.57 L843.45,1326.61 L845.59,1326.64 L882.08,1327.24 L884.33,1327.27 L888.38,1327.31 L890.64,1327.32 L927.12,1327.44 L929.26,1327.45 L931.29,1327.46 L931.4,1327.46" fill="none" stroke="#a3a3a3" stroke-width="2.17" stroke-opacity="0.6" stroke-linejoin="round"/>
<path d="M954.59,1324.58 L954.72,1324.58 L956.96,1324.57 L959.33,1324.56 L999.77,1324.37 L1002.27,1324.36 L1006.76,1324.33 L1009.26,1324.31 L1049.7,1323.91 L1052.07,1323.88 L1054.32,1323.86 L1054.44,1323.86" fill="none" stroke="#f0f0f0" stroke-width="1.73" stroke-opacity="0.6" stroke-linejoin="round"/>
<path d="M1066.73,1325.85 L1066.95,1325.84 L1070.95,1325.81 L1075.17,1325.77 L1147.12,1325.15 L1151.56,1325.11 L1159.55,1325.14 L1164,1325.2 L1235.95,1326.28 L1240.17,1326.34 L1244.16,1326.4 L1244.39,1326.4" fill="none" stroke="#e1e1e1" stroke-width="2.23" stroke-opacity="0.6" stroke-linejoin="round"/>
<path d="M826.53,1329.96 L826.93,1329.96 L834.1,1330 L841.66,1330.05 L970.7,1330.81 L978.67,1330.85 L993.01,1330.84 L1000.97,1330.79 L1130.01,1329.8 L1137.58,1329.75 L1144.75,1329.69 L1145.15,1329.69" fill="none" stroke="#b1b1b1" stroke-width="1.76" stroke-opacity="0.6" stroke-linejoin="round"/>
<path d="M1177.85,1330 L1178.06,1330 L1181.78,1329.97 L1185.7,1329.95 L1252.63,1329.58 L1256.76,1329.56 L1264.19,1329.58 L1268.32,1329.62 L1335.25,1330.31 L1339.17,1330.35 L1342.89,1330.39 L1343.1,1330.39" fill="none" stroke="#ababab" stroke-width="1.72" stroke-opacity="0.6" stroke-linejoin="round"/>
<path d="M863.1,1336.12 L863.39,1336.12 L868.74,1336.18 L874.38,1336.24 L970.56,1337.3 L976.49,1337.36 L987.18,1337.34 L993.12,1337.26 L1089.29,1335.84 L1094.93,1335.75 L1100.28,1335.68 L1100.57,1335.67" fill="none" stroke="#c8c8c8" stroke-width="1.45" stroke-opacity="0.6" stroke-linejoin="round"/>
<path d="M1101.92,1336.04 L1102.17,1336.03 L1106.55,1335.97 L1111.17,1335.9 L1190.05,1334.7 L1194.91,1334.63 L1203.68,1334.58 L1208.55,1334.6 L1287.42,1334.99 L1292.04,1335.02 L1296.42,1335.04 L1296.67,1335.04" fill="none" stroke="#b5b5b5" stroke-width="1.73" stroke-opacity="0.6" stroke-linejoin="round"/>
<path d="M796.74,1343.15 L797.02,1343.15 L802.06,1343.11 L807.37,1343.07 L898.02,1342.43 L903.62,1342.39 L913.69,1342.4 L919.28,1342.45 L1009.93,1343.26 L1015.25,1343.31 L1020.28,1343.36 L1020.56,1343.36" fill="none" stroke="#c0c0c0" stroke-width="2.39" stroke-opacity="0.6" stroke-linejoin="round"/>
<path d="M1042.2,1342.54 L1042.38,1342.54 L1045.66,1342.5 L1049.13,1342.45 L1108.23,1341.69 L1111.88,1341.65 L1118.44,1341.64 L1122.09,1341.67 L1181.19,1342.22 L1184.65,1342.26 L1187.94,1342.29 L1188.12,1342.29" fill="none" stroke="#a0a0a0" stroke-width="1.96" stroke-opacity="0.6" stroke-linejoin="round"/>
<path d="M1225.76,1343.39 L1226.08,1343.39 L1231.75,1343.37 L1237.73,1343.34 L1339.8,1342.87 L1346.1,1342.85 L1357.44,1342.84 L1363.74,1342.85 L1465.8,1343.14 L1471.79,1343.15 L1477.46,1343.17 L1477.77,1343.17" fill="none" stroke="#cdcdcd" stroke-width="2.15" stroke-opacity="0.6" stroke-linejoin="round"/>
<path d="M846.93,1348.82 L847.3,1348.82 L853.98,1348.76 L861.04,1348.69 L981.34,1347.6 L988.77,1347.54 L1002.14,1347.58 L1009.56,1347.68 L1129.87,1349.52 L1136.92,1349.62 L1143.6,1349.73 L1143.97,1349.73" fill="none" stroke="#afafaf" stroke-width="2.16" stroke-opacity="0.6" stroke-linejoin="round"/>
<path d="M1156.92,1346.89 L1157.35,1346.89 L1165.12,1346.85 L1173.31,1346.82 L1313.02,1346.21 L1321.64,1346.17 L1337.17,1346.17 L1345.79,1346.21 L1485.5,1346.8 L1493.69,1346.84 L1501.45,1346.87 L1501.88,1346.87" fill="none" stroke="#eaeaea" stroke-width="2.6" stroke-opacity="0.6" stroke-linejoin="round"/>
<path d="M856.74,1353.51 L856.82,1353.51 L858.24,1353.5 L859.75,1353.49 L885.44,1353.35 L887.03,1353.34 L889.89,1353.31 L891.47,1353.28 L917.17,1352.85 L918.67,1352.82 L920.1,1352.8 L920.18,1352.79" fill="none" stroke="#c1c1c1" stroke-width="1.23" stroke-opacity="0.6" stroke-linejoin="round"/>
<path d="M952.29,1353.33 L952.52,1353.33 L956.62,1353.36 L960.94,1353.38 L1034.65,1353.83 L1039.2,1353.86 L1047.39,1353.9 L1051.94,1353.91 L1125.66,1354.11 L1129.98,1354.12 L1134.07,1354.13 L1134.3,1354.13" fill="none" stroke="#c8c8c8" stroke-width="2.36" stroke-opacity="0.6" stroke-linejoin="round"/>
<path d="M1163.39,1352.17 L1163.58,1352.17 L1166.99,1352.22 L1170.59,1352.27 L1232.02,1353.14 L1235.81,1353.19 L1242.63,1353.15 L1246.42,1353.06 L1307.85,1351.47 L1311.45,1351.37 L1314.86,1351.28 L1315.05,1351.28" fill="none" stroke="#a8a8a8" stroke-width="2" stroke-opacity="0.6" stroke-linejoin="round"/>
<path d="M849.09,1360.24 L849.3,1360.24 L853.25,1360.29 L857.42,1360.33 L928.45,1361.16 L932.84,1361.2 L940.73,1361.16 L945.12,1361.07 L1016.15,1359.5 L1020.32,1359.41 L1024.26,1359.32 L1024.48,1359.32" fill="none" stroke="#f9f9f9" stroke-width="2.22" stroke-opacity="0.6" stroke-linejoin="round"/>
<path d="M1042.52,1360.39 L1042.73,1360.39 L1046.57,1360.45 L1050.62,1360.51 L1119.65,1361.51 L1123.91,1361.56 L1131.58,1361.58 L1135.84,1361.55 L1204.87,1360.94 L1208.92,1360.9 L1212.75,1360.87 L1212.96,1360.87" fill="none" stroke="#ececec" stroke-width="2.47" stroke-opacity="0.6" stroke-linejoin="round"/>
<path d="M1230.09,1359.55 L1230.36,1359.54 L1235.24,1359.49 L1240.39,1359.44 L1328.21,1358.56 L1333.63,1358.51 L1343.38,1358.52 L1348.8,1358.58 L1436.62,1359.6 L1441.77,1359.66 L1446.65,1359.71 L1446.92,1359.72" fill="none" stroke="#e8e8e8" stroke-width="2.42" stroke-opacity="0.6" stroke-linejoin="round"/>
<path d="M849.89,1366.56 L850.04,1366.56 L852.71,1366.55 L855.52,1366.54 L903.55,1366.35 L906.51,1366.34 L911.85,1366.32 L914.81,1366.31 L962.83,1366.2 L965.65,1366.2 L968.32,1366.19 L968.47,1366.19" fill="none" stroke="#bababa" stroke-width="1.58" stroke-opacity="0.6" stroke-linejoin="round"/>
<path d="M986.08,1364.24 L986.4,1364.24 L992.04,1364.21 L998,1364.17 L1099.62,1363.5 L1105.89,1363.46 L1117.18,1363.44 L1123.46,1363.46 L1225.07,1363.73 L1231.03,1363.75 L1236.68,1363.76 L1236.99,1363.76" fill="none" stroke="#bababa" stroke-width="2.47" stroke-opacity="0.6" stroke-linejoin="round"/>
<path d="M1243.77,1366.04 L1244.12,1366.04 L1250.33,1366.01 L1256.89,1365.98 L1368.75,1365.41 L1375.66,1365.38 L1388.09,1365.4 L1394.99,1365.46 L1506.86,1366.48 L1513.42,1366.54 L1519.63,1366.6 L1519.98,1366.6" fill="none" stroke="#a1a1a1" stroke-width="1.8" stroke-opacity="0.6" stroke-linejoin="round"/>
<path d="M808.01,1370.12 L808.28,1370.12 L813.06,1370.15 L818.11,1370.18 L904.21,1370.64 L909.52,1370.67 L919.09,1370.66 L924.4,1370.64 L1010.5,1370.14 L1015.55,1370.11 L1020.34,1370.09 L1020.6,1370.09" fill="none" stroke="#c9c9c9" stroke-width="1.29" stroke-opacity="0.6" stroke-linejoin="round"/>
<path d="M1044.64,1370.71 L1044.82,1370.71 L1048.06,1370.75 L1051.48,1370.79 L1109.85,1371.45 L1113.45,1371.49 L1119.93,1371.46 L1123.53,1371.38 L1181.9,1370.1 L1185.32,1370.03 L1188.56,1369.96 L1188.74,1369.95" fill="none" stroke="#efefef" stroke-width="2.19" stroke-opacity="0.6" stroke-linejoin="round"/>
<path d="M1213.16,1370.72 L1213.54,1370.72 L1220.41,1370.73 L1227.66,1370.74 L1351.3,1370.97 L1358.93,1370.98 L1372.67,1371.01 L1380.3,1371.02 L1503.93,1371.23 L1511.18,1371.24 L1518.05,1371.25 L1518.43,1371.25" fill="none" stroke="#f3f3f3" stroke-width="1.57" stroke-opacity="0.6" stroke-linejoin="round"/>
<path d="M880,1326.03 L880.17,1326 L883.28,1325.48 L886.56,1324.94 L942.53,1315.61 L945.98,1315.07 L952.2,1314.76 L955.66,1314.95 L1011.62,1318.68 L1015.08,1318.9 L1021.29,1319 L1024.75,1318.9 L1080.71,1317.04 L1084.11,1316.95 L1089.29,1317.21 L1091.65,1317.59 L1128.96,1324.11 L1131.3,1324.49 L1135.96,1324.75 L1138.81,1324.66 L1185.45,1322.8 L1188.35,1322.66 L1194.05,1322.15 L1197.48,1321.7 L1253.45,1314.24 L1256.73,1313.8 L1259.84,1313.39 L1260.01,1313.36" fill="none" stroke="#ffffff" stroke-width="4.5" stroke-opacity="1" stroke-linejoin="round"/>
</g></g>
<g clip-path="url(#el3_1)"><g filter="url(#ef3_1)">
<rect x="888.2" y="1272.7" width="367.3" height="362.1" fill="#282828"/>
<path d="M880,1378.85 L880.09,1378.82 L881.64,1378.19 L883.28,1377.54 L911.26,1366.35 L912.99,1365.67 L916.1,1364.74 L917.83,1364.38 L945.81,1358.78 L947.5,1358.46 L949.88,1358.36 L950.84,1358.56 L965.77,1362.29 L966.7,1362.54 L968.57,1363.27 L969.71,1363.82 L988.36,1373.15 L989.52,1373.69 L991.8,1374 L993.17,1373.81 L1015.56,1370.08 L1016.93,1369.83 L1019.21,1369.1 L1020.37,1368.54 L1039.03,1359.22 L1040.24,1358.66 L1043.35,1358.04 L1045.59,1357.9 L1082.9,1356.04 L1085.15,1355.96 L1088.26,1356.37 L1089.47,1356.91 L1108.12,1366.24 L1109.27,1366.82 L1111.35,1367.85 L1112.5,1368.43 L1131.15,1377.76 L1132.33,1378.28 L1134.92,1378.38 L1136.62,1377.98 L1164.6,1370.51 L1166.33,1370.05 L1169.44,1369.11 L1171.17,1368.54 L1199.15,1359.22 L1200.85,1358.67 L1203.44,1358.15 L1204.62,1358.12 L1223.27,1358.12 L1224.46,1358.15 L1227.05,1358.67 L1228.74,1359.22 L1256.73,1368.54 L1258.37,1369.09 L1259.92,1369.61 L1260.01,1369.64" fill="none" stroke="#c8c8c8" stroke-width="2.4" stroke-opacity="0.8" stroke-linejoin="round"/>
<path d="M880,1431.97 L880.18,1432.03 L883.39,1433.12 L886.78,1434.27 L944.61,1453.86 L948.12,1454.94 L953.41,1454.78 L955.77,1453.53 L993.08,1431.14 L995.32,1429.85 L998.33,1428.97 L999.43,1429.28 L1016.22,1435.81 L1017.22,1436.19 L1018.57,1436.51 L1019.06,1436.47 L1026.52,1435.54 L1027.12,1435.54 L1030.44,1436.53 L1033.52,1437.62 L1085.76,1456.27 L1088.98,1457.3 L1094.79,1457.25 L1098.01,1456.16 L1150.24,1436.57 L1153.32,1435.45 L1156.54,1434.72 L1157.03,1435.04 L1162.62,1441.57 L1163.1,1441.99 L1166.11,1442.97 L1168.97,1443.65 L1217.47,1454.84 L1220.41,1455.45 L1224.76,1455.14 L1226.66,1454.19 L1256.51,1437.4 L1258.26,1436.41 L1259.92,1435.48 L1260.01,1435.43" fill="none" stroke="#ebebeb" stroke-width="3" stroke-opacity="0.95" stroke-linejoin="round"/>
<path d="M880,1437.97 L880.18,1438.03 L883.39,1439.12 L886.78,1440.27 L944.61,1459.86 L948.12,1460.94 L953.41,1460.78 L955.77,1459.53 L993.08,1437.14 L995.32,1435.85 L998.33,1434.97 L999.43,1435.28 L1016.22,1441.81 L1017.22,1442.19 L1018.57,1442.51 L1019.06,1442.47 L1026.52,1441.54 L1027.12,1441.54 L1030.44,1442.53 L1033.52,1443.62 L1085.76,1462.27 L1088.98,1463.3 L1094.79,1463.25 L1098.01,1462.16 L1150.24,1442.57 L1153.32,1441.45 L1156.54,1440.72 L1157.03,1441.04 L1162.62,1447.57 L1163.1,1447.99 L1166.11,1448.97 L1168.97,1449.65 L1217.47,1460.84 L1220.41,1461.45 L1224.76,1461.14 L1226.66,1460.19 L1256.51,1443.4 L1258.26,1442.41 L1259.92,1441.48 L1260.01,1441.43" fill="none" stroke="#969696" stroke-width="2" stroke-opacity="0.8" stroke-linejoin="round"/>
<path d="M880,1442.97 L880.18,1443.03 L883.39,1444.12 L886.78,1445.27 L944.61,1464.86 L948.12,1465.94 L953.41,1465.78 L955.77,1464.53 L993.08,1442.14 L995.32,1440.85 L998.33,1439.97 L999.43,1440.28 L1016.22,1446.81 L1017.22,1447.19 L1018.57,1447.51 L1019.06,1447.47 L1026.52,1446.54 L1027.12,1446.54 L1030.44,1447.53 L1033.52,1448.62 L1085.76,1467.27 L1088.98,1468.3 L1094.79,1468.25 L1098.01,1467.16 L1150.24,1447.57 L1153.32,1446.45 L1156.54,1445.72 L1157.03,1446.04 L1162.62,1452.57 L1163.1,1452.99 L1166.11,1453.97 L1168.97,1454.65 L1217.47,1465.84 L1220.41,1466.45 L1224.76,1466.14 L1226.66,1465.19 L1256.51,1448.4 L1258.26,1447.41 L1259.92,1446.48 L1260.01,1446.43" fill="none" stroke="#bebebe" stroke-width="2" stroke-opacity="0.8" stroke-linejoin="round"/>
<path d="M880,1448.97 L880.18,1449.03 L883.39,1450.12 L886.78,1451.27 L944.61,1470.86 L948.12,1471.94 L953.41,1471.78 L955.77,1470.53 L993.08,1448.14 L995.32,1446.85 L998.33,1445.97 L999.43,1446.28 L1016.22,1452.81 L1017.22,1453.19 L1018.57,1453.51 L1019.06,1453.47 L1026.52,1452.54 L1027.12,1452.54 L1030.44,1453.53 L1033.52,1454.62 L1085.76,1473.27 L1088.98,1474.3 L1094.79,1474.25 L1098.01,1473.16 L1150.24,1453.57 L1153.32,1452.45 L1156.54,1451.72 L1157.03,1452.04 L1162.62,1458.57 L1163.1,1458.99 L1166.11,1459.97 L1168.97,1460.65 L1217.47,1471.84 L1220.41,1472.45 L1224.76,1472.14 L1226.66,1471.19 L1256.51,1454.4 L1258.26,1453.41 L1259.92,1452.48 L1260.01,1452.43" fill="none" stroke="#6e6e6e" stroke-width="1.6" stroke-opacity="0.7" stroke-linejoin="round"/>
<path d="M880,1473.43 L880.18,1473.5 L883.39,1474.74 L886.78,1476.05 L944.61,1498.44 L948.1,1499.68 L953.08,1499.52 L955.12,1498.11 L986.83,1472.93 L988.76,1471.46 L991.76,1470.16 L993.17,1470.19 L1015.56,1472.06 L1017.06,1472.24 L1021.73,1473.58 L1025.41,1474.9 L1086.97,1497.29 L1090.67,1498.56 L1095.86,1498.97 L1097.91,1498.16 L1129.62,1483.24 L1131.55,1482.36 L1134.55,1481.43 L1135.96,1481.27 L1158.35,1479.41 L1159.78,1479.36 L1163.2,1480.4 L1165.57,1481.59 L1204.75,1502.11 L1207.08,1503.31 L1209.99,1504.35 L1210.87,1504.3 L1223.93,1502.44 L1224.78,1502.26 L1227.06,1500.97 L1228.74,1499.7 L1256.73,1478.25 L1258.37,1476.99 L1259.92,1475.8 L1260.01,1475.73" fill="none" stroke="#e1e1e1" stroke-width="2.8" stroke-opacity="0.9" stroke-linejoin="round"/>
<path d="M880,1479.43 L880.18,1479.5 L883.39,1480.74 L886.78,1482.05 L944.61,1504.44 L948.1,1505.68 L953.08,1505.52 L955.12,1504.11 L986.83,1478.93 L988.76,1477.46 L991.76,1476.16 L993.17,1476.19 L1015.56,1478.06 L1017.06,1478.24 L1021.73,1479.58 L1025.41,1480.9 L1086.97,1503.29 L1090.67,1504.56 L1095.86,1504.97 L1097.91,1504.16 L1129.62,1489.24 L1131.55,1488.36 L1134.55,1487.43 L1135.96,1487.27 L1158.35,1485.41 L1159.78,1485.36 L1163.2,1486.4 L1165.57,1487.59 L1204.75,1508.11 L1207.08,1509.31 L1209.99,1510.35 L1210.87,1510.3 L1223.93,1508.44 L1224.78,1508.26 L1227.06,1506.97 L1228.74,1505.7 L1256.73,1484.25 L1258.37,1482.99 L1259.92,1481.8 L1260.01,1481.73" fill="none" stroke="#6e6e6e" stroke-width="1.6" stroke-opacity="0.7" stroke-linejoin="round"/>
<path d="M880,1467.43 L880.18,1467.5 L883.39,1468.74 L886.78,1470.05 L944.61,1492.44 L948.1,1493.68 L953.08,1493.52 L955.12,1492.11 L986.83,1466.93 L988.76,1465.46 L991.76,1464.16 L993.17,1464.19 L1015.56,1466.06 L1017.06,1466.24 L1021.73,1467.58 L1025.41,1468.9 L1086.97,1491.29 L1090.67,1492.56 L1095.86,1492.97 L1097.91,1492.16 L1129.62,1477.24 L1131.55,1476.36 L1134.55,1475.43 L1135.96,1475.27 L1158.35,1473.41 L1159.78,1473.36 L1163.2,1474.4 L1165.57,1475.59 L1204.75,1496.11 L1207.08,1497.31 L1209.99,1498.35 L1210.87,1498.3 L1223.93,1496.44 L1224.78,1496.26 L1227.06,1494.97 L1228.74,1493.7 L1256.73,1472.25 L1258.37,1470.99 L1259.92,1469.8 L1260.01,1469.73" fill="none" stroke="#787878" stroke-width="1.6" stroke-opacity="0.6" stroke-linejoin="round"/>
</g></g>
<g clip-path="url(#el3_2)"><g filter="url(#ef3_2)">
<rect x="888.2" y="1272.7" width="367.3" height="362.1" fill="url(#eg3_2)"/>
<path d="M880,1513.73 L880.58,1513.83 L885.85,1514.68 L891.69,1515.62 L939.7,1523.36 L945.87,1524.18 L954.02,1523.84 L957.81,1522.61 L984.13,1511.77 L987.6,1510.43 L992.87,1509.07 L995.83,1508.75 L1017.51,1507.2 L1020.73,1507.17 L1028.38,1508.45 L1034.49,1510.03 L1082.49,1523.19 L1088.66,1524.7 L1096.82,1525.3 L1100.6,1524.51 L1126.93,1516.77 L1130.38,1515.82 L1135.47,1514.88 L1138.24,1514.7 L1158.38,1513.92 L1161.29,1513.96 L1167.75,1515.06 L1172.71,1516.37 L1211.43,1527.21 L1216.46,1528.43 L1223.6,1528.69 L1227.27,1527.78 L1253.6,1519.26 L1256.8,1518.23 L1259.69,1517.29 L1260.01,1517.19 L1260.01,1521.19 L1259.69,1521.29 L1256.8,1522.23 L1253.6,1523.26 L1227.27,1531.78 L1223.6,1532.69 L1216.46,1532.43 L1211.43,1531.21 L1172.71,1520.37 L1167.75,1519.06 L1161.29,1517.96 L1158.38,1517.92 L1138.24,1518.7 L1135.47,1518.88 L1130.38,1519.82 L1126.93,1520.77 L1100.6,1528.51 L1096.82,1529.3 L1088.66,1528.7 L1082.49,1527.19 L1034.49,1514.03 L1028.38,1512.45 L1020.73,1511.17 L1017.51,1511.2 L995.83,1512.75 L992.87,1513.07 L987.6,1514.43 L984.13,1515.77 L957.81,1526.61 L954.02,1527.84 L945.87,1528.18 L939.7,1527.36 L891.69,1519.62 L885.85,1518.68 L880.58,1517.83 L880,1517.73 Z" fill="#fafafa" fill-opacity="1"/>
<path d="M880,1517.73 L880.58,1517.83 L885.85,1518.68 L891.69,1519.62 L939.7,1527.36 L945.87,1528.18 L954.02,1527.84 L957.81,1526.61 L984.13,1515.77 L987.6,1514.43 L992.87,1513.07 L995.83,1512.75 L1017.51,1511.2 L1020.73,1511.17 L1028.38,1512.45 L1034.49,1514.03 L1082.49,1527.19 L1088.66,1528.7 L1096.82,1529.3 L1100.6,1528.51 L1126.93,1520.77 L1130.38,1519.82 L1135.47,1518.88 L1138.24,1518.7 L1158.38,1517.92 L1161.29,1517.96 L1167.75,1519.06 L1172.71,1520.37 L1211.43,1531.21 L1216.46,1532.43 L1223.6,1532.69 L1227.27,1531.78 L1253.6,1523.26 L1256.8,1522.23 L1259.69,1521.29 L1260.01,1521.19 L1260.01,1524.69 L1259.69,1524.79 L1256.8,1525.73 L1253.6,1526.76 L1227.27,1535.28 L1223.6,1536.19 L1216.46,1535.93 L1211.43,1534.71 L1172.71,1523.87 L1167.75,1522.56 L1161.29,1521.46 L1158.38,1521.42 L1138.24,1522.2 L1135.47,1522.38 L1130.38,1523.32 L1126.93,1524.27 L1100.6,1532.01 L1096.82,1532.8 L1088.66,1532.2 L1082.49,1530.69 L1034.49,1517.53 L1028.38,1515.95 L1020.73,1514.67 L1017.51,1514.7 L995.83,1516.25 L992.87,1516.57 L987.6,1517.93 L984.13,1519.27 L957.81,1530.11 L954.02,1531.34 L945.87,1531.68 L939.7,1530.86 L891.69,1523.12 L885.85,1522.18 L880.58,1521.33 L880,1521.23 Z" fill="#1e1e1e" fill-opacity="1"/>
<path d="M880,1521.23 L880.58,1521.33 L885.85,1522.18 L891.69,1523.12 L939.7,1530.86 L945.87,1531.68 L954.02,1531.34 L957.81,1530.11 L984.13,1519.27 L987.6,1517.93 L992.87,1516.57 L995.83,1516.25 L1017.51,1514.7 L1020.73,1514.67 L1028.38,1515.95 L1034.49,1517.53 L1082.49,1530.69 L1088.66,1532.2 L1096.82,1532.8 L1100.6,1532.01 L1126.93,1524.27 L1130.38,1523.32 L1135.47,1522.38 L1138.24,1522.2 L1158.38,1521.42 L1161.29,1521.46 L1167.75,1522.56 L1172.71,1523.87 L1211.43,1534.71 L1216.46,1535.93 L1223.6,1536.19 L1227.27,1535.28 L1253.6,1526.76 L1256.8,1525.73 L1259.69,1524.79 L1260.01,1524.69 L1260.01,1559.19 L1259.69,1559.29 L1256.8,1560.23 L1253.6,1561.26 L1227.27,1569.78 L1223.6,1570.69 L1216.46,1570.43 L1211.43,1569.21 L1172.71,1558.37 L1167.75,1557.06 L1161.29,1555.96 L1158.38,1555.92 L1138.24,1556.7 L1135.47,1556.88 L1130.38,1557.82 L1126.93,1558.77 L1100.6,1566.51 L1096.82,1567.3 L1088.66,1566.7 L1082.49,1565.19 L1034.49,1552.03 L1028.38,1550.45 L1020.73,1549.17 L1017.51,1549.2 L995.83,1550.75 L992.87,1551.07 L987.6,1552.43 L984.13,1553.77 L957.81,1564.61 L954.02,1565.84 L945.87,1566.18 L939.7,1565.36 L891.69,1557.62 L885.85,1556.68 L880.58,1555.83 L880,1555.73 Z" fill="#fcfcfc" fill-opacity="1"/>
<path d="M880,1558.37 L880.18,1558.39 L883.39,1558.86 L886.78,1559.36 L944.61,1567.81 L948.1,1568.27 L953.08,1568.05 L955.12,1567.34 L986.83,1554.89 L988.77,1554.16 L991.98,1553.38 L993.61,1553.26 L1019.73,1551.78 L1021.44,1551.74 L1026.1,1552.54 L1029.57,1553.47 L1087.4,1569.35 L1090.89,1570.25 L1095.87,1570.55 L1097.91,1569.99 L1129.62,1559.49 L1131.55,1558.87 L1134.66,1558.28 L1136.18,1558.24 L1160.44,1558.06 L1162,1558.09 L1165.94,1558.8 L1168.75,1559.56 L1215.39,1572.56 L1218.22,1573.29 L1222.57,1573.44 L1224.58,1572.86 L1256.29,1562.42 L1258.15,1561.81 L1259.91,1561.23 L1260.01,1561.19" fill="none" stroke="#bababa" stroke-width="2.76" stroke-opacity="0.7" stroke-linejoin="round"/>
<path d="M880,1565.52 L880.18,1565.55 L883.39,1566.04 L886.78,1566.55 L944.61,1575.38 L948.1,1575.86 L953.08,1575.59 L955.12,1574.82 L986.83,1561.22 L988.77,1560.42 L991.98,1559.56 L993.61,1559.41 L1019.73,1557.56 L1021.44,1557.5 L1026.1,1558.29 L1029.57,1559.24 L1087.4,1575.4 L1090.89,1576.31 L1095.87,1576.65 L1097.91,1576.11 L1129.62,1566.07 L1131.55,1565.48 L1134.66,1564.92 L1136.18,1564.88 L1160.44,1564.85 L1162,1564.89 L1165.94,1565.63 L1168.75,1566.4 L1215.39,1579.67 L1218.22,1580.41 L1222.57,1580.55 L1224.58,1579.96 L1256.29,1569.2 L1258.15,1568.57 L1259.91,1567.97 L1260.01,1567.94" fill="none" stroke="#b3b3b3" stroke-width="2.39" stroke-opacity="0.7" stroke-linejoin="round"/>
<path d="M880,1571.53 L880.18,1571.56 L883.39,1572.03 L886.78,1572.52 L944.61,1580.93 L948.1,1581.39 L953.08,1581.12 L955.12,1580.38 L986.83,1567.22 L988.77,1566.45 L991.98,1565.7 L993.61,1565.63 L1019.73,1565.27 L1021.44,1565.29 L1026.1,1566.09 L1029.57,1566.95 L1087.4,1581.68 L1090.89,1582.51 L1095.87,1582.81 L1097.91,1582.3 L1129.62,1572.86 L1131.55,1572.3 L1134.66,1571.79 L1136.18,1571.77 L1160.44,1571.94 L1162,1571.99 L1165.94,1572.72 L1168.75,1573.47 L1215.39,1586.29 L1218.22,1587.01 L1222.57,1587.09 L1224.58,1586.47 L1256.29,1575.2 L1258.15,1574.53 L1259.91,1573.91 L1260.01,1573.87" fill="none" stroke="#efefef" stroke-width="2.61" stroke-opacity="0.7" stroke-linejoin="round"/>
<path d="M880,1575.15 L880.18,1575.18 L883.39,1575.75 L886.78,1576.34 L944.61,1586.51 L948.1,1587.06 L953.08,1586.88 L955.12,1586.13 L986.83,1572.71 L988.77,1571.92 L991.98,1571.08 L993.61,1570.94 L1019.73,1569.22 L1021.44,1569.16 L1026.1,1569.93 L1029.57,1570.84 L1087.4,1586.35 L1090.89,1587.24 L1095.87,1587.57 L1097.91,1587.07 L1129.62,1577.62 L1131.55,1577.06 L1134.66,1576.48 L1136.18,1576.38 L1160.44,1575.33 L1162,1575.31 L1165.94,1576.05 L1168.75,1576.89 L1215.39,1591.31 L1218.22,1592.13 L1222.57,1592.35 L1224.58,1591.78 L1256.29,1581.31 L1258.15,1580.7 L1259.91,1580.12 L1260.01,1580.09" fill="none" stroke="#888888" stroke-width="2.05" stroke-opacity="0.7" stroke-linejoin="round"/>
<path d="M880,1581.05 L880.18,1581.08 L883.39,1581.62 L886.78,1582.19 L944.61,1591.83 L948.1,1592.36 L953.08,1592.14 L955.12,1591.38 L986.83,1577.91 L988.77,1577.11 L991.98,1576.28 L993.61,1576.15 L1019.73,1574.63 L1021.44,1574.59 L1026.1,1575.38 L1029.57,1576.3 L1087.4,1592.04 L1090.89,1592.94 L1095.87,1593.29 L1097.91,1592.79 L1129.62,1583.45 L1131.55,1582.9 L1134.66,1582.37 L1136.18,1582.33 L1160.44,1582.14 L1162,1582.17 L1165.94,1582.87 L1168.75,1583.62 L1215.39,1596.36 L1218.22,1597.07 L1222.57,1597.21 L1224.58,1596.65 L1256.29,1586.42 L1258.15,1585.82 L1259.91,1585.25 L1260.01,1585.22" fill="none" stroke="#777777" stroke-width="1.8" stroke-opacity="0.7" stroke-linejoin="round"/>
<path d="M880,1586.51 L880.18,1586.53 L883.39,1587.03 L886.78,1587.55 L944.61,1596.5 L948.1,1596.98 L953.08,1596.79 L955.12,1596.09 L986.83,1583.7 L988.77,1582.97 L991.98,1582.17 L993.61,1582.01 L1019.73,1579.98 L1021.44,1579.91 L1026.1,1580.71 L1029.57,1581.67 L1087.4,1598.18 L1090.89,1599.12 L1095.87,1599.46 L1097.91,1598.9 L1129.62,1588.48 L1131.55,1587.87 L1134.66,1587.31 L1136.18,1587.3 L1160.44,1587.6 L1162,1587.65 L1165.94,1588.32 L1168.75,1589 L1215.39,1600.67 L1218.22,1601.33 L1222.57,1601.45 L1224.58,1600.94 L1256.29,1591.53 L1258.15,1590.98 L1259.91,1590.46 L1260.01,1590.43" fill="none" stroke="#b5b5b5" stroke-width="3.07" stroke-opacity="0.7" stroke-linejoin="round"/>
<path d="M880,1592.62 L880.18,1592.65 L883.39,1593.12 L886.78,1593.62 L944.61,1602.07 L948.1,1602.53 L953.08,1602.3 L955.12,1601.59 L986.83,1589.07 L988.77,1588.33 L991.98,1587.54 L993.61,1587.41 L1019.73,1585.73 L1021.44,1585.68 L1026.1,1586.42 L1029.57,1587.29 L1087.4,1602.2 L1090.89,1603.05 L1095.87,1603.37 L1097.91,1602.87 L1129.62,1593.63 L1131.55,1593.09 L1134.66,1592.57 L1136.18,1592.54 L1160.44,1592.44 L1162,1592.47 L1165.94,1593.2 L1168.75,1593.98 L1215.39,1607.25 L1218.22,1607.99 L1222.57,1608.13 L1224.58,1607.55 L1256.29,1596.85 L1258.15,1596.23 L1259.91,1595.63 L1260.01,1595.6" fill="none" stroke="#939393" stroke-width="3.28" stroke-opacity="0.7" stroke-linejoin="round"/>
</g></g>
</g>
<rect x="1170.6" y="1604.7" width="73.7" height="10.3" fill="#fff"/>
<path d="M888.2,1271.2 H1255.5 V1634.8 H888.2 Z M891.7,1276.2 V1631.3 H1252 V1276.2 Z" fill="#000" fill-rule="evenodd"/>
<g clip-path="url(#ec4)">
<rect x="1279.2" y="1280.5" width="363.4" height="349.3" fill="#444"/>
<g clip-path="url(#el4_0)"><g filter="url(#ef4_0)">
<rect x="1276.2" y="1277.5" width="369.4" height="355.3" fill="url(#eg4_0)"/>
<path d="M1237.9,1284.24 L1238.11,1284.24 L1241.92,1284.25 L1245.94,1284.26 L1314.47,1284.45 L1318.7,1284.46 L1326.31,1284.48 L1330.54,1284.49 L1399.08,1284.61 L1403.09,1284.61 L1406.9,1284.62 L1407.11,1284.62" fill="none" stroke="#a3a3a3" stroke-width="1.86" stroke-opacity="0.5" stroke-linejoin="round"/>
<path d="M1422.46,1283.84 L1422.85,1283.84 L1430.04,1283.87 L1437.63,1283.89 L1567.02,1284.28 L1575.01,1284.31 L1589.39,1284.34 L1597.37,1284.35 L1726.77,1284.5 L1734.35,1284.51 L1741.54,1284.52 L1741.94,1284.52" fill="none" stroke="#c4c4c4" stroke-width="1.73" stroke-opacity="0.5" stroke-linejoin="round"/>
<path d="M1203.68,1288.81 L1203.87,1288.81 L1207.25,1288.75 L1210.82,1288.69 L1271.67,1287.62 L1275.43,1287.56 L1282.19,1287.58 L1285.95,1287.67 L1346.8,1289.2 L1350.37,1289.29 L1353.75,1289.38 L1353.94,1289.38" fill="none" stroke="#cacaca" stroke-width="1.24" stroke-opacity="0.5" stroke-linejoin="round"/>
<path d="M1388.61,1289.13 L1389.05,1289.13 L1396.98,1289.16 L1405.35,1289.19 L1548.03,1289.76 L1556.84,1289.79 L1572.7,1289.75 L1581.5,1289.69 L1724.19,1288.52 L1732.56,1288.45 L1740.49,1288.38 L1740.93,1288.38" fill="none" stroke="#a7a7a7" stroke-width="2" stroke-opacity="0.5" stroke-linejoin="round"/>
<path d="M1207.11,1295.64 L1207.61,1295.64 L1216.47,1295.66 L1225.83,1295.68 L1385.4,1295.97 L1395.25,1295.98 L1412.98,1295.99 L1422.83,1295.99 L1582.4,1295.87 L1591.76,1295.87 L1600.62,1295.86 L1601.12,1295.86" fill="none" stroke="#9a9a9a" stroke-width="1.42" stroke-opacity="0.5" stroke-linejoin="round"/>
<path d="M1636.63,1295.13 L1637.07,1295.13 L1645.03,1295.15 L1653.44,1295.17 L1796.79,1295.58 L1805.64,1295.6 L1821.57,1295.6 L1830.42,1295.56 L1973.77,1295.01 L1982.18,1294.97 L1990.14,1294.94 L1990.59,1294.94" fill="none" stroke="#aeaeae" stroke-width="2" stroke-opacity="0.5" stroke-linejoin="round"/>
<path d="M1273.83,1303.06 L1274.01,1303.06 L1277.17,1303.05 L1280.51,1303.04 L1337.4,1302.86 L1340.92,1302.85 L1347.24,1302.87 L1350.75,1302.9 L1407.65,1303.48 L1410.98,1303.51 L1414.14,1303.55 L1414.32,1303.55" fill="none" stroke="#bbbbbb" stroke-width="1.85" stroke-opacity="0.5" stroke-linejoin="round"/>
<path d="M1449.53,1301.29 L1449.9,1301.29 L1456.58,1301.23 L1463.62,1301.17 L1583.71,1300.11 L1591.13,1300.05 L1604.47,1300.01 L1611.89,1300.02 L1731.98,1300.33 L1739.03,1300.35 L1745.7,1300.37 L1746.07,1300.37" fill="none" stroke="#b0b0b0" stroke-width="2.23" stroke-opacity="0.5" stroke-linejoin="round"/>
<path d="M1265.07,1310.79 L1265.44,1310.8 L1272.15,1310.82 L1279.23,1310.84 L1399.98,1311.22 L1407.43,1311.24 L1420.85,1311.26 L1428.31,1311.26 L1549.06,1311.29 L1556.14,1311.29 L1562.85,1311.29 L1563.22,1311.29" fill="none" stroke="#a0a0a0" stroke-width="1.93" stroke-opacity="0.5" stroke-linejoin="round"/>
<path d="M1579.95,1308.85 L1580.4,1308.85 L1588.37,1308.84 L1596.79,1308.84 L1740.37,1308.68 L1749.24,1308.68 L1765.19,1308.7 L1774.05,1308.73 L1917.64,1309.26 L1926.05,1309.29 L1934.03,1309.32 L1934.47,1309.32" fill="none" stroke="#e3e3e3" stroke-width="2.02" stroke-opacity="0.5" stroke-linejoin="round"/>
<path d="M1179.24,1316.54 L1179.47,1316.53 L1183.58,1316.5 L1187.92,1316.47 L1261.95,1315.93 L1266.52,1315.9 L1274.74,1315.94 L1279.31,1316.01 L1353.34,1317.19 L1357.68,1317.26 L1361.79,1317.33 L1362.02,1317.33" fill="none" stroke="#a7a7a7" stroke-width="1.59" stroke-opacity="0.5" stroke-linejoin="round"/>
<path d="M1399,1316.73 L1399.27,1316.73 L1404.09,1316.76 L1409.17,1316.8 L1495.81,1317.36 L1501.16,1317.39 L1510.79,1317.37 L1516.14,1317.31 L1602.79,1316.28 L1607.87,1316.22 L1612.68,1316.16 L1612.95,1316.16" fill="none" stroke="#dddddd" stroke-width="1.4" stroke-opacity="0.5" stroke-linejoin="round"/>
<path d="M1614.19,1314.67 L1614.38,1314.67 L1617.85,1314.63 L1621.51,1314.6 L1683.96,1313.96 L1687.81,1313.92 L1694.75,1313.93 L1698.61,1313.97 L1761.05,1314.72 L1764.71,1314.76 L1768.18,1314.8 L1768.38,1314.8" fill="none" stroke="#cbcbcb" stroke-width="1.39" stroke-opacity="0.5" stroke-linejoin="round"/>
<path d="M1208.39,1321.96 L1208.56,1321.96 L1211.61,1321.99 L1214.83,1322.02 L1269.73,1322.54 L1273.12,1322.57 L1279.22,1322.57 L1282.61,1322.55 L1337.51,1322.11 L1340.73,1322.09 L1343.78,1322.07 L1343.95,1322.06" fill="none" stroke="#e6e6e6" stroke-width="1.8" stroke-opacity="0.5" stroke-linejoin="round"/>
<path d="M1382.77,1320.25 L1383.23,1320.25 L1391.52,1320.27 L1400.26,1320.28 L1549.35,1320.5 L1558.55,1320.51 L1575.11,1320.55 L1584.32,1320.58 L1733.4,1321.08 L1742.15,1321.11 L1750.43,1321.13 L1750.89,1321.14" fill="none" stroke="#d8d8d8" stroke-width="1.97" stroke-opacity="0.5" stroke-linejoin="round"/>
</g></g>
<g clip-path="url(#el4_1)"><g filter="url(#ef4_1)">
<rect x="1276.2" y="1277.5" width="369.4" height="355.3" fill="url(#eg4_1)"/>
<path d="M1431.22,1367.49 L1431.3,1367.51 L1432.86,1367.87 L1434.5,1368.25 L1462.48,1374.78 L1464.17,1375.15 L1466.66,1375.2 L1467.73,1374.89 L1484.52,1369.3 L1485.51,1368.97 L1486.44,1368.66 L1486.49,1368.64" fill="none" stroke="#e6e6e6" stroke-width="2.4" stroke-opacity="0.9" stroke-linejoin="round"/>
</g></g>
<g clip-path="url(#el4_2)"><g filter="url(#ef4_2)">
<rect x="1276.2" y="1277.5" width="369.4" height="355.3" fill="#3e3e3e"/>
<path d="M1270,1476.88 L1316.06,1462.6" fill="none" stroke="#e6e6e6" stroke-width="2.6" stroke-opacity="0.9" stroke-linejoin="round"/>
<path d="M1380.55,1472.28 L1380.59,1472.29 L1381.42,1472.55 L1382.3,1472.82 L1397.22,1477.49 L1398.16,1477.75 L1400.02,1477.75 L1401.16,1477.49 L1419.82,1472.82 L1420.91,1472.55 L1421.95,1472.29 L1422,1472.28" fill="none" stroke="#f0f0f0" stroke-width="2.6" stroke-opacity="0.95" stroke-linejoin="round"/>
<path d="M1488.79,1463.07 L1488.9,1463.1 L1490.76,1463.72 L1492.73,1464.38 L1526.31,1475.57 L1528.34,1476.22 L1531.24,1476.69 L1532.44,1476.56 L1551.09,1473.76 L1552.28,1473.56 L1555.08,1472.73 L1557,1472.01 L1588.71,1459.88 L1590.57,1459.17 L1592.33,1458.5 L1592.43,1458.46" fill="none" stroke="#f0f0f0" stroke-width="2.8" stroke-opacity="0.95" stroke-linejoin="round"/>
<path d="M1617.77,1463.07 L1650.01,1471.13" fill="none" stroke="#c8c8c8" stroke-width="2.4" stroke-opacity="0.8" stroke-linejoin="round"/>
<path d="M1270,1494.34 L1270.12,1494.3 L1272.19,1493.52 L1274.38,1492.7 L1311.69,1478.71 L1313.95,1477.89 L1317.37,1477.22 L1318.91,1477.28 L1343.16,1479.15 L1344.71,1479.29 L1348.44,1479.96 L1351.03,1480.57 L1393.94,1490.83 L1396.54,1491.41 L1400.37,1491.62 L1402.04,1491.27 L1428.15,1484.74 L1429.83,1484.34 L1433.87,1483.67 L1436.69,1483.32 L1483.32,1477.72 L1486.16,1477.43 L1490.62,1477.74 L1492.73,1478.38 L1526.31,1489.57 L1528.34,1490.22 L1531.24,1490.69 L1532.44,1490.56 L1551.09,1487.76 L1552.28,1487.56 L1555.08,1486.73 L1557,1486.01 L1588.71,1473.88 L1590.64,1473.18 L1593.65,1472.77 L1595.06,1473.01 L1617.44,1477.67 L1618.83,1477.96 L1621.42,1478.59 L1622.91,1478.98 L1647.16,1485.51 L1648.59,1485.89 L1649.93,1486.26 L1650.01,1486.28" fill="none" stroke="#969696" stroke-width="1.8" stroke-opacity="0.7" stroke-linejoin="round"/>
<path d="M1270,1504.34 L1270.12,1504.3 L1272.19,1503.52 L1274.38,1502.7 L1311.69,1488.71 L1313.95,1487.89 L1317.37,1487.22 L1318.91,1487.28 L1343.16,1489.15 L1344.71,1489.29 L1348.44,1489.96 L1351.03,1490.57 L1393.94,1500.83 L1396.54,1501.41 L1400.37,1501.62 L1402.04,1501.27 L1428.15,1494.74 L1429.83,1494.34 L1433.87,1493.67 L1436.69,1493.32 L1483.32,1487.72 L1486.16,1487.43 L1490.62,1487.74 L1492.73,1488.38 L1526.31,1499.57 L1528.34,1500.22 L1531.24,1500.69 L1532.44,1500.56 L1551.09,1497.76 L1552.28,1497.56 L1555.08,1496.73 L1557,1496.01 L1588.71,1483.88 L1590.64,1483.18 L1593.65,1482.77 L1595.06,1483.01 L1617.44,1487.67 L1618.83,1487.96 L1621.42,1488.59 L1622.91,1488.98 L1647.16,1495.51 L1648.59,1495.89 L1649.93,1496.26 L1650.01,1496.28" fill="none" stroke="#828282" stroke-width="1.6" stroke-opacity="0.7" stroke-linejoin="round"/>
<path d="M1270,1514.34 L1270.12,1514.3 L1272.19,1513.52 L1274.38,1512.7 L1311.69,1498.71 L1313.95,1497.89 L1317.37,1497.22 L1318.91,1497.28 L1343.16,1499.15 L1344.71,1499.29 L1348.44,1499.96 L1351.03,1500.57 L1393.94,1510.83 L1396.54,1511.41 L1400.37,1511.62 L1402.04,1511.27 L1428.15,1504.74 L1429.83,1504.34 L1433.87,1503.67 L1436.69,1503.32 L1483.32,1497.72 L1486.16,1497.43 L1490.62,1497.74 L1492.73,1498.38 L1526.31,1509.57 L1528.34,1510.22 L1531.24,1510.69 L1532.44,1510.56 L1551.09,1507.76 L1552.28,1507.56 L1555.08,1506.73 L1557,1506.01 L1588.71,1493.88 L1590.64,1493.18 L1593.65,1492.77 L1595.06,1493.01 L1617.44,1497.67 L1618.83,1497.96 L1621.42,1498.59 L1622.91,1498.98 L1647.16,1505.51 L1648.59,1505.89 L1649.93,1506.26 L1650.01,1506.28" fill="none" stroke="#6e6e6e" stroke-width="1.6" stroke-opacity="0.6" stroke-linejoin="round"/>
</g></g>
<g clip-path="url(#el4_3)"><g filter="url(#ef4_3)">
<rect x="1276.2" y="1277.5" width="369.4" height="355.3" fill="url(#eg4_3)"/>
<path d="M1270,1531.01 L1270.56,1530.9 L1275.66,1529.97 L1281.32,1528.93 L1327.78,1520.41 L1333.66,1519.4 L1340.8,1518.63 L1343.62,1518.72 L1362.2,1520.27 L1364.84,1520.53 L1370.28,1521.38 L1374.27,1522.15 L1405.25,1528.35 L1409.41,1528.97 L1416.38,1528.46 L1420.71,1527.21 L1453.23,1516.37 L1457.42,1515.07 L1463.03,1514.05 L1465.68,1514.11 L1484.27,1515.66 L1487,1515.96 L1493.28,1517.15 L1498.22,1518.3 L1536.94,1527.59 L1542.07,1528.63 L1550.05,1528.8 L1554.67,1527.97 L1588.74,1520.23 L1593.32,1519.3 L1600.97,1518.66 L1605.71,1518.79 L1641.33,1520.65 L1645.67,1520.88 L1649.58,1521.08 L1650.01,1521.1 L1650.01,1548.1 L1649.58,1548.08 L1645.67,1547.88 L1641.33,1547.65 L1605.71,1545.79 L1600.97,1545.66 L1593.32,1546.3 L1588.74,1547.23 L1554.67,1554.97 L1550.05,1555.8 L1542.07,1555.63 L1536.94,1554.59 L1498.22,1545.3 L1493.28,1544.15 L1487,1542.96 L1484.27,1542.66 L1465.68,1541.11 L1463.03,1541.05 L1457.42,1542.07 L1453.23,1543.37 L1420.71,1554.21 L1416.38,1555.46 L1409.41,1555.97 L1405.25,1555.35 L1374.27,1549.15 L1370.28,1548.38 L1364.84,1547.53 L1362.2,1547.27 L1343.62,1545.72 L1340.8,1545.63 L1333.66,1546.4 L1327.78,1547.41 L1281.32,1555.93 L1275.66,1556.97 L1270.56,1557.9 L1270,1558.01 Z" fill="#ffffff" fill-opacity="1"/>
<path d="M1270,1560.29 L1270.17,1560.26 L1273.28,1559.72 L1276.56,1559.15 L1332.53,1549.41 L1335.88,1548.84 L1340.23,1548.42 L1341.72,1548.52 L1364.1,1550.73 L1365.53,1550.88 L1368.85,1551.43 L1371.11,1551.88 L1408.42,1559.54 L1410.72,1559.95 L1414.97,1559.62 L1417.39,1558.84 L1456.56,1545.24 L1458.93,1544.44 L1462.35,1543.8 L1463.78,1543.87 L1486.17,1545.81 L1487.62,1545.95 L1491.46,1546.64 L1494.26,1547.25 L1540.9,1557.67 L1543.76,1558.26 L1548.63,1558.35 L1551.18,1557.88 L1592.22,1549.22 L1594.76,1548.72 L1599.43,1548.36 L1602.07,1548.46 L1644.98,1550.6 L1647.49,1550.72 L1649.88,1550.84 L1650.01,1550.85" fill="none" stroke="#7d7d7d" stroke-width="2.54" stroke-opacity="0.6" stroke-linejoin="round"/>
<path d="M1270,1567.43 L1270.17,1567.4 L1273.28,1566.81 L1276.56,1566.18 L1332.53,1555.5 L1335.88,1554.88 L1340.23,1554.46 L1341.72,1554.6 L1364.1,1557.55 L1365.53,1557.75 L1368.85,1558.33 L1371.11,1558.77 L1408.42,1566.18 L1410.72,1566.58 L1414.97,1566.22 L1417.39,1565.44 L1456.56,1551.66 L1458.93,1550.85 L1462.35,1550.17 L1463.78,1550.21 L1486.17,1551.62 L1487.62,1551.74 L1491.46,1552.48 L1494.26,1553.18 L1540.9,1565.04 L1543.76,1565.71 L1548.63,1565.85 L1551.18,1565.34 L1592.22,1555.99 L1594.76,1555.45 L1599.43,1555.07 L1602.07,1555.2 L1644.98,1557.89 L1647.49,1558.05 L1649.88,1558.2 L1650.01,1558.2" fill="none" stroke="#bfbfbf" stroke-width="2.63" stroke-opacity="0.6" stroke-linejoin="round"/>
<path d="M1270,1573.11 L1270.17,1573.08 L1273.28,1572.48 L1276.56,1571.84 L1332.53,1561.05 L1335.88,1560.42 L1340.23,1559.93 L1341.72,1560.01 L1364.1,1561.89 L1365.53,1562.03 L1368.85,1562.63 L1371.11,1563.16 L1408.42,1572.04 L1410.72,1572.53 L1414.97,1572.28 L1417.39,1571.54 L1456.56,1558.31 L1458.93,1557.54 L1462.35,1556.86 L1463.78,1556.88 L1486.17,1557.86 L1487.62,1557.96 L1491.46,1558.69 L1494.26,1559.4 L1540.9,1571.56 L1543.76,1572.24 L1548.63,1572.36 L1551.18,1571.82 L1592.22,1561.9 L1594.76,1561.32 L1599.43,1560.85 L1602.07,1560.92 L1644.98,1562.47 L1647.49,1562.57 L1649.88,1562.65 L1650.01,1562.66" fill="none" stroke="#bababa" stroke-width="2.36" stroke-opacity="0.6" stroke-linejoin="round"/>
<path d="M1270,1580.28 L1270.17,1580.25 L1273.28,1579.62 L1276.56,1578.97 L1332.53,1567.76 L1335.88,1567.11 L1340.23,1566.64 L1341.72,1566.76 L1364.1,1569.48 L1365.53,1569.67 L1368.85,1570.25 L1371.11,1570.71 L1408.42,1578.44 L1410.72,1578.85 L1414.97,1578.57 L1417.39,1577.83 L1456.56,1564.96 L1458.93,1564.2 L1462.35,1563.54 L1463.78,1563.56 L1486.17,1564.5 L1487.62,1564.59 L1491.46,1565.29 L1494.26,1565.96 L1540.9,1577.48 L1543.76,1578.13 L1548.63,1578.26 L1551.18,1577.77 L1592.22,1568.72 L1594.76,1568.19 L1599.43,1567.77 L1602.07,1567.82 L1644.98,1569.19 L1647.49,1569.27 L1649.88,1569.35 L1650.01,1569.35" fill="none" stroke="#c4c4c4" stroke-width="2.9" stroke-opacity="0.6" stroke-linejoin="round"/>
<path d="M1270,1586.65 L1270.17,1586.62 L1273.28,1586.03 L1276.56,1585.4 L1332.53,1574.78 L1335.88,1574.16 L1340.23,1573.66 L1341.72,1573.72 L1364.1,1575.29 L1365.53,1575.41 L1368.85,1575.95 L1371.11,1576.43 L1408.42,1584.57 L1410.72,1585.01 L1414.97,1584.77 L1417.39,1584.06 L1456.56,1571.59 L1458.93,1570.87 L1462.35,1570.24 L1463.78,1570.27 L1486.17,1571.46 L1487.62,1571.56 L1491.46,1572.21 L1494.26,1572.83 L1540.9,1583.31 L1543.76,1583.9 L1548.63,1584 L1551.18,1583.52 L1592.22,1574.81 L1594.76,1574.31 L1599.43,1573.98 L1602.07,1574.11 L1644.98,1576.81 L1647.49,1576.96 L1649.88,1577.11 L1650.01,1577.12" fill="none" stroke="#dedede" stroke-width="1.58" stroke-opacity="0.6" stroke-linejoin="round"/>
</g></g>
</g>
<rect x="1559" y="1605.4" width="73.7" height="9.2" fill="#fff"/>
<path d="M1276.2,1277 H1645.6 V1632.8 H1276.2 Z M1279.7,1281 V1629.3 H1642.1 V1281 Z" fill="#000" fill-rule="evenodd"/>
</g>
</svg>
</body></html>
